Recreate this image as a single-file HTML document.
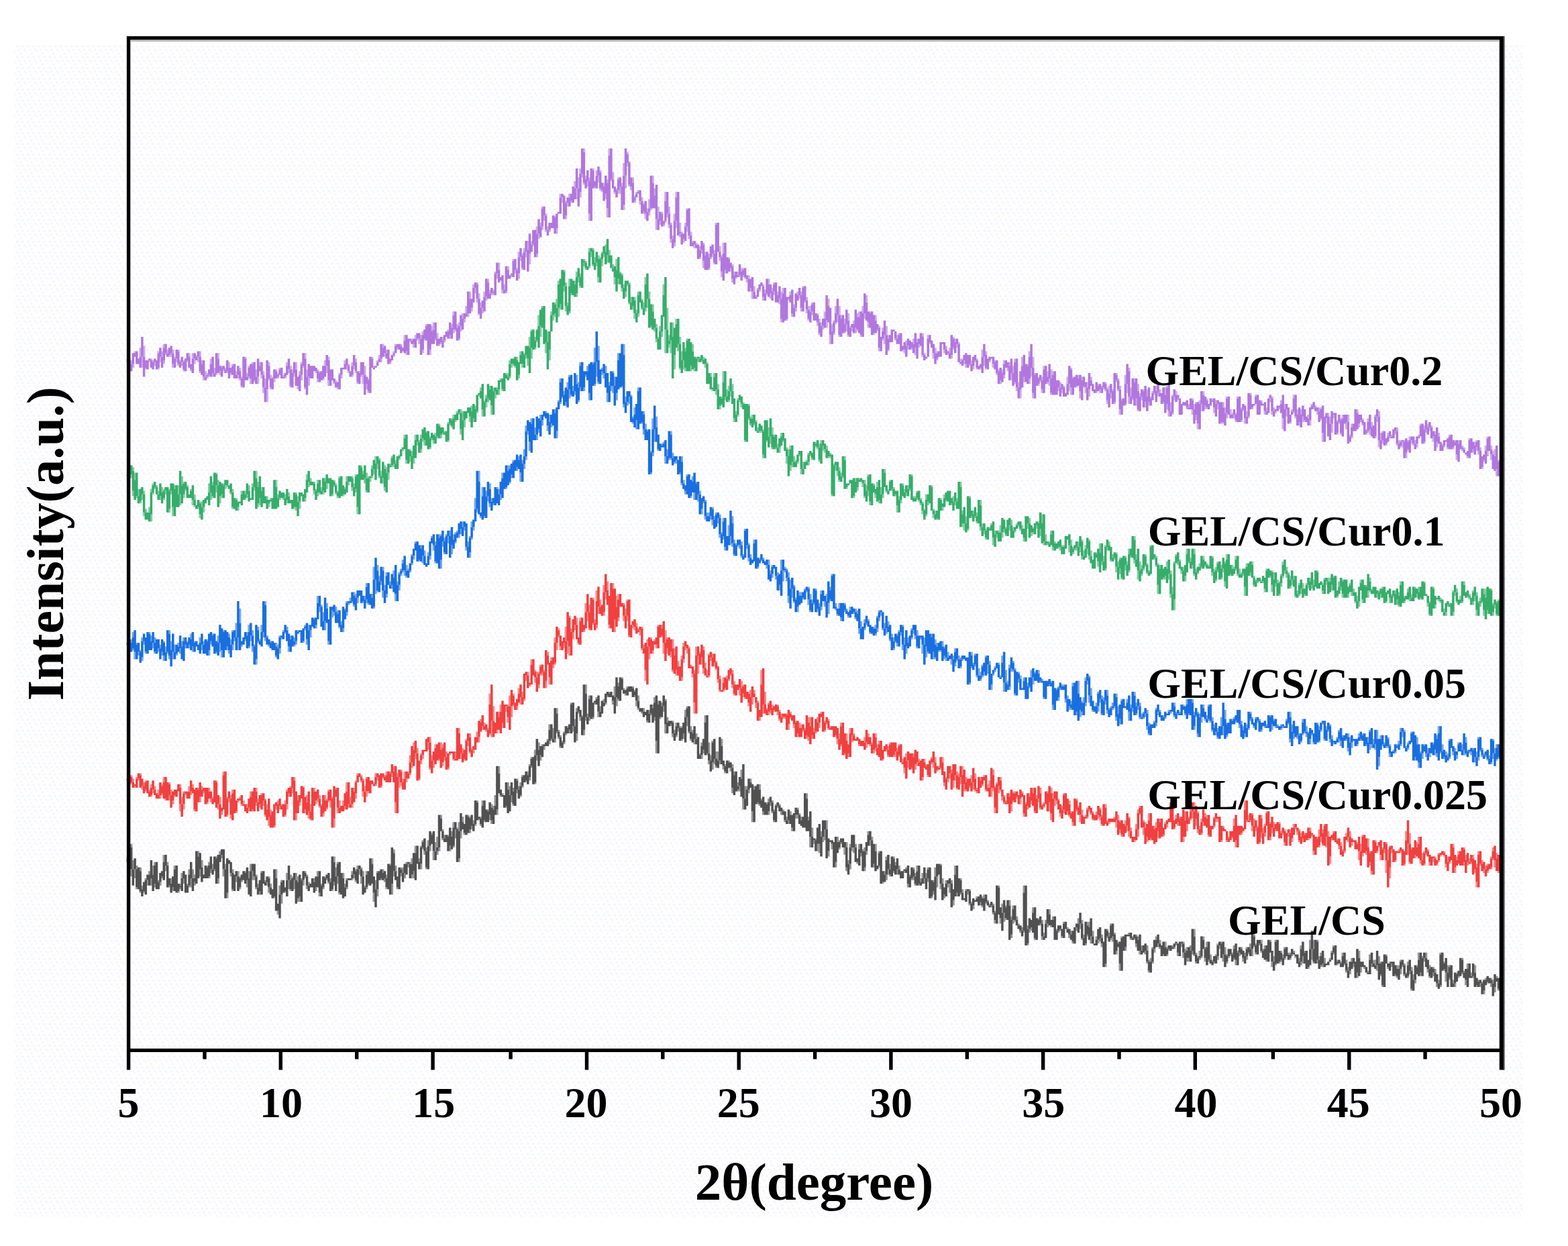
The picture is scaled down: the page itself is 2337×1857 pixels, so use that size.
<!DOCTYPE html>
<html lang="en">
<head>
<meta charset="utf-8">
<title>XRD patterns of GEL/CS films</title>
<style>
html,body{margin:0;padding:0;background:#ffffff;}
body{width:2337px;height:1857px;overflow:hidden;}
svg{display:block;}
text{font-family:"Liberation Serif","Times New Roman",serif;font-weight:bold;fill:#000;}
.tick{font-size:64px;text-anchor:middle;}
.lab{font-size:64px;}
.title{font-size:79px;text-anchor:middle;}
.ytitle{font-size:78px;text-anchor:middle;}
.c{fill:none;stroke-width:3.5;stroke-linecap:butt;}
.l{opacity:0.6;}
</style>
</head>
<body>
<svg width="2337" height="1857" viewBox="0 0 2337 1857">
<rect x="0" y="0" width="2337" height="1857" fill="#ffffff"/>
<defs><pattern id="dither" x="21.6" y="67.5" width="16.194" height="16.194" patternUnits="userSpaceOnUse"><rect width="16.194" height="16.194" fill="#fefefe"/><rect x="2.7" y="0" width="2.7" height="2.7" fill="#f2f2ff"/><rect x="10.8" y="0" width="2.7" height="2.7" fill="#f2f2ff"/><rect x="8.1" y="0" width="2.7" height="2.7" fill="#f8fff5"/><rect x="5.4" y="5.4" width="2.7" height="2.7" fill="#f2f2ff"/><rect x="13.5" y="5.4" width="2.7" height="2.7" fill="#f2f2ff"/><rect x="0" y="8.1" width="2.7" height="2.7" fill="#fff5f5"/><rect x="8.1" y="10.8" width="2.7" height="2.7" fill="#f2f2ff"/><rect x="2.7" y="13.5" width="2.7" height="2.7" fill="#f8fff5"/></pattern></defs>
<rect x="21.6" y="67.5" width="2248" height="1746" fill="url(#dither)"/>
<g id="curves">
<g stroke="#515151">
<path class="c l" d="M190.3 1276.6V1282.0M193.0 1282.0V1284.7M195.7 1257.7V1263.1M195.7 1295.5V1306.3M198.4 1282.0V1295.5M201.1 1295.5V1309.0M203.8 1290.1V1295.5M203.8 1322.5V1325.2M209.2 1292.8V1298.2M209.2 1327.9V1330.6M211.9 1319.8V1325.2M214.6 1327.9V1330.6M217.3 1309.0V1311.7M220.0 1311.7V1319.8M222.7 1298.2V1303.6M225.4 1309.0V1319.8M228.1 1290.1V1303.6M230.8 1284.7V1290.1M230.8 1317.1V1322.5M236.2 1311.7V1314.4M238.9 1314.4V1319.8M241.6 1306.3V1309.0M244.3 1273.9V1284.7M247.0 1290.1V1298.2M249.7 1284.7V1290.1M252.4 1319.8V1322.5M255.1 1309.0V1317.1M257.8 1322.5V1327.9M260.5 1290.1V1295.5M265.9 1327.9V1330.6M268.6 1317.1V1319.8M268.6 1322.5V1325.2M271.2 1300.9V1309.0M273.9 1309.0V1317.1M279.3 1317.1V1319.8M282.0 1295.5V1303.6M282.0 1319.8V1322.5M284.7 1309.0V1322.5M287.4 1295.5V1309.0M290.1 1303.6V1309.0M290.1 1314.4V1319.8M295.5 1268.5V1276.6M298.2 1295.5V1306.3M300.9 1282.0V1292.8M309.0 1290.1V1292.8M311.7 1284.7V1290.1M311.7 1306.3V1309.0M314.4 1295.5V1300.9M317.1 1287.4V1295.5M319.8 1295.5V1298.2M322.5 1276.6V1279.3M325.2 1309.0V1317.1M327.9 1268.5V1273.9M330.6 1273.9V1279.3M333.3 1295.5V1306.3M336.0 1287.4V1295.5M338.7 1330.6V1338.7M344.1 1300.9V1306.3M346.8 1295.5V1300.9M346.8 1325.2V1327.9M352.2 1306.3V1314.4M354.9 1298.2V1306.3M357.6 1306.3V1309.0M357.6 1322.5V1325.2M360.3 1311.7V1314.4M365.7 1298.2V1300.9M368.4 1311.7V1322.5M371.1 1298.2V1309.0M373.8 1287.4V1298.2M376.5 1298.2V1311.7M379.2 1306.3V1311.7M381.9 1303.6V1306.3M381.9 1322.5V1325.2M384.6 1317.1V1322.5M387.3 1327.9V1333.3M390.0 1298.2V1300.9M395.4 1311.7V1314.4M398.1 1314.4V1319.8M400.8 1306.3V1309.0M400.8 1322.5V1330.6M403.5 1317.1V1322.5M408.9 1336.0V1338.7M411.6 1295.5V1309.0M414.3 1357.6V1363.0M417.0 1319.8V1333.3M419.7 1311.7V1314.4M419.7 1333.3V1346.8M425.1 1327.9V1330.6M427.8 1300.9V1311.7M430.5 1311.7V1325.2M433.2 1303.6V1311.7M433.2 1325.2V1327.9M435.9 1306.3V1309.0M438.6 1311.7V1325.2M441.3 1300.9V1311.7M444.0 1306.3V1314.4M444.0 1338.7V1344.1M446.7 1336.0V1344.1M449.4 1309.0V1311.7M452.1 1311.7V1319.8M454.8 1298.2V1300.9M454.8 1306.3V1309.0M457.5 1303.6V1306.3M457.5 1319.8V1325.2M460.2 1314.4V1319.8M468.3 1309.0V1314.4M471.0 1322.5V1327.9M473.7 1298.2V1306.3M476.4 1330.6V1336.0M479.1 1317.1V1319.8M481.8 1322.5V1325.2M484.5 1306.3V1309.0M487.2 1309.0V1311.7M489.9 1314.4V1317.1M492.6 1309.0V1314.4M495.3 1325.2V1327.9M498.0 1276.6V1284.7M498.0 1314.4V1319.8M500.7 1292.8V1306.3M503.4 1284.7V1287.4M503.4 1306.3V1317.1M506.1 1330.6V1333.3M511.5 1300.9V1309.0M514.2 1317.1V1322.5M516.9 1309.0V1311.7M516.9 1322.5V1325.2M525.0 1298.2V1303.6M525.0 1309.0V1311.7M527.7 1303.6V1309.0M530.4 1295.5V1298.2M530.4 1311.7V1314.4M533.1 1290.1V1295.5M535.8 1295.5V1303.6M538.5 1292.8V1295.5M538.5 1306.3V1317.1M541.1 1298.2V1306.3M543.8 1319.8V1322.5M546.5 1298.2V1303.6M546.5 1322.5V1325.2M549.2 1317.1V1319.8M554.6 1279.3V1287.4M557.3 1330.6V1344.1M560.0 1311.7V1325.2M562.7 1298.2V1300.9M562.7 1325.2V1336.0M568.1 1309.0V1311.7M570.8 1295.5V1300.9M573.5 1309.0V1314.4M576.2 1303.6V1309.0M576.2 1322.5V1325.2M581.6 1287.4V1290.1M584.3 1317.1V1333.3M587.0 1265.8V1271.2M587.0 1298.2V1306.3M589.7 1290.1V1298.2M592.4 1322.5V1325.2M597.8 1292.8V1295.5M597.8 1300.9V1306.3M600.5 1292.8V1300.9M603.2 1300.9V1309.0M605.9 1284.7V1287.4M608.6 1287.4V1292.8M611.3 1284.7V1287.4M614.0 1279.3V1287.4M614.0 1303.6V1309.0M616.7 1298.2V1309.0M619.4 1260.4V1271.2M624.8 1279.3V1284.7M627.5 1260.4V1263.1M627.5 1287.4V1295.5M630.2 1252.3V1255.0M630.2 1263.1V1265.8M632.9 1268.5V1273.9M635.6 1263.1V1268.5M635.6 1292.8V1295.5M638.3 1252.3V1260.4M641.0 1260.4V1268.5M643.7 1241.5V1244.2M646.4 1268.5V1282.0M649.1 1255.0V1268.5M651.8 1246.9V1263.1M651.8 1268.5V1273.9M654.5 1263.1V1268.5M657.2 1214.5V1219.9M659.9 1236.1V1238.8M659.9 1249.6V1252.3M662.6 1244.2V1249.6M668.0 1244.2V1246.9M670.7 1260.4V1268.5M673.4 1238.8V1246.9M676.1 1225.3V1233.4M676.1 1260.4V1263.1M678.8 1236.1V1249.6M681.5 1233.4V1236.1M684.2 1225.3V1238.8M684.2 1279.3V1284.7M686.9 1238.8V1249.6M689.6 1217.2V1225.3M692.3 1241.5V1244.2M697.7 1214.5V1217.2M700.4 1217.2V1219.9M700.4 1236.1V1241.5M703.1 1230.7V1236.1M705.8 1222.6V1228.0M708.5 1228.0V1230.7M711.2 1193.0V1195.7M713.9 1219.9V1222.6M716.6 1217.2V1219.9M716.6 1228.0V1230.7M719.3 1193.0V1201.1M722.0 1222.6V1225.3M727.4 1206.5V1209.2M730.1 1214.5V1222.6M732.8 1198.4V1203.8M732.8 1222.6V1228.0M735.5 1201.1V1206.5M738.2 1184.9V1201.1M740.9 1206.5V1214.5M743.6 1141.7V1152.5M746.3 1184.9V1187.6M749.0 1182.2V1184.9M754.4 1201.1V1203.8M757.1 1166.0V1176.8M759.8 1171.4V1184.9M762.5 1184.9V1195.7M765.2 1174.1V1179.5M765.2 1198.4V1201.1M770.6 1160.6V1163.3M770.6 1176.8V1182.2M773.3 1171.4V1176.8M776.0 1166.0V1171.4M776.0 1184.9V1187.6M778.7 1155.2V1157.9M778.7 1171.4V1174.1M784.1 1163.3V1166.0M786.8 1149.8V1155.2M789.5 1139.0V1141.7M789.5 1157.9V1163.3M792.2 1128.2V1130.9M792.2 1141.7V1144.4M797.6 1117.4V1125.5M797.6 1166.0V1168.7M800.3 1125.5V1133.6M803.0 1106.6V1117.4M805.7 1125.5V1133.6M808.4 1109.3V1112.0M811.0 1112.0V1117.4M816.4 1101.2V1103.9M819.1 1079.6V1087.7M819.1 1103.9V1109.3M821.8 1101.2V1103.9M824.5 1085.0V1101.2M827.2 1101.2V1106.6M829.9 1055.3V1063.4M829.9 1090.4V1093.1M832.6 1087.7V1090.4M832.6 1098.5V1101.2M835.3 1095.8V1098.5M835.3 1112.0V1114.7M838.0 1103.9V1106.6M840.7 1090.4V1093.1M840.7 1106.6V1109.3M843.4 1093.1V1095.8M846.1 1082.3V1085.0M848.8 1087.7V1093.1M851.5 1047.2V1049.9M854.2 1082.3V1090.4M856.9 1071.5V1082.3M859.6 1055.3V1060.7M859.6 1093.1V1103.9M862.3 1060.7V1063.4M865.0 1068.8V1074.2M867.7 1066.1V1068.8M870.4 1087.7V1095.8M873.1 1020.2V1033.7M873.1 1068.8V1074.2M875.8 1063.4V1068.8M878.5 1036.4V1041.8M878.5 1068.8V1074.2M883.9 1068.8V1071.5M886.6 1047.2V1049.9M889.3 1039.1V1041.8M892.0 1060.7V1068.8M894.7 1052.6V1060.7M900.1 1041.8V1047.2M902.8 1047.2V1049.9M905.5 1036.4V1039.1M908.2 1031.0V1033.7M913.6 1044.5V1049.9M916.3 1022.9V1039.1M919.0 1039.1V1052.6M921.7 1017.5V1022.9M921.7 1041.8V1044.5M927.1 1009.4V1012.1M929.8 1025.6V1028.3M932.5 1033.7V1036.4M935.2 1022.9V1025.6M943.3 1022.9V1025.6M946.0 1028.3V1031.0M946.0 1036.4V1039.1M948.7 1044.5V1052.6M951.4 1036.4V1044.5M951.4 1055.3V1058.0M956.8 1060.7V1063.4M959.5 1055.3V1060.7M964.9 1074.2V1076.9M967.6 1058.0V1063.4M970.3 1063.4V1066.1M973.0 1049.9V1055.3M975.7 1039.1V1047.2M975.7 1068.8V1074.2M978.4 1103.9V1122.8M981.1 1044.5V1049.9M983.8 1068.8V1071.5M986.5 1047.2V1052.6M989.2 1052.6V1060.7M991.9 1041.8V1044.5M991.9 1079.6V1093.1M994.6 1068.8V1076.9M1000.0 1079.6V1082.3M1002.7 1074.2V1076.9M1002.7 1093.1V1098.5M1005.4 1087.7V1093.1M1008.1 1076.9V1082.3M1008.1 1095.8V1098.5M1010.8 1085.0V1090.4M1013.5 1082.3V1085.0M1016.2 1082.3V1085.0M1016.2 1101.2V1103.9M1018.9 1093.1V1101.2M1021.6 1058.0V1068.8M1024.3 1052.6V1055.3M1024.3 1068.8V1082.3M1027.0 1090.4V1093.1M1029.7 1082.3V1090.4M1029.7 1101.2V1103.9M1032.4 1087.7V1093.1M1035.1 1101.2V1109.3M1037.8 1093.1V1101.2M1043.2 1122.8V1125.5M1045.9 1106.6V1112.0M1045.9 1125.5V1130.9M1048.6 1117.4V1122.8M1051.3 1066.1V1076.9M1054.0 1122.8V1125.5M1056.7 1106.6V1122.8M1056.7 1133.6V1139.0M1059.4 1125.5V1133.6M1062.1 1103.9V1106.6M1062.1 1136.3V1147.1M1064.8 1130.9V1139.0M1067.5 1120.1V1130.9M1067.5 1141.7V1144.4M1070.2 1120.1V1133.6M1072.9 1133.6V1139.0M1075.6 1101.2V1112.0M1078.3 1141.7V1147.1M1080.9 1139.0V1141.7M1080.9 1149.8V1152.5M1086.3 1133.6V1136.3M1089.0 1144.4V1149.8M1091.7 1139.0V1144.4M1091.7 1174.1V1182.2M1094.4 1149.8V1155.2M1099.8 1166.0V1171.4M1099.8 1176.8V1179.5M1102.5 1171.4V1179.5M1105.2 1147.1V1160.6M1107.9 1190.3V1206.5M1110.6 1171.4V1190.3M1113.3 1171.4V1176.8M1116.0 1176.8V1182.2M1118.7 1160.6V1166.0M1121.4 1209.2V1225.3M1124.1 1171.4V1176.8M1129.5 1195.7V1198.4M1132.2 1168.7V1176.8M1132.2 1198.4V1201.1M1134.9 1190.3V1193.0M1137.6 1209.2V1214.5M1143.0 1195.7V1198.4M1145.7 1190.3V1195.7M1145.7 1209.2V1214.5M1148.4 1195.7V1201.1M1151.1 1193.0V1195.7M1151.1 1209.2V1211.9M1153.8 1206.5V1209.2M1153.8 1222.6V1225.3M1156.5 1198.4V1201.1M1159.2 1201.1V1203.8M1161.9 1198.4V1201.1M1164.6 1209.2V1214.5M1167.3 1206.5V1209.2M1170.0 1222.6V1225.3M1172.7 1217.2V1222.6M1175.4 1222.6V1228.0M1178.1 1209.2V1214.5M1180.8 1233.4V1238.8M1186.2 1214.5V1219.9M1188.9 1203.8V1206.5M1188.9 1214.5V1219.9M1191.6 1211.9V1214.5M1194.3 1217.2V1222.6M1202.4 1182.2V1190.3M1205.1 1217.2V1222.6M1207.8 1246.9V1263.1M1210.5 1233.4V1246.9M1213.2 1252.3V1257.7M1215.9 1249.6V1252.3M1218.6 1257.7V1268.5M1221.3 1257.7V1271.2M1224.0 1238.8V1246.9M1226.7 1246.9V1255.0M1229.4 1236.1V1252.3M1232.1 1222.6V1236.1M1234.8 1268.5V1276.6M1240.2 1257.7V1265.8M1245.6 1284.7V1292.8M1248.3 1246.9V1255.0M1251.0 1252.3V1255.0M1251.0 1263.1V1265.8M1253.7 1255.0V1257.7M1259.1 1263.1V1273.9M1261.8 1255.0V1263.1M1261.8 1292.8V1298.2M1264.5 1282.0V1287.4M1267.2 1257.7V1263.1M1267.2 1287.4V1295.5M1269.9 1263.1V1268.5M1272.6 1263.1V1271.2M1275.3 1257.7V1263.1M1278.0 1284.7V1287.4M1280.7 1257.7V1265.8M1283.4 1271.2V1276.6M1286.1 1265.8V1268.5M1288.8 1263.1V1268.5M1288.8 1292.8V1298.2M1291.5 1268.5V1273.9M1294.2 1238.8V1244.2M1296.9 1252.3V1260.4M1299.6 1246.9V1252.3M1302.3 1287.4V1292.8M1305.0 1257.7V1268.5M1310.4 1268.5V1271.2M1310.4 1290.1V1292.8M1315.8 1314.4V1317.1M1318.5 1298.2V1303.6M1321.2 1276.6V1282.0M1321.2 1303.6V1311.7M1323.9 1295.5V1303.6M1326.6 1287.4V1295.5M1326.6 1303.6V1306.3M1332.0 1276.6V1279.3M1332.0 1298.2V1300.9M1334.7 1284.7V1290.1M1337.4 1295.5V1303.6M1340.1 1290.1V1295.5M1348.2 1298.2V1300.9M1350.8 1292.8V1295.5M1353.5 1317.1V1322.5M1356.2 1303.6V1306.3M1358.9 1309.0V1311.7M1361.6 1292.8V1295.5M1361.6 1306.3V1311.7M1364.3 1300.9V1306.3M1364.3 1317.1V1319.8M1367.0 1290.1V1298.2M1369.7 1317.1V1319.8M1372.4 1309.0V1314.4M1375.1 1300.9V1309.0M1377.8 1309.0V1317.1M1380.5 1300.9V1309.0M1383.2 1292.8V1295.5M1383.2 1309.0V1314.4M1388.6 1336.0V1338.7M1391.3 1311.7V1314.4M1391.3 1327.9V1333.3M1394.0 1292.8V1306.3M1396.7 1306.3V1322.5M1402.1 1287.4V1290.1M1402.1 1317.1V1325.2M1404.8 1309.0V1317.1M1407.5 1333.3V1338.7M1410.2 1311.7V1317.1M1412.9 1317.1V1322.5M1415.6 1317.1V1330.6M1418.3 1311.7V1317.1M1421.0 1341.4V1349.5M1423.7 1290.1V1303.6M1426.4 1330.6V1336.0M1431.8 1309.0V1311.7M1431.8 1330.6V1333.3M1434.5 1325.2V1330.6M1439.9 1325.2V1327.9M1442.6 1327.9V1333.3M1445.3 1325.2V1327.9M1445.3 1346.8V1349.5M1448.0 1344.1V1346.8M1450.7 1349.5V1354.9M1456.1 1336.0V1338.7M1461.5 1344.1V1349.5M1464.2 1336.0V1338.7M1464.2 1349.5V1352.2M1466.9 1333.3V1338.7M1469.6 1344.1V1346.8M1472.3 1341.4V1344.1M1475.0 1346.8V1349.5M1477.7 1349.5V1352.2M1480.4 1346.8V1349.5M1480.4 1360.3V1363.0M1483.1 1357.6V1360.3M1483.1 1371.1V1376.5M1488.5 1319.8V1322.5M1491.2 1368.4V1376.5M1493.9 1346.8V1360.3M1496.6 1360.3V1373.8M1499.3 1349.5V1352.2M1499.3 1368.4V1371.1M1504.7 1341.4V1349.5M1507.4 1365.7V1371.1M1507.4 1392.7V1398.1M1510.1 1349.5V1354.9M1510.1 1371.1V1376.5M1512.8 1371.1V1373.8M1515.5 1365.7V1371.1M1518.2 1376.5V1379.2M1520.9 1387.3V1390.0M1523.6 1381.9V1387.3M1526.3 1319.8V1330.6M1526.3 1387.3V1390.0M1531.7 1379.2V1384.6M1531.7 1406.2V1408.9M1534.4 1384.6V1390.0M1537.1 1381.9V1387.3M1539.8 1352.2V1360.3M1542.5 1398.1V1400.8M1547.9 1368.4V1371.1M1550.6 1376.5V1379.2M1553.3 1371.1V1376.5M1553.3 1395.4V1400.8M1556.0 1390.0V1395.4M1558.7 1371.1V1376.5M1561.4 1376.5V1381.9M1564.1 1354.9V1363.0M1566.8 1379.2V1381.9M1569.5 1365.7V1371.1M1574.9 1384.6V1387.3M1577.6 1387.3V1390.0M1580.3 1384.6V1387.3M1583.0 1395.4V1398.1M1585.7 1373.8V1376.5M1591.1 1381.9V1384.6M1593.8 1392.7V1398.1M1596.5 1387.3V1392.7M1599.2 1403.5V1406.2M1604.6 1381.9V1387.3M1607.3 1368.4V1376.5M1610.0 1376.5V1384.6M1612.7 1371.1V1376.5M1612.7 1398.1V1400.8M1615.4 1392.7V1398.1M1618.1 1406.2V1408.9M1620.7 1373.8V1379.2M1620.7 1392.7V1395.4M1623.4 1373.8V1381.9M1626.1 1395.4V1406.2M1628.8 1387.3V1395.4M1634.2 1395.4V1400.8M1636.9 1400.8V1406.2M1639.6 1398.1V1403.5M1642.3 1392.7V1398.1M1642.3 1406.2V1411.6M1647.7 1435.9V1441.3M1650.4 1384.6V1387.3M1650.4 1395.4V1398.1M1653.1 1390.0V1395.4M1655.8 1376.5V1379.2M1655.8 1398.1V1400.8M1658.5 1395.4V1403.5M1661.2 1390.0V1392.7M1663.9 1417.0V1422.4M1666.6 1403.5V1406.2M1669.3 1435.9V1446.7M1672.0 1395.4V1398.1M1677.4 1411.6V1417.0M1682.8 1390.0V1392.7M1685.5 1398.1V1400.8M1688.2 1395.4V1398.1M1690.9 1398.1V1400.8M1693.6 1392.7V1395.4M1693.6 1406.2V1411.6M1696.3 1395.4V1400.8M1699.0 1417.0V1422.4M1701.7 1408.9V1417.0M1707.1 1417.0V1422.4M1709.8 1408.9V1417.0M1709.8 1433.2V1435.9M1712.5 1430.5V1433.2M1712.5 1446.7V1449.4M1715.2 1427.8V1433.2M1717.9 1411.6V1414.3M1717.9 1433.2V1435.9M1720.6 1414.3V1419.7M1723.3 1395.4V1400.8M1726.0 1406.2V1411.6M1728.7 1400.8V1406.2M1728.7 1411.6V1414.3M1734.1 1422.4V1425.1M1736.8 1403.5V1411.6M1739.5 1411.6V1414.3M1739.5 1422.4V1425.1M1742.2 1414.3V1417.0M1747.6 1408.9V1411.6M1750.3 1411.6V1414.3M1753.0 1406.2V1408.9M1755.7 1419.7V1425.1M1761.1 1406.2V1411.6M1763.8 1403.5V1406.2M1763.8 1419.7V1427.8M1766.5 1414.3V1419.7M1769.2 1411.6V1417.0M1769.2 1427.8V1433.2M1771.9 1427.8V1433.2M1774.6 1408.9V1417.0M1777.3 1417.0V1422.4M1780.0 1384.6V1395.4M1780.0 1422.4V1425.1M1782.7 1419.7V1422.4M1782.7 1433.2V1435.9M1785.4 1425.1V1427.8M1788.1 1417.0V1425.1M1788.1 1427.8V1430.5M1790.8 1425.1V1427.8M1793.5 1395.4V1400.8M1796.2 1411.6V1414.3M1796.2 1427.8V1433.2M1798.9 1403.5V1411.6M1801.6 1430.5V1433.2M1804.3 1422.4V1430.5M1807.0 1430.5V1433.2M1809.7 1433.2V1435.9M1812.4 1422.4V1425.1M1815.1 1406.2V1408.9M1815.1 1425.1V1430.5M1817.8 1408.9V1414.3M1820.5 1403.5V1406.2M1823.2 1422.4V1433.2M1825.9 1411.6V1422.4M1828.6 1422.4V1425.1M1828.6 1433.2V1435.9M1831.3 1425.1V1427.8M1834.0 1422.4V1425.1M1836.7 1419.7V1422.4M1839.4 1408.9V1414.3M1839.4 1427.8V1430.5M1842.1 1430.5V1438.6M1844.8 1417.0V1419.7M1847.5 1419.7V1425.1M1850.2 1411.6V1414.3M1852.9 1427.8V1433.2M1855.6 1419.7V1425.1M1858.3 1411.6V1414.3M1858.3 1425.1V1430.5M1861.0 1419.7V1422.4M1863.7 1406.2V1414.3M1866.4 1414.3V1425.1M1869.1 1392.7V1395.4M1869.1 1408.9V1411.6M1871.8 1406.2V1408.9M1871.8 1419.7V1422.4M1877.2 1406.2V1408.9M1879.9 1400.8V1406.2M1879.9 1417.0V1419.7M1882.6 1414.3V1417.0M1885.3 1408.9V1414.3M1888.0 1430.5V1433.2M1893.3 1400.8V1403.5M1896.0 1433.2V1441.3M1898.7 1425.1V1433.2M1901.4 1400.8V1403.5M1901.4 1435.9V1438.6M1906.8 1433.2V1435.9M1909.5 1417.0V1419.7M1909.5 1430.5V1433.2M1912.2 1422.4V1427.8M1914.9 1411.6V1414.3M1914.9 1427.8V1430.5M1920.3 1419.7V1422.4M1923.0 1419.7V1422.4M1923.0 1427.8V1430.5M1925.7 1422.4V1425.1M1928.4 1417.0V1419.7M1931.1 1425.1V1427.8M1936.5 1427.8V1433.2M1939.2 1408.9V1414.3M1939.2 1433.2V1438.6M1941.9 1425.1V1435.9M1944.6 1417.0V1419.7M1950.0 1441.3V1444.0M1952.7 1400.8V1414.3M1955.4 1414.3V1430.5M1958.1 1400.8V1414.3M1958.1 1433.2V1435.9M1963.5 1400.8V1403.5M1963.5 1430.5V1435.9M1966.2 1425.1V1430.5M1968.9 1419.7V1425.1M1968.9 1438.6V1441.3M1971.6 1435.9V1441.3M1974.3 1427.8V1435.9M1982.4 1427.8V1430.5M1985.1 1417.0V1419.7M1987.8 1408.9V1411.6M1987.8 1419.7V1422.4M1993.2 1430.5V1433.2M1993.2 1435.9V1438.6M1998.6 1433.2V1435.9M2001.3 1419.7V1425.1M2004.0 1435.9V1438.6M2006.7 1430.5V1435.9M2006.7 1446.7V1449.4M2009.4 1441.3V1446.7M2012.1 1446.7V1452.1M2014.8 1427.8V1433.2M2017.5 1435.9V1441.3M2022.9 1449.4V1457.5M2025.6 1417.0V1427.8M2028.3 1441.3V1449.4M2033.7 1441.3V1444.0M2039.1 1446.7V1449.4M2041.8 1422.4V1430.5M2044.5 1435.9V1441.3M2047.2 1430.5V1435.9M2049.9 1430.5V1438.6M2052.6 1438.6V1446.7M2055.3 1425.1V1435.9M2058.0 1433.2V1435.9M2058.0 1452.1V1454.8M2060.7 1468.3V1471.0M2066.1 1422.4V1425.1M2068.8 1441.3V1444.0M2071.5 1433.2V1435.9M2074.2 1435.9V1441.3M2079.6 1452.1V1454.8M2082.3 1438.6V1444.0M2082.3 1454.8V1457.5M2085.0 1438.6V1444.0M2087.7 1430.5V1433.2M2087.7 1444.0V1452.1M2090.4 1438.6V1441.3M2093.1 1435.9V1438.6M2093.1 1452.1V1454.8M2095.8 1449.4V1452.1M2098.5 1433.2V1438.6M2098.5 1454.8V1457.5M2101.2 1446.7V1452.1M2103.9 1441.3V1446.7M2103.9 1473.7V1476.4M2106.6 1452.1V1460.2M2109.3 1460.2V1465.6M2112.0 1438.6V1441.3M2114.7 1419.7V1430.5M2117.4 1449.4V1454.8M2120.1 1425.1V1427.8M2122.8 1427.8V1433.2M2125.5 1419.7V1427.8M2128.2 1444.0V1449.4M2130.9 1438.6V1444.0M2130.9 1454.8V1457.5M2136.3 1441.3V1444.0M2136.3 1449.4V1454.8M2139.0 1444.0V1449.4M2141.7 1465.6V1471.0M2144.4 1460.2V1465.6M2147.1 1419.7V1422.4M2147.1 1468.3V1471.0M2152.5 1433.2V1435.9M2152.5 1444.0V1446.7M2155.2 1449.4V1462.9M2157.9 1438.6V1449.4M2160.5 1438.6V1441.3M2160.5 1457.5V1460.2M2165.9 1460.2V1465.6M2168.6 1465.6V1471.0M2171.3 1449.4V1452.1M2174.0 1454.8V1457.5M2179.4 1427.8V1430.5M2179.4 1449.4V1452.1M2182.1 1446.7V1449.4M2184.8 1460.2V1468.3M2187.5 1435.9V1444.0M2192.9 1449.4V1454.8M2195.6 1454.8V1457.5M2198.3 1438.6V1449.4M2201.0 1468.3V1471.0M2203.7 1460.2V1462.9M2206.4 1465.6V1471.0M2209.1 1462.9V1465.6M2211.8 1476.4V1481.8M2214.5 1457.5V1460.2M2217.2 1462.9V1465.6M2222.6 1457.5V1460.2M2222.6 1465.6V1471.0M2225.3 1460.2V1465.6M2228.0 1471.0V1479.1M2230.7 1454.8V1457.5M2233.4 1473.7V1476.4M2238.8 1462.9V1465.6"/>
<path class="c" d="M190.3 1282.0V1284.7M193.0 1257.7V1282.0M195.7 1263.1V1295.5M198.4 1295.5V1319.8M201.1 1279.3V1295.5M203.8 1295.5V1322.5M206.5 1292.8V1325.2M209.2 1298.2V1327.9M211.9 1325.2V1336.0M214.6 1314.4V1327.9M217.3 1311.7V1333.3M220.0 1303.6V1311.7M222.7 1303.6V1319.8M225.4 1282.0V1309.0M228.1 1303.6V1327.9M230.8 1290.1V1317.1M233.5 1284.7V1325.2M236.2 1314.4V1325.2M238.9 1300.9V1314.4M241.6 1298.2V1306.3M244.3 1284.7V1311.7M247.0 1273.9V1290.1M249.7 1290.1V1322.5M252.4 1309.0V1319.8M255.1 1317.1V1330.6M257.8 1306.3V1322.5M260.5 1295.5V1327.9M263.2 1290.1V1330.6M265.9 1317.1V1327.9M268.6 1319.8V1322.5M271.2 1309.0V1327.9M273.9 1298.2V1309.0M276.6 1303.6V1330.6M279.3 1319.8V1330.6M282.0 1303.6V1319.8M284.7 1284.7V1309.0M287.4 1309.0V1327.9M290.1 1309.0V1314.4M292.8 1268.5V1317.1M295.5 1276.6V1309.0M298.2 1271.2V1295.5M300.9 1292.8V1314.4M303.6 1303.6V1309.0M306.3 1290.1V1309.0M309.0 1292.8V1309.0M311.7 1290.1V1306.3M314.4 1276.6V1295.5M317.1 1295.5V1303.6M319.8 1276.6V1295.5M322.5 1279.3V1317.1M325.2 1273.9V1309.0M327.9 1273.9V1284.7M330.6 1265.8V1273.9M333.3 1265.8V1295.5M336.0 1295.5V1338.7M338.7 1279.3V1330.6M341.4 1282.0V1287.4M344.1 1284.7V1300.9M346.8 1300.9V1325.2M349.5 1303.6V1327.9M352.2 1298.2V1306.3M354.9 1306.3V1327.9M357.6 1309.0V1322.5M360.3 1303.6V1311.7M363.0 1298.2V1311.7M365.7 1300.9V1317.1M368.4 1292.8V1311.7M371.1 1309.0V1333.3M373.8 1298.2V1336.0M376.5 1287.4V1298.2M379.2 1287.4V1306.3M381.9 1306.3V1322.5M384.6 1322.5V1333.3M387.3 1311.7V1327.9M390.0 1300.9V1333.3M392.7 1298.2V1317.1M395.4 1314.4V1319.8M398.1 1306.3V1314.4M400.8 1309.0V1322.5M403.5 1322.5V1333.3M406.2 1325.2V1338.7M408.9 1295.5V1336.0M411.6 1309.0V1357.6M414.3 1346.8V1357.6M417.0 1333.3V1368.4M419.7 1314.4V1333.3M422.4 1311.7V1330.6M425.1 1322.5V1327.9M427.8 1311.7V1336.0M430.5 1290.1V1311.7M433.2 1311.7V1325.2M435.9 1309.0V1327.9M438.6 1300.9V1311.7M441.3 1311.7V1346.8M444.0 1314.4V1338.7M446.7 1303.6V1336.0M449.4 1311.7V1344.1M452.1 1298.2V1311.7M454.8 1300.9V1306.3M457.5 1306.3V1319.8M460.2 1319.8V1327.9M462.9 1317.1V1322.5M465.6 1309.0V1322.5M468.3 1314.4V1330.6M471.0 1306.3V1322.5M473.7 1306.3V1322.5M476.4 1298.2V1330.6M479.1 1319.8V1336.0M481.8 1306.3V1322.5M484.5 1309.0V1317.1M487.2 1303.6V1309.0M489.9 1300.9V1314.4M492.6 1314.4V1327.9M495.3 1276.6V1325.2M498.0 1284.7V1314.4M500.7 1306.3V1327.9M503.4 1287.4V1306.3M506.1 1284.7V1330.6M508.8 1300.9V1333.3M511.5 1309.0V1338.7M514.2 1322.5V1336.0M516.9 1311.7V1322.5M519.6 1309.0V1311.7M522.3 1309.0V1311.7M525.0 1303.6V1309.0M527.7 1292.8V1303.6M530.4 1298.2V1311.7M533.1 1295.5V1317.1M535.8 1290.1V1295.5M538.5 1295.5V1306.3M541.1 1306.3V1333.3M543.8 1322.5V1330.6M546.5 1303.6V1322.5M549.2 1298.2V1317.1M551.9 1279.3V1319.8M554.6 1287.4V1317.1M557.3 1306.3V1330.6M560.0 1325.2V1352.2M562.7 1300.9V1325.2M565.4 1298.2V1311.7M568.1 1295.5V1309.0M570.8 1300.9V1311.7M573.5 1298.2V1309.0M576.2 1309.0V1322.5M578.9 1287.4V1325.2M581.6 1290.1V1333.3M584.3 1263.1V1317.1M587.0 1271.2V1298.2M589.7 1298.2V1311.7M592.4 1306.3V1322.5M595.1 1292.8V1325.2M597.8 1295.5V1300.9M600.5 1300.9V1314.4M603.2 1287.4V1300.9M605.9 1287.4V1303.6M608.6 1284.7V1287.4M611.3 1287.4V1309.0M614.0 1287.4V1303.6M616.7 1271.2V1298.2M619.4 1271.2V1311.7M622.1 1260.4V1287.4M624.8 1284.7V1295.5M627.5 1263.1V1287.4M630.2 1255.0V1263.1M632.9 1249.6V1268.5M635.6 1268.5V1292.8M638.3 1260.4V1295.5M641.0 1238.8V1260.4M643.7 1244.2V1257.7M646.4 1238.8V1268.5M649.1 1268.5V1282.0M651.8 1263.1V1268.5M654.5 1214.5V1263.1M657.2 1219.9V1238.8M659.9 1238.8V1249.6M662.6 1249.6V1255.0M665.3 1244.2V1255.0M668.0 1246.9V1268.5M670.7 1233.4V1260.4M673.4 1246.9V1265.8M676.1 1233.4V1260.4M678.8 1225.3V1236.1M681.5 1236.1V1284.7M684.2 1238.8V1279.3M686.9 1211.9V1238.8M689.6 1225.3V1236.1M692.3 1228.0V1241.5M695.0 1214.5V1244.2M697.7 1217.2V1241.5M700.4 1219.9V1236.1M703.1 1214.5V1230.7M705.8 1228.0V1238.8M708.5 1193.0V1228.0M711.2 1195.7V1222.6M713.9 1217.2V1219.9M716.6 1219.9V1228.0M719.3 1201.1V1233.4M722.0 1193.0V1222.6M724.7 1206.5V1225.3M727.4 1209.2V1225.3M730.1 1195.7V1214.5M732.8 1203.8V1222.6M735.5 1206.5V1228.0M738.2 1201.1V1214.5M740.9 1141.7V1206.5M743.6 1152.5V1182.2M746.3 1176.8V1184.9M749.0 1184.9V1187.6M751.7 1184.9V1203.8M754.4 1166.0V1201.1M757.1 1176.8V1211.9M759.8 1184.9V1209.2M762.5 1166.0V1184.9M765.2 1179.5V1198.4M767.9 1160.6V1201.1M770.6 1163.3V1176.8M773.3 1176.8V1190.3M776.0 1171.4V1184.9M778.7 1157.9V1171.4M781.4 1155.2V1166.0M784.1 1149.8V1163.3M786.8 1155.2V1168.7M789.5 1141.7V1157.9M792.2 1130.9V1141.7M794.9 1128.2V1168.7M797.6 1125.5V1166.0M800.3 1101.2V1125.5M803.0 1117.4V1141.7M805.7 1112.0V1125.5M808.4 1112.0V1128.2M811.0 1109.3V1112.0M813.7 1106.6V1112.0M816.4 1103.9V1112.0M819.1 1087.7V1103.9M821.8 1079.6V1101.2M824.5 1101.2V1106.6M827.2 1055.3V1101.2M829.9 1063.4V1090.4M832.6 1090.4V1098.5M835.3 1098.5V1112.0M838.0 1106.6V1114.7M840.7 1093.1V1106.6M843.4 1082.3V1093.1M846.1 1085.0V1093.1M848.8 1079.6V1087.7M851.5 1049.9V1093.1M854.2 1047.2V1082.3M856.9 1082.3V1106.6M859.6 1060.7V1093.1M862.3 1052.6V1060.7M865.0 1058.0V1068.8M867.7 1068.8V1095.8M870.4 1020.2V1087.7M873.1 1033.7V1068.8M875.8 1068.8V1079.6M878.5 1041.8V1068.8M881.2 1036.4V1071.5M883.9 1047.2V1068.8M886.6 1044.5V1047.2M889.3 1041.8V1049.9M892.0 1036.4V1060.7M894.7 1060.7V1068.8M897.4 1044.5V1063.4M900.1 1047.2V1052.6M902.8 1033.7V1047.2M905.5 1031.0V1036.4M908.2 1033.7V1039.1M910.9 1031.0V1039.1M913.6 1036.4V1044.5M916.3 1039.1V1063.4M919.0 1009.4V1039.1M921.7 1022.9V1041.8M924.4 1009.4V1044.5M927.1 1012.1V1028.3M929.8 1028.3V1033.7M932.5 1028.3V1033.7M935.2 1025.6V1036.4M937.9 1022.9V1031.0M940.6 1022.9V1031.0M943.3 1025.6V1039.1M946.0 1031.0V1036.4M948.7 1025.6V1044.5M951.4 1044.5V1055.3M954.1 1055.3V1060.7M956.8 1055.3V1060.7M959.5 1060.7V1068.8M962.2 1060.7V1066.1M964.9 1058.0V1074.2M967.6 1063.4V1076.9M970.3 1049.9V1063.4M973.0 1055.3V1076.9M975.7 1047.2V1068.8M978.4 1036.4V1103.9M981.1 1049.9V1122.8M983.8 1044.5V1068.8M986.5 1052.6V1068.8M989.2 1036.4V1052.6M991.9 1044.5V1079.6M994.6 1076.9V1093.1M997.3 1074.2V1082.3M1000.0 1074.2V1079.6M1002.7 1076.9V1093.1M1005.4 1093.1V1103.9M1008.1 1082.3V1095.8M1010.8 1076.9V1085.0M1013.5 1085.0V1103.9M1016.2 1085.0V1101.2M1018.9 1076.9V1093.1M1021.6 1068.8V1106.6M1024.3 1055.3V1068.8M1027.0 1052.6V1090.4M1029.7 1090.4V1101.2M1032.4 1093.1V1106.6M1035.1 1082.3V1101.2M1037.8 1101.2V1109.3M1040.5 1098.5V1130.9M1043.2 1125.5V1130.9M1045.9 1112.0V1125.5M1048.6 1101.2V1117.4M1051.3 1076.9V1125.5M1054.0 1066.1V1122.8M1056.7 1122.8V1133.6M1059.4 1133.6V1149.8M1062.1 1106.6V1136.3M1064.8 1101.2V1130.9M1067.5 1130.9V1141.7M1070.2 1133.6V1144.4M1072.9 1098.5V1133.6M1075.6 1112.0V1139.0M1078.3 1133.6V1141.7M1080.9 1141.7V1149.8M1083.6 1133.6V1152.5M1086.3 1136.3V1144.4M1089.0 1136.3V1144.4M1091.7 1144.4V1174.1M1094.4 1155.2V1184.9M1097.1 1149.8V1179.5M1099.8 1171.4V1176.8M1102.5 1157.9V1171.4M1105.2 1160.6V1187.6M1107.9 1139.0V1190.3M1110.6 1190.3V1206.5M1113.3 1176.8V1201.1M1116.0 1160.6V1176.8M1118.7 1166.0V1174.1M1121.4 1168.7V1209.2M1124.1 1176.8V1225.3M1126.8 1171.4V1198.4M1129.5 1168.7V1195.7M1132.2 1176.8V1198.4M1134.9 1193.0V1203.8M1137.6 1187.6V1209.2M1140.3 1195.7V1214.5M1143.0 1198.4V1214.5M1145.7 1195.7V1209.2M1148.4 1187.6V1195.7M1151.1 1195.7V1209.2M1153.8 1209.2V1222.6M1156.5 1201.1V1225.3M1159.2 1195.7V1201.1M1161.9 1201.1V1209.2M1164.6 1203.8V1209.2M1167.3 1209.2V1214.5M1170.0 1209.2V1222.6M1172.7 1222.6V1228.0M1175.4 1206.5V1222.6M1178.1 1214.5V1228.0M1180.8 1214.5V1233.4M1183.5 1211.9V1238.8M1186.2 1203.8V1214.5M1188.9 1206.5V1214.5M1191.6 1214.5V1228.0M1194.3 1222.6V1230.7M1197.0 1217.2V1233.4M1199.7 1182.2V1233.4M1202.4 1190.3V1238.8M1205.1 1222.6V1238.8M1207.8 1209.2V1246.9M1210.5 1246.9V1263.1M1213.2 1249.6V1252.3M1215.9 1252.3V1268.5M1218.6 1233.4V1257.7M1221.3 1228.0V1257.7M1224.0 1246.9V1276.6M1226.7 1222.6V1246.9M1229.4 1222.6V1236.1M1232.1 1236.1V1279.3M1234.8 1249.6V1268.5M1237.5 1252.3V1255.0M1240.2 1252.3V1257.7M1242.9 1255.0V1292.8M1245.6 1246.9V1284.7M1248.3 1255.0V1271.2M1251.0 1255.0V1263.1M1253.7 1249.6V1255.0M1256.4 1249.6V1263.1M1259.1 1255.0V1263.1M1261.8 1263.1V1292.8M1264.5 1287.4V1303.6M1267.2 1263.1V1287.4M1269.9 1244.2V1263.1M1272.6 1244.2V1263.1M1275.3 1263.1V1284.7M1278.0 1279.3V1284.7M1280.7 1265.8V1290.1M1283.4 1257.7V1271.2M1286.1 1268.5V1298.2M1288.8 1268.5V1292.8M1291.5 1255.0V1268.5M1294.2 1244.2V1260.4M1296.9 1238.8V1252.3M1299.6 1252.3V1292.8M1302.3 1257.7V1287.4M1305.0 1268.5V1298.2M1307.7 1290.1V1295.5M1310.4 1271.2V1290.1M1313.1 1268.5V1317.1M1315.8 1298.2V1314.4M1318.5 1303.6V1314.4M1321.2 1282.0V1303.6M1323.9 1273.9V1295.5M1326.6 1295.5V1303.6M1329.3 1276.6V1306.3M1332.0 1279.3V1298.2M1334.7 1290.1V1303.6M1337.4 1279.3V1295.5M1340.1 1295.5V1303.6M1342.8 1298.2V1309.0M1345.5 1298.2V1309.0M1348.2 1295.5V1298.2M1350.8 1295.5V1300.9M1353.5 1290.1V1317.1M1356.2 1306.3V1322.5M1358.9 1292.8V1309.0M1361.6 1295.5V1306.3M1364.3 1306.3V1317.1M1367.0 1298.2V1319.8M1369.7 1290.1V1317.1M1372.4 1314.4V1319.8M1375.1 1309.0V1317.1M1377.8 1292.8V1309.0M1380.5 1309.0V1325.2M1383.2 1295.5V1309.0M1385.9 1292.8V1338.7M1388.6 1311.7V1336.0M1391.3 1314.4V1327.9M1394.0 1306.3V1341.4M1396.7 1287.4V1306.3M1399.4 1287.4V1303.6M1402.1 1290.1V1317.1M1404.8 1317.1V1341.4M1407.5 1322.5V1333.3M1410.2 1317.1V1336.0M1412.9 1311.7V1317.1M1415.6 1309.0V1317.1M1418.3 1317.1V1352.2M1421.0 1325.2V1341.4M1423.7 1303.6V1336.0M1426.4 1290.1V1330.6M1429.1 1309.0V1336.0M1431.8 1311.7V1330.6M1434.5 1330.6V1341.4M1437.2 1338.7V1341.4M1439.9 1327.9V1344.1M1442.6 1325.2V1327.9M1445.3 1327.9V1346.8M1448.0 1346.8V1357.6M1450.7 1338.7V1349.5M1453.4 1341.4V1344.1M1456.1 1338.7V1344.1M1458.8 1336.0V1349.5M1461.5 1333.3V1344.1M1464.2 1338.7V1349.5M1466.9 1338.7V1357.6M1469.6 1333.3V1344.1M1472.3 1344.1V1349.5M1475.0 1349.5V1352.2M1477.7 1344.1V1349.5M1480.4 1349.5V1360.3M1483.1 1360.3V1371.1M1485.8 1319.8V1376.5M1488.5 1322.5V1363.0M1491.2 1352.2V1368.4M1493.9 1360.3V1387.3M1496.6 1341.4V1360.3M1499.3 1352.2V1368.4M1502.0 1341.4V1371.1M1504.7 1349.5V1400.8M1507.4 1371.1V1392.7M1510.1 1354.9V1371.1M1512.8 1349.5V1371.1M1515.5 1371.1V1379.2M1518.2 1379.2V1384.6M1520.9 1379.2V1387.3M1523.6 1387.3V1395.4M1526.3 1330.6V1387.3M1529.0 1319.8V1408.9M1531.7 1384.6V1406.2M1534.4 1368.4V1384.6M1537.1 1371.1V1381.9M1539.8 1360.3V1390.0M1542.5 1352.2V1398.1M1545.2 1368.4V1400.8M1547.9 1371.1V1379.2M1550.6 1365.7V1376.5M1553.3 1376.5V1395.4M1556.0 1395.4V1400.8M1558.7 1376.5V1398.1M1561.4 1354.9V1376.5M1564.1 1363.0V1379.2M1566.8 1371.1V1379.2M1569.5 1371.1V1381.9M1572.2 1365.7V1400.8M1574.9 1387.3V1400.8M1577.6 1379.2V1387.3M1580.3 1379.2V1384.6M1583.0 1384.6V1395.4M1585.7 1376.5V1398.1M1588.4 1373.8V1384.6M1591.1 1384.6V1390.0M1593.8 1384.6V1392.7M1596.5 1392.7V1400.8M1599.2 1387.3V1403.5M1601.9 1381.9V1406.2M1604.6 1376.5V1381.9M1607.3 1376.5V1390.0M1610.0 1360.3V1376.5M1612.7 1376.5V1398.1M1615.4 1398.1V1408.9M1618.1 1373.8V1406.2M1620.7 1379.2V1392.7M1623.4 1381.9V1400.8M1626.1 1368.4V1395.4M1628.8 1395.4V1406.2M1631.5 1406.2V1408.9M1634.2 1400.8V1408.9M1636.9 1384.6V1400.8M1639.6 1381.9V1398.1M1642.3 1398.1V1406.2M1645.0 1403.5V1441.3M1647.7 1384.6V1435.9M1650.4 1387.3V1395.4M1653.1 1395.4V1403.5M1655.8 1379.2V1398.1M1658.5 1376.5V1395.4M1661.2 1392.7V1422.4M1663.9 1400.8V1417.0M1666.6 1406.2V1411.6M1669.3 1403.5V1435.9M1672.0 1398.1V1446.7M1674.7 1395.4V1417.0M1677.4 1392.7V1411.6M1680.1 1392.7V1395.4M1682.8 1392.7V1395.4M1685.5 1390.0V1398.1M1688.2 1398.1V1400.8M1690.9 1392.7V1398.1M1693.6 1395.4V1406.2M1696.3 1400.8V1417.0M1699.0 1392.7V1417.0M1701.7 1417.0V1422.4M1704.4 1408.9V1419.7M1707.1 1406.2V1417.0M1709.8 1417.0V1433.2M1712.5 1433.2V1446.7M1715.2 1433.2V1449.4M1717.9 1414.3V1433.2M1720.6 1400.8V1414.3M1723.3 1400.8V1411.6M1726.0 1392.7V1406.2M1728.7 1406.2V1411.6M1731.4 1408.9V1425.1M1734.1 1403.5V1422.4M1736.8 1411.6V1425.1M1739.5 1414.3V1422.4M1742.2 1408.9V1414.3M1744.9 1408.9V1417.0M1747.6 1411.6V1414.3M1750.3 1406.2V1411.6M1753.0 1403.5V1406.2M1755.7 1406.2V1419.7M1758.4 1403.5V1425.1M1761.1 1403.5V1406.2M1763.8 1406.2V1419.7M1766.5 1419.7V1438.6M1769.2 1417.0V1427.8M1771.9 1411.6V1427.8M1774.6 1417.0V1433.2M1777.3 1384.6V1417.0M1780.0 1395.4V1422.4M1782.7 1422.4V1433.2M1785.4 1427.8V1435.9M1788.1 1425.1V1427.8M1790.8 1395.4V1425.1M1793.5 1400.8V1414.3M1796.2 1414.3V1427.8M1798.9 1411.6V1438.6M1801.6 1403.5V1430.5M1804.3 1430.5V1435.9M1807.0 1433.2V1438.6M1809.7 1425.1V1433.2M1812.4 1425.1V1435.9M1815.1 1408.9V1425.1M1817.8 1403.5V1408.9M1820.5 1406.2V1427.8M1823.2 1403.5V1422.4M1825.9 1422.4V1441.3M1828.6 1425.1V1433.2M1831.3 1414.3V1425.1M1834.0 1414.3V1422.4M1836.7 1422.4V1433.2M1839.4 1414.3V1427.8M1842.1 1406.2V1430.5M1844.8 1419.7V1438.6M1847.5 1411.6V1419.7M1850.2 1414.3V1422.4M1852.9 1417.0V1427.8M1855.6 1425.1V1435.9M1858.3 1414.3V1425.1M1861.0 1411.6V1419.7M1863.7 1414.3V1425.1M1866.4 1390.0V1414.3M1869.1 1395.4V1408.9M1871.8 1408.9V1419.7M1874.5 1400.8V1422.4M1877.2 1400.8V1406.2M1879.9 1406.2V1417.0M1882.6 1417.0V1427.8M1885.3 1414.3V1430.5M1888.0 1408.9V1430.5M1890.6 1400.8V1433.2M1893.3 1403.5V1419.7M1896.0 1417.0V1433.2M1898.7 1433.2V1446.7M1901.4 1403.5V1435.9M1904.1 1400.8V1435.9M1906.8 1417.0V1433.2M1909.5 1419.7V1430.5M1912.2 1427.8V1438.6M1914.9 1414.3V1427.8M1917.6 1411.6V1425.1M1920.3 1422.4V1430.5M1923.0 1422.4V1427.8M1925.7 1414.3V1422.4M1928.4 1419.7V1422.4M1931.1 1422.4V1425.1M1933.8 1422.4V1435.9M1936.5 1433.2V1441.3M1939.2 1414.3V1433.2M1941.9 1403.5V1425.1M1944.6 1419.7V1435.9M1947.3 1417.0V1444.0M1950.0 1430.5V1441.3M1952.7 1414.3V1438.6M1955.4 1387.3V1414.3M1958.1 1414.3V1433.2M1960.8 1400.8V1435.9M1963.5 1403.5V1430.5M1966.2 1430.5V1444.0M1968.9 1425.1V1438.6M1971.6 1417.0V1435.9M1974.3 1435.9V1441.3M1977.0 1435.9V1438.6M1979.7 1433.2V1438.6M1982.4 1430.5V1433.2M1985.1 1419.7V1430.5M1987.8 1411.6V1419.7M1990.5 1408.9V1438.6M1993.2 1433.2V1435.9M1995.9 1430.5V1435.9M1998.6 1435.9V1441.3M2001.3 1425.1V1441.3M2004.0 1419.7V1435.9M2006.7 1435.9V1446.7M2009.4 1446.7V1457.5M2012.1 1433.2V1446.7M2014.8 1433.2V1444.0M2017.5 1427.8V1435.9M2020.2 1433.2V1457.5M2022.9 1414.3V1449.4M2025.6 1427.8V1454.8M2028.3 1433.2V1441.3M2031.0 1433.2V1441.3M2033.7 1438.6V1441.3M2036.4 1441.3V1449.4M2039.1 1449.4V1452.1M2041.8 1430.5V1452.1M2044.5 1419.7V1435.9M2047.2 1435.9V1441.3M2049.9 1438.6V1444.0M2052.6 1417.0V1438.6M2055.3 1435.9V1460.2M2058.0 1435.9V1452.1M2060.7 1433.2V1468.3M2063.4 1422.4V1471.0M2066.1 1425.1V1435.9M2068.8 1435.9V1441.3M2071.5 1435.9V1446.7M2074.2 1433.2V1435.9M2076.9 1433.2V1454.8M2079.6 1438.6V1452.1M2082.3 1444.0V1454.8M2085.0 1444.0V1460.2M2087.7 1433.2V1444.0M2090.4 1430.5V1438.6M2093.1 1438.6V1452.1M2095.8 1452.1V1457.5M2098.5 1438.6V1454.8M2101.2 1430.5V1446.7M2103.9 1446.7V1473.7M2106.6 1460.2V1476.4M2109.3 1438.6V1460.2M2112.0 1441.3V1452.1M2114.7 1430.5V1454.8M2117.4 1419.7V1449.4M2120.1 1427.8V1454.8M2122.8 1419.7V1427.8M2125.5 1427.8V1441.3M2128.2 1430.5V1444.0M2130.9 1444.0V1454.8M2133.6 1441.3V1457.5M2136.3 1444.0V1449.4M2139.0 1449.4V1462.9M2141.7 1452.1V1465.6M2144.4 1465.6V1473.7M2147.1 1422.4V1468.3M2149.8 1419.7V1446.7M2152.5 1435.9V1444.0M2155.2 1427.8V1449.4M2157.9 1449.4V1471.0M2160.5 1441.3V1457.5M2163.2 1438.6V1471.0M2165.9 1465.6V1471.0M2168.6 1449.4V1465.6M2171.3 1452.1V1462.9M2174.0 1446.7V1454.8M2176.7 1427.8V1454.8M2179.4 1430.5V1449.4M2182.1 1449.4V1457.5M2184.8 1444.0V1460.2M2187.5 1444.0V1471.0M2190.2 1435.9V1457.5M2192.9 1454.8V1457.5M2195.6 1435.9V1454.8M2198.3 1449.4V1471.0M2201.0 1457.5V1468.3M2203.7 1462.9V1471.0M2206.4 1460.2V1465.6M2209.1 1465.6V1481.8M2211.8 1460.2V1476.4M2214.5 1460.2V1468.3M2217.2 1454.8V1462.9M2219.9 1457.5V1465.6M2222.6 1460.2V1465.6M2225.3 1465.6V1484.4M2228.0 1452.1V1471.0M2230.7 1457.5V1462.9M2233.4 1457.5V1473.7M2236.1 1462.9V1476.4"/>
</g>
<g stroke="#F14040">
<path class="c l" d="M193.0 1160.6V1163.3M195.7 1155.2V1157.9M195.7 1166.0V1168.7M198.4 1160.6V1166.0M201.1 1171.4V1174.1M203.8 1157.9V1160.6M206.5 1160.6V1163.3M209.2 1152.5V1155.2M211.9 1171.4V1176.8M214.6 1166.0V1171.4M217.3 1163.3V1166.0M217.3 1176.8V1179.5M222.7 1176.8V1179.5M225.4 1168.7V1174.1M225.4 1184.9V1187.6M228.1 1176.8V1182.2M230.8 1171.4V1176.8M236.2 1176.8V1184.9M238.9 1184.9V1190.3M241.6 1168.7V1171.4M241.6 1182.2V1184.9M244.3 1157.9V1166.0M247.0 1190.3V1193.0M252.4 1166.0V1168.7M252.4 1184.9V1193.0M255.1 1176.8V1184.9M257.8 1193.0V1198.4M260.5 1184.9V1187.6M268.6 1168.7V1174.1M268.6 1198.4V1209.2M271.2 1187.6V1198.4M273.9 1179.5V1182.2M273.9 1198.4V1206.5M276.6 1182.2V1184.9M282.0 1171.4V1179.5M284.7 1179.5V1184.9M287.4 1168.7V1174.1M290.1 1206.5V1209.2M295.5 1174.1V1176.8M298.2 1187.6V1195.7M300.9 1171.4V1176.8M303.6 1179.5V1182.2M309.0 1195.7V1198.4M311.7 1174.1V1179.5M314.4 1190.3V1195.7M317.1 1187.6V1190.3M322.5 1163.3V1166.0M325.2 1198.4V1206.5M327.9 1187.6V1198.4M330.6 1209.2V1214.5M333.3 1149.8V1155.2M338.7 1187.6V1190.3M338.7 1214.5V1217.2M341.4 1190.3V1195.7M344.1 1184.9V1190.3M344.1 1214.5V1219.9M346.8 1176.8V1182.2M352.2 1209.2V1211.9M354.9 1193.0V1195.7M357.6 1187.6V1190.3M360.3 1198.4V1201.1M363.0 1193.0V1198.4M368.4 1198.4V1203.8M371.1 1203.8V1209.2M373.8 1179.5V1187.6M376.5 1206.5V1209.2M381.9 1174.1V1179.5M381.9 1195.7V1201.1M384.6 1190.3V1195.7M387.3 1198.4V1203.8M390.0 1182.2V1184.9M392.7 1193.0V1201.1M395.4 1190.3V1193.0M395.4 1214.5V1217.2M398.1 1198.4V1206.5M400.8 1217.2V1230.7M403.5 1206.5V1214.5M408.9 1230.7V1233.4M411.6 1201.1V1206.5M414.3 1193.0V1198.4M417.0 1201.1V1206.5M419.7 1198.4V1201.1M425.1 1193.0V1198.4M425.1 1214.5V1217.2M427.8 1176.8V1179.5M427.8 1198.4V1206.5M430.5 1182.2V1187.6M433.2 1171.4V1174.1M435.9 1174.1V1182.2M438.6 1157.9V1163.3M441.3 1211.9V1222.6M444.0 1184.9V1193.0M446.7 1195.7V1201.1M452.1 1171.4V1174.1M454.8 1206.5V1211.9M457.5 1184.9V1195.7M460.2 1209.2V1219.9M462.9 1198.4V1209.2M462.9 1219.9V1222.6M468.3 1174.1V1179.5M471.0 1193.0V1198.4M473.7 1190.3V1195.7M476.4 1184.9V1190.3M476.4 1201.1V1203.8M479.1 1198.4V1201.1M481.8 1211.9V1217.2M484.5 1184.9V1193.0M487.2 1190.3V1193.0M487.2 1203.8V1206.5M489.9 1176.8V1179.5M489.9 1193.0V1195.7M492.6 1193.0V1203.8M495.3 1187.6V1190.3M498.0 1219.9V1233.4M500.7 1174.1V1176.8M503.4 1203.8V1211.9M506.1 1193.0V1203.8M511.5 1193.0V1201.1M514.2 1201.1V1206.5M516.9 1166.0V1179.5M519.6 1198.4V1203.8M522.3 1187.6V1198.4M525.0 1198.4V1203.8M527.7 1174.1V1179.5M530.4 1163.3V1166.0M530.4 1182.2V1190.3M533.1 1152.5V1155.2M538.5 1155.2V1157.9M538.5 1163.3V1166.0M541.1 1160.6V1163.3M541.1 1179.5V1187.6M543.8 1171.4V1179.5M546.5 1157.9V1160.6M546.5 1179.5V1187.6M549.2 1179.5V1182.2M557.3 1166.0V1168.7M560.0 1152.5V1157.9M560.0 1168.7V1171.4M562.7 1157.9V1163.3M568.1 1171.4V1174.1M570.8 1157.9V1160.6M573.5 1155.2V1157.9M576.2 1149.8V1155.2M581.6 1149.8V1152.5M584.3 1152.5V1157.9M587.0 1141.7V1149.8M589.7 1195.7V1211.9M592.4 1152.5V1157.9M595.1 1157.9V1174.1M597.8 1147.1V1149.8M597.8 1166.0V1171.4M600.5 1160.6V1166.0M603.2 1149.8V1160.6M605.9 1160.6V1166.0M608.6 1149.8V1152.5M611.3 1125.5V1136.3M611.3 1152.5V1155.2M614.0 1136.3V1144.4M616.7 1106.6V1117.4M619.4 1122.8V1130.9M622.1 1114.7V1122.8M624.8 1160.6V1163.3M627.5 1122.8V1125.5M627.5 1133.6V1139.0M630.2 1125.5V1130.9M638.3 1106.6V1117.4M641.0 1098.5V1106.6M641.0 1144.4V1147.1M643.7 1125.5V1133.6M646.4 1133.6V1144.4M649.1 1109.3V1114.7M654.5 1130.9V1133.6M657.2 1106.6V1117.4M659.9 1109.3V1114.7M659.9 1136.3V1141.7M662.6 1128.2V1133.6M665.3 1120.1V1128.2M668.0 1144.4V1147.1M670.7 1122.8V1125.5M676.1 1130.9V1133.6M678.8 1120.1V1130.9M684.2 1085.0V1093.1M686.9 1122.8V1130.9M689.6 1114.7V1122.8M692.3 1130.9V1133.6M695.0 1101.2V1103.9M697.7 1103.9V1112.0M700.4 1093.1V1098.5M700.4 1120.1V1122.8M703.1 1114.7V1117.4M705.8 1117.4V1122.8M711.2 1090.4V1098.5M713.9 1098.5V1106.6M716.6 1071.5V1076.9M719.3 1082.3V1087.7M722.0 1076.9V1082.3M724.7 1087.7V1090.4M727.4 1085.0V1087.7M730.1 1033.7V1049.9M730.1 1093.1V1095.8M732.8 1074.2V1098.5M735.5 1052.6V1074.2M740.9 1087.7V1093.1M743.6 1060.7V1068.8M746.3 1049.9V1060.7M749.0 1076.9V1085.0M754.4 1052.6V1060.7M757.1 1049.9V1052.6M757.1 1068.8V1076.9M759.8 1036.4V1052.6M762.5 1052.6V1068.8M765.2 1033.7V1036.4M765.2 1049.9V1052.6M770.6 1052.6V1058.0M773.3 1025.6V1033.7M776.0 1039.1V1049.9M778.7 1031.0V1039.1M781.4 1041.8V1044.5M784.1 1006.7V1014.8M786.8 1001.3V1006.7M789.5 1020.2V1022.9M792.2 982.4V990.5M797.6 998.6V1001.3M797.6 1009.4V1017.5M800.3 1001.3V1009.4M803.0 1001.3V1004.0M803.0 1020.2V1025.6M805.7 990.5V993.2M805.7 1004.0V1006.7M808.4 1001.3V1006.7M811.0 998.6V1001.3M813.7 1014.8V1025.6M816.4 971.6V977.0M819.1 1009.4V1020.2M821.8 979.7V985.1M824.5 990.5V995.9M827.2 950.0V958.1M827.2 987.8V990.5M829.9 958.1V968.9M832.6 936.6V939.3M832.6 947.3V950.0M835.3 963.5V968.9M840.7 958.1V966.2M843.4 933.9V955.4M846.1 955.4V974.3M848.8 917.7V920.4M848.8 963.5V977.0M851.5 936.6V942.0M854.2 942.0V952.7M856.9 931.2V939.3M859.6 920.4V931.2M862.3 958.1V960.8M865.0 920.4V925.8M870.4 939.3V942.0M873.1 898.8V912.3M875.8 912.3V925.8M878.5 901.5V912.3M878.5 936.6V939.3M883.9 890.7V893.4M883.9 928.5V931.2M886.6 923.1V928.5M889.3 879.9V896.1M889.3 931.2V936.6M892.0 904.2V915.0M894.7 893.4V904.2M900.1 871.8V882.6M900.1 912.3V917.7M902.8 882.6V893.4M905.5 866.4V879.9M908.2 931.2V936.6M913.6 869.1V877.2M916.3 923.1V942.0M919.0 888.0V904.2M921.7 885.3V893.4M921.7 920.4V925.8M929.8 898.8V901.5M929.8 917.7V925.8M932.5 906.9V917.7M935.2 893.4V896.1M935.2 917.7V925.8M937.9 947.3V950.0M943.3 931.2V936.6M946.0 933.9V939.3M948.7 928.5V933.9M951.4 936.6V939.3M954.1 939.3V947.3M956.8 933.9V936.6M956.8 966.2V968.9M959.5 960.8V966.2M962.2 998.6V1014.8M964.9 952.7V963.5M967.6 963.5V982.4M970.3 950.0V952.7M973.0 968.9V974.3M975.7 952.7V955.4M978.4 960.8V966.2M981.1 931.2V933.9M986.5 931.2V936.6M986.5 947.3V950.0M989.2 958.1V974.3M991.9 939.3V958.1M994.6 950.0V952.7M994.6 966.2V974.3M1000.0 971.6V979.7M1002.7 952.7V966.2M1002.7 998.6V1001.3M1005.4 966.2V977.0M1008.1 998.6V1006.7M1010.8 985.1V993.2M1016.2 977.0V982.4M1016.2 1009.4V1014.8M1018.9 958.1V963.5M1018.9 982.4V987.8M1021.6 963.5V968.9M1024.3 966.2V974.3M1027.0 963.5V966.2M1029.7 990.5V993.2M1032.4 1004.0V1009.4M1035.1 998.6V1004.0M1035.1 1047.2V1063.4M1037.8 963.5V977.0M1040.5 977.0V1004.0M1043.2 971.6V974.3M1045.9 979.7V990.5M1048.6 963.5V968.9M1048.6 995.9V1004.0M1051.3 987.8V995.9M1054.0 998.6V1006.7M1056.7 974.3V977.0M1056.7 1006.7V1009.4M1059.4 979.7V985.1M1062.1 974.3V979.7M1064.8 987.8V993.2M1067.5 985.1V987.8M1067.5 995.9V998.6M1070.2 1012.1V1017.5M1072.9 1006.7V1012.1M1072.9 1028.3V1031.0M1078.3 1009.4V1017.5M1078.3 1028.3V1031.0M1080.9 1025.6V1028.3M1083.6 1006.7V1012.1M1086.3 1012.1V1014.8M1089.0 1004.0V1006.7M1091.7 998.6V1004.0M1091.7 1020.2V1025.6M1094.4 1014.8V1020.2M1094.4 1033.7V1036.4M1102.5 1025.6V1036.4M1105.2 1014.8V1025.6M1107.9 1020.2V1022.9M1107.9 1033.7V1039.1M1110.6 1039.1V1041.8M1116.0 1031.0V1033.7M1116.0 1047.2V1052.6M1118.7 1028.3V1039.1M1121.4 1039.1V1049.9M1124.1 1028.3V1033.7M1126.8 1047.2V1055.3M1129.5 1044.5V1047.2M1132.2 1068.8V1074.2M1134.9 998.6V1020.2M1137.6 1049.9V1063.4M1140.3 1031.0V1049.9M1143.0 1055.3V1058.0M1145.7 1047.2V1049.9M1145.7 1060.7V1066.1M1148.4 1058.0V1063.4M1151.1 1049.9V1055.3M1153.8 1058.0V1060.7M1159.2 1049.9V1052.6M1159.2 1060.7V1066.1M1161.9 1058.0V1060.7M1161.9 1071.5V1074.2M1164.6 1063.4V1068.8M1167.3 1068.8V1071.5M1170.0 1068.8V1071.5M1172.7 1063.4V1066.1M1175.4 1079.6V1087.7M1178.1 1060.7V1063.4M1178.1 1068.8V1071.5M1183.5 1079.6V1085.0M1186.2 1074.2V1076.9M1188.9 1093.1V1098.5M1191.6 1076.9V1085.0M1194.3 1079.6V1085.0M1197.0 1087.7V1090.4M1199.7 1085.0V1087.7M1202.4 1095.8V1101.2M1205.1 1068.8V1076.9M1205.1 1098.5V1103.9M1207.8 1068.8V1082.3M1210.5 1095.8V1101.2M1213.2 1085.0V1090.4M1215.9 1090.4V1093.1M1218.6 1068.8V1076.9M1221.3 1076.9V1085.0M1224.0 1060.7V1063.4M1229.4 1074.2V1076.9M1229.4 1087.7V1090.4M1232.1 1076.9V1079.6M1234.8 1071.5V1074.2M1234.8 1085.0V1087.7M1237.5 1082.3V1085.0M1245.6 1095.8V1098.5M1248.3 1101.2V1109.3M1251.0 1093.1V1101.2M1253.7 1076.9V1082.3M1253.7 1109.3V1112.0M1259.1 1122.8V1125.5M1261.8 1093.1V1103.9M1264.5 1122.8V1128.2M1267.2 1085.0V1093.1M1269.9 1095.8V1106.6M1272.6 1093.1V1095.8M1280.7 1109.3V1112.0M1288.8 1098.5V1106.6M1291.5 1106.6V1114.7M1294.2 1093.1V1098.5M1296.9 1109.3V1112.0M1299.6 1106.6V1109.3M1302.3 1117.4V1122.8M1305.0 1093.1V1098.5M1305.0 1114.7V1120.1M1307.7 1109.3V1114.7M1310.4 1103.9V1109.3M1315.8 1130.9V1133.6M1321.2 1117.4V1120.1M1323.9 1112.0V1117.4M1323.9 1125.5V1128.2M1326.6 1106.6V1109.3M1332.0 1125.5V1128.2M1334.7 1120.1V1128.2M1337.4 1114.7V1120.1M1340.1 1109.3V1112.0M1340.1 1125.5V1128.2M1345.5 1130.9V1136.3M1348.2 1144.4V1152.5M1350.8 1122.8V1133.6M1353.5 1133.6V1144.4M1358.9 1144.4V1147.1M1361.6 1122.8V1128.2M1364.3 1139.0V1147.1M1367.0 1136.3V1141.7M1369.7 1130.9V1136.3M1375.1 1157.9V1163.3M1377.8 1130.9V1136.3M1380.5 1139.0V1141.7M1383.2 1155.2V1157.9M1388.6 1128.2V1130.9M1388.6 1136.3V1139.0M1391.3 1136.3V1144.4M1394.0 1128.2V1136.3M1396.7 1147.1V1149.8M1399.4 1141.7V1144.4M1402.1 1144.4V1147.1M1404.8 1128.2V1136.3M1407.5 1166.0V1171.4M1410.2 1157.9V1160.6M1412.9 1160.6V1166.0M1415.6 1152.5V1160.6M1418.3 1147.1V1152.5M1421.0 1163.3V1174.1M1423.7 1155.2V1163.3M1426.4 1149.8V1155.2M1426.4 1174.1V1176.8M1429.1 1152.5V1157.9M1431.8 1157.9V1168.7M1434.5 1141.7V1155.2M1437.2 1168.7V1179.5M1439.9 1157.9V1166.0M1439.9 1176.8V1179.5M1445.3 1171.4V1174.1M1448.0 1155.2V1166.0M1450.7 1166.0V1176.8M1453.4 1152.5V1160.6M1453.4 1176.8V1179.5M1456.1 1174.1V1176.8M1456.1 1179.5V1182.2M1461.5 1157.9V1163.3M1464.2 1168.7V1171.4M1466.9 1155.2V1157.9M1469.6 1176.8V1179.5M1472.3 1168.7V1174.1M1475.0 1163.3V1174.1M1477.7 1174.1V1187.6M1480.4 1147.1V1155.2M1480.4 1174.1V1179.5M1483.1 1171.4V1174.1M1483.1 1203.8V1211.9M1485.8 1166.0V1168.7M1488.5 1171.4V1182.2M1491.2 1157.9V1163.3M1491.2 1176.8V1179.5M1493.9 1187.6V1193.0M1496.6 1184.9V1187.6M1496.6 1195.7V1198.4M1499.3 1193.0V1195.7M1504.7 1182.2V1187.6M1507.4 1198.4V1209.2M1510.1 1179.5V1182.2M1510.1 1193.0V1195.7M1512.8 1179.5V1182.2M1515.5 1187.6V1190.3M1520.9 1190.3V1198.4M1523.6 1179.5V1182.2M1526.3 1211.9V1217.2M1529.0 1195.7V1198.4M1531.7 1201.1V1206.5M1534.4 1182.2V1187.6M1537.1 1193.0V1198.4M1539.8 1174.1V1182.2M1542.5 1209.2V1211.9M1545.2 1184.9V1190.3M1547.9 1190.3V1195.7M1550.6 1174.1V1182.2M1550.6 1203.8V1206.5M1553.3 1198.4V1201.1M1556.0 1195.7V1198.4M1556.0 1201.1V1203.8M1561.4 1179.5V1182.2M1564.1 1195.7V1209.2M1566.8 1174.1V1182.2M1566.8 1211.9V1222.6M1569.5 1182.2V1190.3M1572.2 1190.3V1201.1M1574.9 1193.0V1198.4M1577.6 1190.3V1193.0M1580.3 1211.9V1217.2M1583.0 1201.1V1206.5M1585.7 1182.2V1184.9M1585.7 1206.5V1211.9M1591.1 1209.2V1214.5M1593.8 1193.0V1198.4M1593.8 1214.5V1217.2M1596.5 1209.2V1211.9M1599.2 1225.3V1230.7M1604.6 1190.3V1193.0M1604.6 1206.5V1209.2M1607.3 1201.1V1203.8M1610.0 1214.5V1225.3M1612.7 1206.5V1214.5M1618.1 1214.5V1217.2M1620.7 1203.8V1206.5M1620.7 1217.2V1219.9M1623.4 1206.5V1209.2M1626.1 1211.9V1214.5M1628.8 1209.2V1211.9M1628.8 1219.9V1222.6M1634.2 1209.2V1214.5M1636.9 1214.5V1219.9M1639.6 1203.8V1206.5M1639.6 1217.2V1222.6M1642.3 1214.5V1217.2M1642.3 1228.0V1230.7M1647.7 1198.4V1203.8M1650.4 1222.6V1225.3M1653.1 1225.3V1228.0M1661.2 1217.2V1219.9M1663.9 1222.6V1233.4M1666.6 1214.5V1222.6M1669.3 1222.6V1225.3M1669.3 1236.1V1241.5M1672.0 1244.2V1246.9M1677.4 1222.6V1230.7M1680.1 1230.7V1238.8M1682.8 1217.2V1219.9M1682.8 1238.8V1246.9M1685.5 1233.4V1238.8M1690.9 1252.3V1255.0M1693.6 1228.0V1236.1M1696.3 1206.5V1211.9M1696.3 1236.1V1246.9M1699.0 1201.1V1203.8M1699.0 1211.9V1214.5M1704.4 1222.6V1225.3M1704.4 1233.4V1244.2M1707.1 1225.3V1233.4M1709.8 1246.9V1255.0M1712.5 1211.9V1222.6M1715.2 1249.6V1252.3M1720.6 1230.7V1236.1M1723.3 1225.3V1233.4M1726.0 1238.8V1249.6M1728.7 1219.9V1225.3M1734.1 1244.2V1246.9M1736.8 1225.3V1228.0M1739.5 1228.0V1233.4M1747.6 1195.7V1198.4M1750.3 1233.4V1236.1M1753.0 1214.5V1219.9M1755.7 1225.3V1230.7M1758.4 1217.2V1219.9M1763.8 1246.9V1255.0M1766.5 1209.2V1222.6M1769.2 1228.0V1238.8M1771.9 1217.2V1219.9M1774.6 1203.8V1209.2M1774.6 1219.9V1222.6M1777.3 1209.2V1219.9M1780.0 1195.7V1209.2M1782.7 1219.9V1230.7M1785.4 1209.2V1211.9M1785.4 1236.1V1241.5M1788.1 1230.7V1236.1M1790.8 1219.9V1225.3M1790.8 1241.5V1244.2M1793.5 1225.3V1230.7M1796.2 1211.9V1217.2M1798.9 1214.5V1219.9M1801.6 1244.2V1246.9M1809.7 1217.2V1219.9M1809.7 1230.7V1233.4M1812.4 1219.9V1225.3M1815.1 1219.9V1225.3M1820.5 1252.3V1255.0M1823.2 1230.7V1233.4M1828.6 1252.3V1255.0M1831.3 1246.9V1249.6M1836.7 1246.9V1249.6M1839.4 1219.9V1230.7M1842.1 1252.3V1263.1M1850.2 1241.5V1244.2M1855.6 1193.0V1206.5M1858.3 1222.6V1225.3M1861.0 1214.5V1222.6M1863.7 1222.6V1225.3M1866.4 1211.9V1214.5M1866.4 1230.7V1238.8M1869.1 1219.9V1230.7M1871.8 1233.4V1238.8M1874.5 1230.7V1233.4M1877.2 1255.0V1257.7M1879.9 1214.5V1219.9M1879.9 1241.5V1249.6M1882.6 1233.4V1241.5M1885.3 1228.0V1230.7M1885.3 1241.5V1246.9M1888.0 1209.2V1211.9M1893.3 1225.3V1228.0M1893.3 1246.9V1252.3M1896.0 1233.4V1241.5M1898.7 1225.3V1233.4M1901.4 1236.1V1238.8M1906.8 1225.3V1228.0M1909.5 1238.8V1241.5M1912.2 1241.5V1244.2M1914.9 1236.1V1238.8M1914.9 1255.0V1260.4M1920.3 1241.5V1246.9M1923.0 1236.1V1241.5M1925.7 1249.6V1255.0M1928.4 1228.0V1233.4M1931.1 1233.4V1236.1M1933.8 1238.8V1244.2M1936.5 1236.1V1238.8M1936.5 1252.3V1255.0M1939.2 1241.5V1246.9M1941.9 1249.6V1255.0M1944.6 1241.5V1244.2M1950.0 1249.6V1252.3M1952.7 1233.4V1238.8M1955.4 1244.2V1246.9M1958.1 1268.5V1273.9M1963.5 1246.9V1249.6M1966.2 1236.1V1246.9M1966.2 1260.4V1263.1M1968.9 1246.9V1255.0M1971.6 1236.1V1241.5M1971.6 1257.7V1260.4M1974.3 1228.0V1230.7M1977.0 1246.9V1263.1M1979.7 1238.8V1246.9M1982.4 1276.6V1287.4M1985.1 1249.6V1252.3M1987.8 1238.8V1241.5M1993.2 1249.6V1252.3M1995.9 1260.4V1265.8M1998.6 1255.0V1260.4M2001.3 1265.8V1268.5M2004.0 1268.5V1271.2M2006.7 1241.5V1246.9M2009.4 1246.9V1255.0M2012.1 1238.8V1246.9M2014.8 1255.0V1260.4M2022.9 1255.0V1257.7M2025.6 1268.5V1282.0M2028.3 1257.7V1268.5M2031.0 1244.2V1246.9M2031.0 1271.2V1276.6M2036.4 1268.5V1273.9M2039.1 1249.6V1263.1M2041.8 1268.5V1271.2M2041.8 1284.7V1290.1M2044.5 1298.2V1303.6M2049.9 1252.3V1255.0M2052.6 1268.5V1271.2M2055.3 1260.4V1263.1M2058.0 1273.9V1282.0M2060.7 1263.1V1265.8M2063.4 1265.8V1271.2M2066.1 1255.0V1257.7M2066.1 1282.0V1300.9M2068.8 1265.8V1282.0M2071.5 1260.4V1263.1M2071.5 1292.8V1309.0M2074.2 1265.8V1271.2M2079.6 1282.0V1284.7M2085.0 1265.8V1268.5M2087.7 1268.5V1271.2M2093.1 1287.4V1290.1M2095.8 1238.8V1252.3M2098.5 1257.7V1273.9M2101.2 1241.5V1257.7M2101.2 1284.7V1287.4M2103.9 1263.1V1265.8M2109.3 1273.9V1279.3M2112.0 1255.0V1263.1M2114.7 1246.9V1257.7M2117.4 1282.0V1287.4M2120.1 1271.2V1282.0M2122.8 1268.5V1271.2M2122.8 1287.4V1290.1M2125.5 1271.2V1273.9M2128.2 1265.8V1268.5M2130.9 1284.7V1290.1M2136.3 1279.3V1284.7M2139.0 1276.6V1279.3M2141.7 1287.4V1290.1M2144.4 1271.2V1273.9M2144.4 1282.0V1284.7M2147.1 1273.9V1276.6M2152.5 1268.5V1271.2M2152.5 1273.9V1276.6M2155.2 1287.4V1292.8M2157.9 1276.6V1284.7M2160.5 1284.7V1287.4M2165.9 1257.7V1263.1M2168.6 1292.8V1300.9M2171.3 1276.6V1282.0M2174.0 1268.5V1273.9M2182.1 1263.1V1265.8M2182.1 1284.7V1290.1M2184.8 1273.9V1282.0M2187.5 1284.7V1290.1M2190.2 1279.3V1284.7M2192.9 1284.7V1287.4M2195.6 1273.9V1279.3M2198.3 1295.5V1300.9M2201.0 1287.4V1292.8M2201.0 1314.4V1322.5M2203.7 1268.5V1273.9M2206.4 1287.4V1290.1M2209.1 1282.0V1287.4M2211.8 1295.5V1300.9M2214.5 1290.1V1295.5M2217.2 1287.4V1290.1M2217.2 1298.2V1300.9M2222.6 1276.6V1279.3M2222.6 1292.8V1295.5M2225.3 1263.1V1268.5M2225.3 1279.3V1282.0M2228.0 1282.0V1292.8M2230.7 1271.2V1279.3M2233.4 1298.2V1300.9M2238.8 1284.7V1287.4"/>
<path class="c" d="M190.3 1160.6V1163.3M193.0 1155.2V1160.6M195.7 1157.9V1166.0M198.4 1166.0V1174.1M201.1 1168.7V1171.4M203.8 1160.6V1174.1M206.5 1152.5V1160.6M209.2 1155.2V1174.1M211.9 1160.6V1171.4M214.6 1171.4V1182.2M217.3 1166.0V1176.8M220.0 1163.3V1182.2M222.7 1179.5V1187.6M225.4 1174.1V1184.9M228.1 1163.3V1176.8M230.8 1176.8V1184.9M233.5 1182.2V1190.3M236.2 1184.9V1190.3M238.9 1166.0V1184.9M241.6 1171.4V1182.2M244.3 1166.0V1190.3M247.0 1157.9V1190.3M249.7 1166.0V1193.0M252.4 1168.7V1184.9M255.1 1184.9V1203.8M257.8 1179.5V1193.0M260.5 1176.8V1184.9M263.2 1176.8V1187.6M265.9 1168.7V1179.5M268.6 1174.1V1198.4M271.2 1198.4V1217.2M273.9 1182.2V1198.4M276.6 1179.5V1182.2M279.3 1179.5V1190.3M282.0 1179.5V1190.3M284.7 1163.3V1179.5M287.4 1174.1V1182.2M290.1 1176.8V1206.5M292.8 1174.1V1209.2M295.5 1176.8V1195.7M298.2 1166.0V1187.6M300.9 1176.8V1187.6M303.6 1174.1V1179.5M306.3 1174.1V1198.4M309.0 1174.1V1195.7M311.7 1179.5V1190.3M314.4 1179.5V1190.3M317.1 1190.3V1198.4M319.8 1163.3V1195.7M322.5 1166.0V1203.8M325.2 1184.9V1198.4M327.9 1198.4V1219.9M330.6 1203.8V1209.2M333.3 1155.2V1206.5M336.0 1149.8V1217.2M338.7 1190.3V1214.5M341.4 1179.5V1190.3M344.1 1190.3V1214.5M346.8 1182.2V1222.6M349.5 1176.8V1211.9M352.2 1193.0V1209.2M354.9 1190.3V1193.0M357.6 1190.3V1193.0M360.3 1184.9V1198.4M363.0 1198.4V1201.1M365.7 1198.4V1209.2M368.4 1203.8V1211.9M371.1 1190.3V1203.8M373.8 1187.6V1209.2M376.5 1179.5V1206.5M379.2 1174.1V1209.2M381.9 1179.5V1195.7M384.6 1195.7V1209.2M387.3 1184.9V1198.4M390.0 1184.9V1206.5M392.7 1182.2V1193.0M395.4 1193.0V1214.5M398.1 1206.5V1222.6M400.8 1190.3V1217.2M403.5 1214.5V1233.4M406.2 1209.2V1233.4M408.9 1198.4V1230.7M411.6 1195.7V1201.1M414.3 1198.4V1211.9M417.0 1190.3V1201.1M419.7 1201.1V1206.5M422.4 1198.4V1217.2M425.1 1198.4V1214.5M427.8 1179.5V1198.4M430.5 1174.1V1182.2M433.2 1174.1V1187.6M435.9 1157.9V1174.1M438.6 1163.3V1222.6M441.3 1179.5V1211.9M444.0 1193.0V1211.9M446.7 1184.9V1195.7M449.4 1171.4V1190.3M452.1 1174.1V1211.9M454.8 1187.6V1206.5M457.5 1195.7V1214.5M460.2 1179.5V1209.2M462.9 1209.2V1219.9M465.6 1174.1V1222.6M468.3 1179.5V1201.1M471.0 1179.5V1193.0M473.7 1176.8V1190.3M476.4 1190.3V1201.1M479.1 1201.1V1217.2M481.8 1184.9V1211.9M484.5 1193.0V1209.2M487.2 1193.0V1203.8M489.9 1179.5V1193.0M492.6 1176.8V1193.0M495.3 1190.3V1233.4M498.0 1171.4V1219.9M500.7 1176.8V1187.6M503.4 1174.1V1203.8M506.1 1203.8V1211.9M508.8 1201.1V1209.2M511.5 1201.1V1209.2M514.2 1182.2V1201.1M516.9 1179.5V1206.5M519.6 1166.0V1198.4M522.3 1198.4V1203.8M525.0 1174.1V1198.4M527.7 1179.5V1195.7M530.4 1166.0V1182.2M533.1 1155.2V1166.0M535.8 1152.5V1157.9M538.5 1157.9V1163.3M541.1 1163.3V1179.5M543.8 1179.5V1195.7M546.5 1160.6V1179.5M549.2 1157.9V1179.5M551.9 1163.3V1182.2M554.6 1163.3V1168.7M557.3 1168.7V1171.4M560.0 1157.9V1168.7M562.7 1152.5V1157.9M565.4 1155.2V1174.1M568.1 1152.5V1171.4M570.8 1152.5V1157.9M573.5 1157.9V1163.3M576.2 1155.2V1166.0M578.9 1149.8V1166.0M581.6 1152.5V1166.0M584.3 1139.0V1152.5M587.0 1149.8V1166.0M589.7 1141.7V1195.7M592.4 1157.9V1211.9M595.1 1147.1V1157.9M597.8 1149.8V1166.0M600.5 1166.0V1176.8M603.2 1160.6V1176.8M605.9 1149.8V1160.6M608.6 1152.5V1160.6M611.3 1136.3V1152.5M614.0 1112.0V1136.3M616.7 1117.4V1141.7M619.4 1103.9V1122.8M622.1 1122.8V1163.3M624.8 1133.6V1160.6M627.5 1125.5V1133.6M630.2 1117.4V1125.5M632.9 1117.4V1120.1M635.6 1101.2V1120.1M638.3 1098.5V1106.6M641.0 1106.6V1144.4M643.7 1133.6V1152.5M646.4 1120.1V1133.6M649.1 1114.7V1139.0M651.8 1109.3V1133.6M654.5 1106.6V1130.9M657.2 1117.4V1144.4M659.9 1114.7V1136.3M662.6 1106.6V1128.2M665.3 1128.2V1147.1M668.0 1122.8V1144.4M670.7 1120.1V1122.8M673.4 1120.1V1122.8M676.1 1120.1V1130.9M678.8 1130.9V1133.6M681.5 1085.0V1133.6M684.2 1093.1V1130.9M686.9 1109.3V1122.8M689.6 1122.8V1136.3M692.3 1117.4V1130.9M695.0 1103.9V1133.6M697.7 1093.1V1103.9M700.4 1098.5V1120.1M703.1 1117.4V1128.2M705.8 1112.0V1117.4M708.5 1098.5V1117.4M711.2 1098.5V1106.6M713.9 1074.2V1098.5M716.6 1076.9V1090.4M719.3 1066.1V1082.3M722.0 1082.3V1087.7M724.7 1079.6V1087.7M727.4 1087.7V1098.5M730.1 1049.9V1093.1M732.8 1020.2V1074.2M735.5 1074.2V1098.5M738.2 1076.9V1093.1M740.9 1060.7V1087.7M743.6 1068.8V1087.7M746.3 1060.7V1093.1M749.0 1044.5V1076.9M751.7 1049.9V1085.0M754.4 1049.9V1052.6M757.1 1052.6V1068.8M759.8 1052.6V1087.7M762.5 1028.3V1052.6M765.2 1036.4V1049.9M767.9 1047.2V1058.0M770.6 1041.8V1052.6M773.3 1033.7V1047.2M776.0 1020.2V1039.1M778.7 1039.1V1049.9M781.4 1004.0V1041.8M784.1 1001.3V1006.7M786.8 1006.7V1025.6M789.5 1017.5V1020.2M792.2 990.5V1020.2M794.9 982.4V1006.7M797.6 1001.3V1009.4M800.3 1009.4V1031.0M803.0 1004.0V1020.2M805.7 993.2V1004.0M808.4 990.5V1001.3M811.0 1001.3V1025.6M813.7 968.9V1014.8M816.4 977.0V990.5M819.1 987.8V1009.4M821.8 985.1V1020.2M824.5 979.7V990.5M827.2 958.1V987.8M829.9 933.9V958.1M832.6 939.3V947.3M835.3 947.3V963.5M838.0 955.4V968.9M840.7 950.0V958.1M843.4 955.4V982.4M846.1 912.3V955.4M848.8 920.4V963.5M851.5 942.0V977.0M854.2 923.1V942.0M856.9 917.7V931.2M859.6 931.2V952.7M862.3 950.0V958.1M865.0 925.8V960.8M867.7 920.4V942.0M870.4 931.2V939.3M873.1 912.3V936.6M875.8 885.3V912.3M878.5 912.3V936.6M881.2 890.7V939.3M883.9 893.4V928.5M886.6 928.5V939.3M889.3 896.1V931.2M892.0 874.5V904.2M894.7 904.2V915.0M897.4 901.5V917.7M900.1 882.6V912.3M902.8 855.6V882.6M905.5 879.9V901.5M908.2 888.0V931.2M910.9 869.1V936.6M913.6 877.2V942.0M916.3 877.2V923.1M919.0 904.2V933.9M921.7 893.4V920.4M924.4 885.3V904.2M927.1 898.8V904.2M929.8 901.5V917.7M932.5 917.7V936.6M935.2 896.1V917.7M937.9 893.4V947.3M940.6 931.2V950.0M943.3 925.8V931.2M946.0 923.1V933.9M948.7 933.9V944.6M951.4 939.3V942.0M954.1 933.9V939.3M956.8 936.6V966.2M959.5 966.2V974.3M962.2 958.1V998.6M964.9 963.5V1020.2M967.6 950.0V963.5M970.3 952.7V974.3M973.0 955.4V968.9M975.7 955.4V960.8M978.4 950.0V960.8M981.1 933.9V966.2M983.8 931.2V950.0M986.5 936.6V947.3M989.2 925.8V958.1M991.9 958.1V985.1M994.6 952.7V966.2M997.3 950.0V977.0M1000.0 952.7V971.6M1002.7 966.2V998.6M1005.4 977.0V1004.0M1008.1 963.5V998.6M1010.8 993.2V1006.7M1013.5 993.2V1014.8M1016.2 982.4V1009.4M1018.9 963.5V982.4M1021.6 955.4V963.5M1024.3 960.8V966.2M1027.0 966.2V995.9M1029.7 993.2V995.9M1032.4 993.2V1004.0M1035.1 1004.0V1047.2M1037.8 977.0V1063.4M1040.5 963.5V977.0M1043.2 974.3V990.5M1045.9 960.8V979.7M1048.6 968.9V995.9M1051.3 995.9V1006.7M1054.0 1006.7V1009.4M1056.7 977.0V1006.7M1059.4 971.6V979.7M1062.1 979.7V993.2M1064.8 974.3V987.8M1067.5 987.8V995.9M1070.2 993.2V1012.1M1072.9 1012.1V1028.3M1075.6 1028.3V1031.0M1078.3 1017.5V1028.3M1080.9 1009.4V1025.6M1083.6 1012.1V1028.3M1086.3 998.6V1012.1M1089.0 995.9V1004.0M1091.7 1004.0V1020.2M1094.4 1020.2V1033.7M1097.1 1020.2V1036.4M1099.8 1020.2V1028.3M1102.5 1012.1V1025.6M1105.2 1025.6V1047.2M1107.9 1022.9V1033.7M1110.6 1020.2V1039.1M1113.3 1031.0V1041.8M1116.0 1033.7V1047.2M1118.7 1039.1V1060.7M1121.4 1022.9V1039.1M1124.1 1033.7V1039.1M1126.8 1039.1V1047.2M1129.5 1047.2V1074.2M1132.2 1058.0V1068.8M1134.9 1020.2V1068.8M1137.6 995.9V1049.9M1140.3 1049.9V1063.4M1143.0 1058.0V1066.1M1145.7 1049.9V1060.7M1148.4 1044.5V1058.0M1151.1 1055.3V1066.1M1153.8 1052.6V1058.0M1156.5 1049.9V1060.7M1159.2 1052.6V1060.7M1161.9 1060.7V1071.5M1164.6 1068.8V1076.9M1167.3 1063.4V1068.8M1170.0 1063.4V1068.8M1172.7 1066.1V1087.7M1175.4 1058.0V1079.6M1178.1 1063.4V1068.8M1180.8 1066.1V1074.2M1183.5 1066.1V1079.6M1186.2 1076.9V1098.5M1188.9 1074.2V1093.1M1191.6 1085.0V1098.5M1194.3 1085.0V1098.5M1197.0 1079.6V1087.7M1199.7 1087.7V1101.2M1202.4 1066.1V1095.8M1205.1 1076.9V1098.5M1207.8 1082.3V1109.3M1210.5 1068.8V1095.8M1213.2 1090.4V1101.2M1215.9 1071.5V1090.4M1218.6 1076.9V1090.4M1221.3 1063.4V1076.9M1224.0 1063.4V1068.8M1226.7 1060.7V1090.4M1229.4 1076.9V1087.7M1232.1 1068.8V1076.9M1234.8 1074.2V1085.0M1237.5 1085.0V1087.7M1240.2 1082.3V1087.7M1242.9 1082.3V1098.5M1245.6 1082.3V1095.8M1248.3 1085.0V1101.2M1251.0 1101.2V1117.4M1253.7 1082.3V1109.3M1256.4 1076.9V1125.5M1259.1 1093.1V1122.8M1261.8 1103.9V1130.9M1264.5 1109.3V1122.8M1267.2 1093.1V1128.2M1269.9 1085.0V1095.8M1272.6 1095.8V1103.9M1275.3 1101.2V1103.9M1278.0 1098.5V1103.9M1280.7 1101.2V1109.3M1283.4 1103.9V1112.0M1286.1 1103.9V1112.0M1288.8 1106.6V1117.4M1291.5 1087.7V1106.6M1294.2 1098.5V1109.3M1296.9 1098.5V1109.3M1299.6 1109.3V1122.8M1302.3 1093.1V1117.4M1305.0 1098.5V1114.7M1307.7 1114.7V1125.5M1310.4 1109.3V1128.2M1313.1 1103.9V1133.6M1315.8 1117.4V1130.9M1318.5 1112.0V1120.1M1321.2 1109.3V1117.4M1323.9 1117.4V1125.5M1326.6 1109.3V1128.2M1329.3 1106.6V1128.2M1332.0 1106.6V1125.5M1334.7 1106.6V1120.1M1337.4 1120.1V1133.6M1340.1 1112.0V1125.5M1342.8 1109.3V1136.3M1345.5 1136.3V1139.0M1348.2 1128.2V1144.4M1350.8 1133.6V1160.6M1353.5 1120.1V1133.6M1356.2 1122.8V1147.1M1358.9 1122.8V1144.4M1361.6 1128.2V1152.5M1364.3 1117.4V1139.0M1367.0 1120.1V1136.3M1369.7 1136.3V1141.7M1372.4 1133.6V1163.3M1375.1 1130.9V1157.9M1377.8 1136.3V1144.4M1380.5 1141.7V1147.1M1383.2 1139.0V1155.2M1385.9 1133.6V1157.9M1388.6 1130.9V1136.3M1391.3 1120.1V1136.3M1394.0 1136.3V1152.5M1396.7 1141.7V1147.1M1399.4 1144.4V1147.1M1402.1 1128.2V1144.4M1404.8 1136.3V1155.2M1407.5 1149.8V1166.0M1410.2 1160.6V1176.8M1412.9 1141.7V1160.6M1415.6 1141.7V1152.5M1418.3 1152.5V1176.8M1421.0 1139.0V1163.3M1423.7 1139.0V1155.2M1426.4 1155.2V1174.1M1429.1 1157.9V1176.8M1431.8 1141.7V1157.9M1434.5 1155.2V1187.6M1437.2 1147.1V1168.7M1439.9 1166.0V1176.8M1442.6 1160.6V1179.5M1445.3 1160.6V1171.4M1448.0 1166.0V1179.5M1450.7 1144.4V1166.0M1453.4 1160.6V1176.8M1456.1 1176.8V1179.5M1458.8 1157.9V1182.2M1461.5 1163.3V1174.1M1464.2 1157.9V1168.7M1466.9 1157.9V1163.3M1469.6 1155.2V1176.8M1472.3 1174.1V1179.5M1475.0 1174.1V1187.6M1477.7 1144.4V1174.1M1480.4 1155.2V1174.1M1483.1 1174.1V1203.8M1485.8 1168.7V1211.9M1488.5 1157.9V1171.4M1491.2 1163.3V1176.8M1493.9 1176.8V1187.6M1496.6 1187.6V1195.7M1499.3 1195.7V1198.4M1502.0 1182.2V1198.4M1504.7 1187.6V1211.9M1507.4 1176.8V1198.4M1510.1 1182.2V1193.0M1512.8 1182.2V1195.7M1515.5 1179.5V1187.6M1518.2 1184.9V1198.4M1520.9 1176.8V1190.3M1523.6 1182.2V1187.6M1526.3 1184.9V1211.9M1529.0 1198.4V1217.2M1531.7 1182.2V1201.1M1534.4 1187.6V1203.8M1537.1 1174.1V1193.0M1539.8 1182.2V1201.1M1542.5 1174.1V1209.2M1545.2 1190.3V1211.9M1547.9 1171.4V1190.3M1550.6 1182.2V1203.8M1553.3 1201.1V1206.5M1556.0 1198.4V1201.1M1558.7 1179.5V1198.4M1561.4 1182.2V1209.2M1564.1 1171.4V1195.7M1566.8 1182.2V1211.9M1569.5 1190.3V1225.3M1572.2 1179.5V1190.3M1574.9 1179.5V1193.0M1577.6 1193.0V1206.5M1580.3 1198.4V1211.9M1583.0 1206.5V1219.9M1585.7 1184.9V1206.5M1588.4 1182.2V1214.5M1591.1 1190.3V1209.2M1593.8 1198.4V1214.5M1596.5 1211.9V1219.9M1599.2 1209.2V1225.3M1601.9 1190.3V1230.7M1604.6 1193.0V1206.5M1607.3 1203.8V1214.5M1610.0 1195.7V1214.5M1612.7 1214.5V1228.0M1615.4 1217.2V1228.0M1618.1 1217.2V1219.9M1620.7 1206.5V1217.2M1623.4 1201.1V1206.5M1626.1 1203.8V1211.9M1628.8 1211.9V1219.9M1631.5 1214.5V1222.6M1634.2 1214.5V1222.6M1636.9 1201.1V1214.5M1639.6 1206.5V1217.2M1642.3 1217.2V1228.0M1645.0 1198.4V1230.7M1647.7 1203.8V1228.0M1650.4 1225.3V1230.7M1653.1 1219.9V1225.3M1655.8 1219.9V1225.3M1658.5 1219.9V1225.3M1661.2 1219.9V1225.3M1663.9 1209.2V1222.6M1666.6 1222.6V1244.2M1669.3 1225.3V1236.1M1672.0 1222.6V1244.2M1674.7 1228.0V1246.9M1677.4 1230.7V1241.5M1680.1 1211.9V1230.7M1682.8 1219.9V1238.8M1685.5 1238.8V1249.6M1688.2 1246.9V1255.0M1690.9 1246.9V1252.3M1693.6 1236.1V1252.3M1696.3 1211.9V1236.1M1699.0 1203.8V1211.9M1701.7 1201.1V1233.4M1704.4 1225.3V1233.4M1707.1 1233.4V1257.7M1709.8 1228.0V1246.9M1712.5 1222.6V1252.3M1715.2 1211.9V1249.6M1717.9 1230.7V1252.3M1720.6 1236.1V1257.7M1723.3 1233.4V1255.0M1726.0 1219.9V1238.8M1728.7 1225.3V1249.6M1731.4 1219.9V1246.9M1734.1 1233.4V1244.2M1736.8 1228.0V1236.1M1739.5 1222.6V1228.0M1742.2 1219.9V1225.3M1744.9 1195.7V1225.3M1747.6 1198.4V1236.1M1750.3 1222.6V1233.4M1753.0 1219.9V1228.0M1755.7 1211.9V1225.3M1758.4 1219.9V1230.7M1761.1 1217.2V1255.0M1763.8 1206.5V1246.9M1766.5 1222.6V1246.9M1769.2 1209.2V1228.0M1771.9 1219.9V1228.0M1774.6 1209.2V1219.9M1777.3 1195.7V1209.2M1780.0 1209.2V1236.1M1782.7 1201.1V1219.9M1785.4 1211.9V1236.1M1788.1 1236.1V1244.2M1790.8 1225.3V1241.5M1793.5 1206.5V1225.3M1796.2 1217.2V1230.7M1798.9 1219.9V1233.4M1801.6 1214.5V1244.2M1804.3 1230.7V1246.9M1807.0 1230.7V1236.1M1809.7 1219.9V1230.7M1812.4 1211.9V1219.9M1815.1 1217.2V1219.9M1817.8 1217.2V1255.0M1820.5 1230.7V1252.3M1823.2 1233.4V1238.8M1825.9 1236.1V1238.8M1828.6 1238.8V1252.3M1831.3 1249.6V1255.0M1834.0 1238.8V1252.3M1836.7 1238.8V1246.9M1839.4 1230.7V1255.0M1842.1 1214.5V1252.3M1844.8 1230.7V1263.1M1847.5 1230.7V1244.2M1850.2 1230.7V1241.5M1852.9 1233.4V1238.8M1855.6 1206.5V1236.1M1858.3 1193.0V1222.6M1861.0 1222.6V1225.3M1863.7 1211.9V1222.6M1866.4 1214.5V1230.7M1869.1 1230.7V1246.9M1871.8 1222.6V1233.4M1874.5 1233.4V1257.7M1877.2 1214.5V1255.0M1879.9 1219.9V1241.5M1882.6 1241.5V1257.7M1885.3 1230.7V1241.5M1888.0 1211.9V1230.7M1890.6 1209.2V1252.3M1893.3 1228.0V1246.9M1896.0 1217.2V1233.4M1898.7 1233.4V1246.9M1901.4 1228.0V1236.1M1904.1 1225.3V1238.8M1906.8 1228.0V1249.6M1909.5 1241.5V1249.6M1912.2 1233.4V1241.5M1914.9 1238.8V1255.0M1917.6 1241.5V1260.4M1920.3 1236.1V1241.5M1923.0 1241.5V1260.4M1925.7 1233.4V1249.6M1928.4 1233.4V1244.2M1931.1 1228.0V1233.4M1933.8 1233.4V1238.8M1936.5 1238.8V1252.3M1939.2 1246.9V1257.7M1941.9 1238.8V1249.6M1944.6 1244.2V1255.0M1947.3 1241.5V1252.3M1950.0 1233.4V1249.6M1952.7 1238.8V1249.6M1955.4 1241.5V1244.2M1958.1 1244.2V1268.5M1960.8 1246.9V1273.9M1963.5 1249.6V1263.1M1966.2 1246.9V1260.4M1968.9 1228.0V1246.9M1971.6 1241.5V1257.7M1974.3 1230.7V1260.4M1977.0 1228.0V1246.9M1979.7 1246.9V1290.1M1982.4 1246.9V1276.6M1985.1 1244.2V1249.6M1987.8 1241.5V1252.3M1990.5 1238.8V1255.0M1993.2 1252.3V1257.7M1995.9 1249.6V1260.4M1998.6 1260.4V1273.9M2001.3 1268.5V1276.6M2004.0 1246.9V1268.5M2006.7 1246.9V1252.3M2009.4 1233.4V1246.9M2012.1 1246.9V1263.1M2014.8 1249.6V1255.0M2017.5 1252.3V1255.0M2020.2 1252.3V1265.8M2022.9 1257.7V1265.8M2025.6 1246.9V1268.5M2028.3 1268.5V1290.1M2031.0 1246.9V1271.2M2033.7 1244.2V1271.2M2036.4 1249.6V1268.5M2039.1 1263.1V1292.8M2041.8 1271.2V1284.7M2044.5 1268.5V1298.2M2047.2 1252.3V1303.6M2049.9 1255.0V1271.2M2052.6 1260.4V1268.5M2055.3 1255.0V1260.4M2058.0 1252.3V1273.9M2060.7 1265.8V1282.0M2063.4 1255.0V1265.8M2066.1 1257.7V1282.0M2068.8 1282.0V1322.5M2071.5 1263.1V1292.8M2074.2 1260.4V1265.8M2076.9 1265.8V1284.7M2079.6 1268.5V1282.0M2082.3 1268.5V1271.2M2085.0 1268.5V1271.2M2087.7 1263.1V1268.5M2090.4 1265.8V1290.1M2093.1 1268.5V1287.4M2095.8 1252.3V1273.9M2098.5 1222.6V1257.7M2101.2 1257.7V1284.7M2103.9 1265.8V1287.4M2106.6 1263.1V1279.3M2109.3 1252.3V1273.9M2112.0 1263.1V1276.6M2114.7 1257.7V1279.3M2117.4 1246.9V1282.0M2120.1 1282.0V1290.1M2122.8 1271.2V1287.4M2125.5 1263.1V1271.2M2128.2 1268.5V1276.6M2130.9 1273.9V1284.7M2133.6 1276.6V1290.1M2136.3 1276.6V1279.3M2139.0 1279.3V1290.1M2141.7 1282.0V1287.4M2144.4 1273.9V1282.0M2147.1 1271.2V1273.9M2149.8 1268.5V1273.9M2152.5 1271.2V1273.9M2155.2 1273.9V1287.4M2157.9 1284.7V1298.2M2160.5 1276.6V1284.7M2163.2 1257.7V1282.0M2165.9 1263.1V1300.9M2168.6 1273.9V1292.8M2171.3 1282.0V1290.1M2174.0 1273.9V1287.4M2176.7 1268.5V1290.1M2179.4 1263.1V1290.1M2182.1 1265.8V1284.7M2184.8 1282.0V1300.9M2187.5 1271.2V1284.7M2190.2 1284.7V1287.4M2192.9 1273.9V1284.7M2195.6 1279.3V1303.6M2198.3 1282.0V1295.5M2201.0 1292.8V1314.4M2203.7 1273.9V1322.5M2206.4 1268.5V1287.4M2209.1 1287.4V1298.2M2211.8 1284.7V1295.5M2214.5 1295.5V1306.3M2217.2 1290.1V1298.2M2219.9 1287.4V1295.5M2222.6 1279.3V1292.8M2225.3 1268.5V1279.3M2228.0 1260.4V1282.0M2230.7 1279.3V1298.2M2233.4 1273.9V1298.2M2236.1 1284.7V1300.9"/>
</g>
<g stroke="#1A6FDF">
<path class="c l" d="M193.0 958.1V960.8M195.7 952.7V958.1M198.4 942.0V950.0M198.4 966.2V968.9M201.1 971.6V982.4M203.8 958.1V960.8M206.5 971.6V977.0M209.2 968.9V971.6M211.9 950.0V955.4M211.9 979.7V985.1M214.6 955.4V960.8M217.3 971.6V974.3M222.7 942.0V944.6M225.4 947.3V955.4M228.1 958.1V966.2M230.8 950.0V958.1M230.8 971.6V974.3M236.2 966.2V971.6M238.9 960.8V966.2M241.6 971.6V977.0M244.3 955.4V958.1M244.3 977.0V985.1M247.0 963.5V971.6M249.7 971.6V974.3M252.4 939.3V944.6M252.4 977.0V982.4M255.1 955.4V968.9M257.8 971.6V982.4M260.5 960.8V971.6M263.2 974.3V977.0M265.9 958.1V963.5M268.6 966.2V974.3M271.2 955.4V963.5M273.9 950.0V955.4M276.6 960.8V966.2M279.3 955.4V958.1M282.0 960.8V966.2M284.7 944.6V952.7M287.4 963.5V971.6M290.1 955.4V958.1M298.2 950.0V958.1M300.9 960.8V968.9M303.6 955.4V960.8M309.0 952.7V955.4M311.7 968.9V977.0M314.4 955.4V960.8M317.1 944.6V947.3M322.5 971.6V974.3M325.2 947.3V958.1M327.9 958.1V971.6M330.6 968.9V979.7M333.3 939.3V942.0M338.7 963.5V968.9M341.4 944.6V950.0M341.4 968.9V974.3M344.1 952.7V960.8M346.8 939.3V942.0M346.8 960.8V968.9M349.5 950.0V955.4M352.2 928.5V950.0M354.9 950.0V968.9M357.6 906.9V928.5M360.3 960.8V963.5M365.7 952.7V955.4M368.4 942.0V947.3M371.1 931.2V942.0M371.1 963.5V966.2M373.8 947.3V955.4M376.5 939.3V947.3M376.5 963.5V971.6M379.2 960.8V963.5M381.9 982.4V990.5M384.6 933.9V939.3M384.6 955.4V958.1M387.3 952.7V955.4M390.0 931.2V942.0M392.7 942.0V950.0M395.4 896.1V901.5M395.4 950.0V955.4M398.1 947.3V950.0M400.8 960.8V963.5M403.5 955.4V958.1M411.6 958.1V963.5M411.6 977.0V979.7M414.3 960.8V966.2M417.0 947.3V950.0M417.0 966.2V974.3M419.7 950.0V952.7M422.4 939.3V942.0M425.1 942.0V944.6M427.8 933.9V939.3M430.5 963.5V971.6M433.2 947.3V952.7M438.6 950.0V955.4M438.6 960.8V963.5M441.3 955.4V960.8M444.0 939.3V942.0M452.1 955.4V958.1M454.8 931.2V933.9M454.8 936.6V939.3M457.5 952.7V960.8M460.2 931.2V939.3M462.9 939.3V950.0M468.3 920.4V923.1M471.0 931.2V936.6M473.7 888.0V898.8M476.4 904.2V912.3M479.1 901.5V904.2M481.8 912.3V925.8M484.5 925.8V939.3M487.2 898.8V906.9M489.9 955.4V960.8M495.3 909.6V920.4M498.0 912.3V917.7M500.7 904.2V912.3M503.4 909.6V915.0M506.1 933.9V936.6M508.8 925.8V931.2M511.5 936.6V942.0M514.2 906.9V909.6M516.9 896.1V898.8M516.9 912.3V917.7M519.6 898.8V901.5M522.3 890.7V896.1M525.0 896.1V898.8M527.7 882.6V888.0M527.7 901.5V904.2M530.4 885.3V890.7M533.1 890.7V898.8M541.1 896.1V898.8M543.8 888.0V893.4M546.5 869.1V874.5M546.5 893.4V898.8M549.2 898.8V901.5M554.6 885.3V890.7M557.3 844.8V863.7M557.3 904.2V906.9M560.0 863.7V885.3M562.7 842.1V850.2M562.7 879.9V882.6M565.4 858.3V866.4M568.1 866.4V871.8M570.8 844.8V850.2M570.8 879.9V890.7M573.5 871.8V879.9M576.2 852.9V858.3M576.2 885.3V890.7M581.6 866.4V871.8M584.3 871.8V877.2M587.0 850.2V861.0M589.7 885.3V896.1M592.4 866.4V871.8M595.1 852.9V855.6M595.1 871.8V879.9M597.8 847.5V850.2M597.8 855.6V858.3M600.5 834.0V839.4M600.5 850.2V852.9M603.2 850.2V858.3M605.9 842.1V850.2M605.9 858.3V861.0M608.6 847.5V850.2M611.3 850.2V852.9M614.0 825.9V828.6M614.0 839.4V842.1M616.7 828.6V834.0M619.4 807.0V809.7M624.8 834.0V836.7M627.5 812.4V817.8M630.2 828.6V839.4M632.9 820.5V828.6M638.3 823.2V828.6M641.0 828.6V834.0M643.7 798.9V801.6M646.4 812.4V820.5M649.1 807.0V812.4M649.1 836.7V839.4M654.5 796.2V801.6M657.2 796.2V798.9M657.2 834.0V847.5M659.9 807.0V815.1M662.6 801.6V807.0M662.6 823.2V825.9M665.3 796.2V798.9M668.0 798.9V809.7M670.7 790.8V798.9M673.4 812.4V825.9M676.1 796.2V804.3M678.8 793.5V796.2M678.8 807.0V809.7M681.5 790.8V793.5M684.2 796.2V801.6M686.9 788.1V796.2M689.6 777.3V785.4M692.3 785.4V790.8M695.0 815.1V820.5M697.7 807.0V815.1M700.4 798.9V801.6M700.4 823.2V831.3M703.1 777.3V785.4M703.1 801.6V804.3M705.8 785.4V790.8M708.5 742.2V758.4M711.2 758.4V763.8M713.9 701.7V717.9M716.6 769.2V771.9M719.3 726.0V739.5M722.0 769.2V771.9M724.7 731.4V739.5M727.4 739.5V747.6M730.1 720.6V728.7M730.1 750.3V755.7M732.8 742.2V747.6M735.5 750.3V753.0M740.9 726.0V728.7M743.6 728.7V736.8M746.3 736.8V744.9M749.0 704.4V712.5M754.4 726.0V728.7M757.1 693.6V701.7M759.8 693.6V699.0M759.8 717.9V720.6M762.5 707.1V712.5M765.2 685.5V688.2M770.6 696.3V701.7M773.3 680.1V685.5M776.0 704.4V717.9M778.7 685.5V690.9M781.4 669.4V680.1M781.4 690.9V699.0M784.1 634.3V642.4M784.1 680.1V685.5M786.8 642.4V647.8M789.5 658.6V672.1M792.2 623.5V631.6M797.6 637.0V647.8M800.3 647.8V655.9M803.0 639.7V645.1M805.7 618.1V626.2M808.4 626.2V634.3M813.7 612.7V615.4M816.4 634.3V642.4M819.1 618.1V628.9M821.8 631.6V637.0M827.2 610.0V615.4M829.9 642.4V653.2M832.6 596.5V599.2M835.3 564.1V569.5M835.3 599.2V601.9M838.0 591.1V593.8M840.7 583.0V588.4M843.4 599.2V604.6M846.1 569.5V580.3M848.8 558.7V561.4M848.8 580.3V593.8M851.5 588.4V591.1M854.2 574.9V583.0M856.9 583.0V588.4M859.6 558.7V572.2M862.3 569.5V577.6M862.3 596.5V599.2M865.0 539.8V545.2M865.0 577.6V583.0M870.4 577.6V583.0M873.1 558.7V561.4M875.8 545.2V553.3M878.5 585.7V596.5M883.9 539.8V542.5M886.6 518.2V539.8M886.6 572.2V574.9M889.3 539.8V561.4M892.0 515.5V537.1M892.0 569.5V572.2M897.4 547.9V550.6M897.4 553.3V558.7M900.1 556.0V564.1M902.8 545.2V556.0M905.5 585.7V599.2M908.2 569.5V574.9M910.9 574.9V583.0M913.6 553.3V556.0M913.6 574.9V585.7M916.3 561.4V574.9M919.0 585.7V596.5M921.7 526.3V537.1M927.1 574.9V577.6M929.8 512.8V529.0M929.8 601.9V607.3M932.5 591.1V599.2M935.2 599.2V604.6M937.9 591.1V601.9M940.6 588.4V591.1M943.3 620.8V623.5M943.3 628.9V631.6M946.0 607.3V618.1M948.7 626.2V639.7M951.4 577.6V583.0M956.8 628.9V631.6M959.5 612.7V618.1M959.5 639.7V647.8M962.2 631.6V639.7M964.9 639.7V642.4M970.3 672.1V674.8M970.3 704.4V707.1M973.0 623.5V639.7M973.0 674.8V680.1M975.7 639.7V658.6M978.4 620.8V637.0M981.1 669.4V672.1M986.5 661.3V664.0M989.2 658.6V661.3M991.9 680.1V690.9M994.6 669.4V680.1M997.3 682.8V685.5M1000.0 642.4V647.8M1000.0 682.8V685.5M1002.7 674.8V682.8M1005.4 688.2V690.9M1008.1 685.5V690.9M1013.5 704.4V707.1M1016.2 680.1V688.2M1016.2 720.6V723.3M1018.9 715.2V720.6M1021.6 731.4V736.8M1024.3 707.1V709.8M1029.7 739.5V742.2M1032.4 709.8V717.9M1035.1 734.1V744.9M1037.8 717.9V720.6M1040.5 736.8V747.6M1043.2 731.4V736.8M1045.9 758.4V766.5M1048.6 747.6V750.3M1051.3 744.9V747.6M1051.3 769.2V774.6M1054.0 763.8V769.2M1056.7 763.8V769.2M1059.4 769.2V774.6M1062.1 755.7V758.4M1062.1 774.6V782.7M1064.8 769.2V774.6M1067.5 763.8V766.5M1070.2 771.9V780.0M1072.9 766.5V771.9M1072.9 796.2V801.6M1075.6 793.5V796.2M1078.3 771.9V777.3M1078.3 798.9V804.3M1080.9 815.1V820.5M1086.3 782.7V798.9M1089.0 798.9V812.4M1091.7 769.2V780.0M1091.7 809.7V815.1M1094.4 804.3V809.7M1094.4 825.9V828.6M1097.1 809.7V812.4M1099.8 812.4V815.1M1102.5 812.4V817.8M1105.2 807.0V812.4M1105.2 828.6V831.3M1107.9 825.9V828.6M1110.6 788.1V790.8M1113.3 812.4V817.8M1116.0 809.7V812.4M1116.0 831.3V836.7M1118.7 825.9V831.3M1124.1 804.3V809.7M1129.5 844.8V847.5M1132.2 831.3V834.0M1134.9 834.0V836.7M1137.6 831.3V834.0M1143.0 842.1V847.5M1145.7 834.0V842.1M1148.4 850.2V855.6M1151.1 842.1V844.8M1151.1 855.6V861.0M1156.5 858.3V863.7M1159.2 852.9V858.3M1161.9 871.8V879.9M1164.6 834.0V850.2M1167.3 850.2V866.4M1170.0 844.8V847.5M1170.0 850.2V852.9M1172.7 847.5V850.2M1172.7 861.0V866.4M1175.4 852.9V861.0M1175.4 888.0V898.8M1178.1 863.7V877.2M1180.8 877.2V890.7M1183.5 871.8V874.5M1183.5 896.1V898.8M1186.2 890.7V893.4M1188.9 904.2V912.3M1191.6 882.6V888.0M1194.3 882.6V888.0M1197.0 890.7V893.4M1199.7 877.2V879.9M1202.4 879.9V882.6M1205.1 874.5V877.2M1205.1 893.4V901.5M1207.8 885.3V893.4M1207.8 909.6V912.3M1210.5 893.4V898.8M1213.2 898.8V901.5M1215.9 877.2V879.9M1218.6 906.9V912.3M1221.3 898.8V904.2M1224.0 879.9V885.3M1224.0 904.2V909.6M1229.4 896.1V904.2M1232.1 885.3V896.1M1234.8 898.8V915.0M1237.5 874.5V879.9M1237.5 893.4V896.1M1240.2 855.6V858.3M1245.6 898.8V904.2M1245.6 906.9V909.6M1248.3 915.0V917.7M1251.0 898.8V906.9M1253.7 920.4V925.8M1259.1 898.8V901.5M1259.1 909.6V912.3M1261.8 906.9V909.6M1264.5 917.7V920.4M1267.2 904.2V909.6M1272.6 912.3V915.0M1275.3 906.9V912.3M1275.3 920.4V923.1M1278.0 909.6V915.0M1280.7 936.6V944.6M1283.4 925.8V936.6M1288.8 923.1V928.5M1288.8 936.6V939.3M1291.5 928.5V931.2M1294.2 923.1V925.8M1296.9 942.0V944.6M1302.3 933.9V936.6M1305.0 931.2V936.6M1305.0 944.6V947.3M1307.7 917.7V920.4M1307.7 936.6V942.0M1310.4 909.6V912.3M1310.4 920.4V925.8M1313.1 912.3V917.7M1315.8 936.6V939.3M1318.5 928.5V936.6M1321.2 936.6V944.6M1323.9 925.8V933.9M1326.6 952.7V955.4M1329.3 944.6V950.0M1332.0 950.0V955.4M1332.0 966.2V968.9M1334.7 955.4V958.1M1337.4 944.6V947.3M1337.4 958.1V963.5M1340.1 939.3V942.0M1342.8 942.0V947.3M1345.5 931.2V933.9M1345.5 960.8V968.9M1348.2 950.0V960.8M1350.8 963.5V974.3M1353.5 950.0V958.1M1358.9 936.6V939.3M1358.9 950.0V952.7M1361.6 939.3V944.6M1364.3 947.3V952.7M1367.0 939.3V947.3M1367.0 963.5V966.2M1372.4 950.0V952.7M1375.1 960.8V974.3M1377.8 950.0V960.8M1380.5 963.5V979.7M1383.2 971.6V974.3M1388.6 944.6V950.0M1391.3 971.6V982.4M1394.0 952.7V960.8M1394.0 979.7V982.4M1396.7 958.1V963.5M1399.4 968.9V971.6M1402.1 968.9V971.6M1404.8 955.4V963.5M1407.5 963.5V966.2M1407.5 977.0V982.4M1410.2 979.7V985.1M1412.9 971.6V979.7M1418.3 982.4V990.5M1421.0 977.0V982.4M1423.7 966.2V971.6M1423.7 987.8V993.2M1426.4 982.4V985.1M1429.1 977.0V982.4M1431.8 979.7V982.4M1431.8 993.2V995.9M1434.5 982.4V985.1M1445.3 1017.5V1020.2M1448.0 971.6V977.0M1448.0 993.2V995.9M1450.7 987.8V990.5M1453.4 974.3V977.0M1453.4 990.5V993.2M1456.1 1006.7V1009.4M1458.8 995.9V1006.7M1461.5 1001.3V1006.7M1461.5 1012.1V1014.8M1464.2 990.5V993.2M1464.2 1006.7V1009.4M1466.9 1001.3V1006.7M1469.6 977.0V979.7M1472.3 990.5V1004.0M1475.0 985.1V990.5M1477.7 1020.2V1028.3M1480.4 1004.0V1006.7M1483.1 993.2V995.9M1483.1 998.6V1001.3M1488.5 987.8V990.5M1491.2 1006.7V1009.4M1493.9 977.0V987.8M1496.6 1017.5V1031.0M1499.3 998.6V1017.5M1502.0 1014.8V1020.2M1504.7 990.5V995.9M1504.7 1022.9V1028.3M1507.4 995.9V1001.3M1510.1 985.1V987.8M1510.1 998.6V1001.3M1512.8 995.9V998.6M1512.8 1033.7V1036.4M1518.2 1001.3V1004.0M1518.2 1012.1V1017.5M1520.9 1006.7V1012.1M1526.3 1009.4V1014.8M1531.7 1017.5V1022.9M1534.4 1022.9V1025.6M1537.1 998.6V1009.4M1539.8 1009.4V1020.2M1542.5 1001.3V1004.0M1547.9 998.6V1004.0M1550.6 1014.8V1017.5M1553.3 1012.1V1014.8M1556.0 1039.1V1041.8M1564.1 1020.2V1022.9M1566.8 1014.8V1017.5M1569.5 1049.9V1058.0M1574.9 1025.6V1028.3M1577.6 1022.9V1025.6M1577.6 1039.1V1044.5M1580.3 1025.6V1028.3M1583.0 1020.2V1022.9M1585.7 1020.2V1022.9M1588.4 1041.8V1047.2M1591.1 1036.4V1041.8M1593.8 1052.6V1058.0M1596.5 1044.5V1049.9M1596.5 1055.3V1058.0M1599.2 1017.5V1022.9M1604.6 1060.7V1066.1M1607.3 1014.8V1033.7M1610.0 1058.0V1068.8M1612.7 1044.5V1047.2M1612.7 1060.7V1066.1M1615.4 1039.1V1047.2M1618.1 1009.4V1014.8M1618.1 1047.2V1052.6M1620.7 1014.8V1020.2M1623.4 1006.7V1009.4M1623.4 1036.4V1047.2M1626.1 1025.6V1036.4M1628.8 1058.0V1060.7M1634.2 1047.2V1052.6M1636.9 1031.0V1033.7M1636.9 1052.6V1060.7M1639.6 1041.8V1047.2M1642.3 1036.4V1041.8M1642.3 1063.4V1066.1M1645.0 1039.1V1044.5M1647.7 1044.5V1049.9M1650.4 1028.3V1036.4M1650.4 1058.0V1063.4M1653.1 1055.3V1058.0M1655.8 1052.6V1055.3M1658.5 1047.2V1052.6M1658.5 1055.3V1058.0M1661.2 1052.6V1055.3M1663.9 1033.7V1039.1M1663.9 1068.8V1074.2M1666.6 1052.6V1063.4M1669.3 1071.5V1079.6M1672.0 1041.8V1044.5M1680.1 1041.8V1047.2M1682.8 1060.7V1074.2M1685.5 1049.9V1055.3M1688.2 1055.3V1060.7M1690.9 1031.0V1036.4M1693.6 1047.2V1052.6M1693.6 1063.4V1066.1M1696.3 1052.6V1058.0M1699.0 1047.2V1052.6M1699.0 1068.8V1071.5M1701.7 1063.4V1068.8M1704.4 1060.7V1063.4M1704.4 1068.8V1071.5M1707.1 1063.4V1068.8M1709.8 1058.0V1063.4M1709.8 1082.3V1087.7M1712.5 1076.9V1082.3M1712.5 1093.1V1095.8M1720.6 1074.2V1076.9M1723.3 1055.3V1058.0M1723.3 1076.9V1082.3M1726.0 1060.7V1066.1M1728.7 1058.0V1060.7M1734.1 1066.1V1068.8M1736.8 1068.8V1071.5M1742.2 1058.0V1060.7M1744.9 1060.7V1063.4M1750.3 1047.2V1052.6M1750.3 1066.1V1068.8M1753.0 1060.7V1063.4M1755.7 1063.4V1066.1M1758.4 1060.7V1063.4M1763.8 1049.9V1052.6M1766.5 1063.4V1066.1M1769.2 1041.8V1049.9M1771.9 1063.4V1066.1M1777.3 1041.8V1047.2M1780.0 1060.7V1066.1M1780.0 1082.3V1087.7M1782.7 1066.1V1068.8M1785.4 1060.7V1063.4M1785.4 1093.1V1098.5M1788.1 1063.4V1068.8M1790.8 1068.8V1076.9M1793.5 1049.9V1055.3M1796.2 1071.5V1074.2M1798.9 1066.1V1071.5M1801.6 1049.9V1052.6M1801.6 1071.5V1074.2M1804.3 1074.2V1076.9M1807.0 1068.8V1074.2M1807.0 1087.7V1090.4M1809.7 1079.6V1085.0M1812.4 1090.4V1095.8M1815.1 1085.0V1090.4M1815.1 1098.5V1101.2M1820.5 1068.8V1082.3M1823.2 1082.3V1095.8M1825.9 1058.0V1071.5M1828.6 1076.9V1079.6M1828.6 1095.8V1098.5M1836.7 1071.5V1074.2M1839.4 1068.8V1071.5M1842.1 1074.2V1076.9M1847.5 1079.6V1085.0M1850.2 1074.2V1079.6M1852.9 1082.3V1087.7M1855.6 1093.1V1098.5M1858.3 1079.6V1085.0M1861.0 1085.0V1087.7M1863.7 1060.7V1063.4M1863.7 1071.5V1074.2M1866.4 1068.8V1071.5M1869.1 1082.3V1085.0M1871.8 1068.8V1071.5M1874.5 1074.2V1076.9M1877.2 1071.5V1074.2M1879.9 1087.7V1090.4M1885.3 1082.3V1085.0M1888.0 1079.6V1082.3M1893.3 1066.1V1068.8M1896.0 1079.6V1087.7M1898.7 1071.5V1074.2M1901.4 1082.3V1085.0M1904.1 1079.6V1082.3M1909.5 1079.6V1082.3M1909.5 1085.0V1087.7M1912.2 1082.3V1085.0M1917.6 1071.5V1074.2M1920.3 1076.9V1079.6M1923.0 1060.7V1068.8M1923.0 1101.2V1106.6M1925.7 1079.6V1090.4M1928.4 1093.1V1101.2M1933.8 1095.8V1101.2M1936.5 1093.1V1095.8M1939.2 1103.9V1106.6M1941.9 1071.5V1076.9M1941.9 1093.1V1095.8M1944.6 1090.4V1093.1M1947.3 1082.3V1090.4M1947.3 1093.1V1098.5M1950.0 1090.4V1093.1M1952.7 1101.2V1109.3M1955.4 1093.1V1095.8M1958.1 1106.6V1109.3M1963.5 1076.9V1079.6M1966.2 1082.3V1087.7M1966.2 1103.9V1106.6M1968.9 1087.7V1090.4M1971.6 1076.9V1079.6M1974.3 1101.2V1103.9M1977.0 1082.3V1087.7M1979.7 1087.7V1090.4M1982.4 1079.6V1082.3M1982.4 1101.2V1106.6M1985.1 1095.8V1101.2M1987.8 1106.6V1109.3M1993.2 1098.5V1101.2M1995.9 1087.7V1090.4M1995.9 1101.2V1106.6M1998.6 1103.9V1112.0M2001.3 1095.8V1098.5M2006.7 1101.2V1103.9M2009.4 1093.1V1098.5M2009.4 1114.7V1120.1M2012.1 1098.5V1106.6M2014.8 1106.6V1114.7M2022.9 1109.3V1112.0M2025.6 1093.1V1098.5M2028.3 1101.2V1103.9M2031.0 1093.1V1095.8M2036.4 1109.3V1112.0M2039.1 1098.5V1106.6M2041.8 1087.7V1090.4M2041.8 1109.3V1117.4M2044.5 1109.3V1114.7M2047.2 1101.2V1109.3M2049.9 1109.3V1117.4M2052.6 1087.7V1101.2M2055.3 1128.2V1141.7M2058.0 1095.8V1101.2M2060.7 1109.3V1112.0M2063.4 1106.6V1109.3M2066.1 1112.0V1114.7M2068.8 1098.5V1101.2M2068.8 1112.0V1114.7M2071.5 1109.3V1112.0M2071.5 1122.8V1128.2M2076.9 1117.4V1120.1M2079.6 1120.1V1122.8M2082.3 1109.3V1112.0M2085.0 1103.9V1109.3M2087.7 1085.0V1090.4M2087.7 1109.3V1112.0M2090.4 1090.4V1098.5M2093.1 1087.7V1090.4M2095.8 1112.0V1114.7M2098.5 1106.6V1109.3M2098.5 1114.7V1117.4M2103.9 1090.4V1093.1M2109.3 1128.2V1133.6M2112.0 1098.5V1109.3M2114.7 1136.3V1144.4M2117.4 1120.1V1122.8M2120.1 1122.8V1130.9M2122.8 1109.3V1112.0M2125.5 1122.8V1128.2M2128.2 1114.7V1122.8M2130.9 1122.8V1128.2M2136.3 1106.6V1109.3M2139.0 1117.4V1125.5M2141.7 1095.8V1101.2M2141.7 1122.8V1128.2M2144.4 1082.3V1093.1M2147.1 1120.1V1122.8M2149.8 1109.3V1120.1M2152.5 1128.2V1130.9M2155.2 1120.1V1125.5M2157.9 1122.8V1128.2M2160.5 1101.2V1103.9M2160.5 1128.2V1130.9M2165.9 1120.1V1125.5M2168.6 1114.7V1120.1M2171.3 1125.5V1130.9M2174.0 1106.6V1109.3M2179.4 1109.3V1117.4M2182.1 1117.4V1125.5M2184.8 1098.5V1106.6M2184.8 1122.8V1125.5M2187.5 1117.4V1120.1M2190.2 1120.1V1122.8M2192.9 1120.1V1125.5M2195.6 1114.7V1117.4M2198.3 1128.2V1136.3M2201.0 1120.1V1128.2M2203.7 1098.5V1101.2M2203.7 1128.2V1133.6M2206.4 1117.4V1120.1M2209.1 1114.7V1117.4M2209.1 1125.5V1128.2M2211.8 1122.8V1125.5M2214.5 1125.5V1128.2M2217.2 1130.9V1133.6M2219.9 1125.5V1130.9M2222.6 1136.3V1139.0M2225.3 1101.2V1103.9M2225.3 1122.8V1130.9M2228.0 1114.7V1122.8M2230.7 1109.3V1114.7M2230.7 1130.9V1133.6M2233.4 1128.2V1130.9M2236.1 1122.8V1128.2"/>
<path class="c" d="M190.3 958.1V960.8M193.0 952.7V958.1M195.7 958.1V971.6M198.4 950.0V966.2M201.1 939.3V971.6M203.8 960.8V982.4M206.5 958.1V971.6M209.2 971.6V987.8M211.9 955.4V979.7M214.6 944.6V955.4M217.3 950.0V971.6M220.0 942.0V974.3M222.7 944.6V968.9M225.4 955.4V968.9M228.1 942.0V958.1M230.8 958.1V971.6M233.5 952.7V974.3M236.2 952.7V966.2M238.9 966.2V982.4M241.6 952.7V971.6M244.3 958.1V977.0M247.0 971.6V985.1M249.7 939.3V971.6M252.4 944.6V977.0M255.1 968.9V993.2M257.8 944.6V971.6M260.5 971.6V982.4M263.2 960.8V974.3M265.9 963.5V971.6M268.6 947.3V966.2M271.2 963.5V982.4M273.9 955.4V985.1M276.6 950.0V960.8M279.3 958.1V966.2M282.0 950.0V960.8M284.7 952.7V968.9M287.4 942.0V963.5M290.1 958.1V971.6M292.8 955.4V963.5M295.5 960.8V968.9M298.2 958.1V974.3M300.9 944.6V960.8M303.6 960.8V974.3M306.3 952.7V974.3M309.0 955.4V977.0M311.7 944.6V968.9M314.4 942.0V955.4M317.1 947.3V963.5M319.8 944.6V974.3M322.5 955.4V971.6M325.2 958.1V977.0M327.9 931.2V958.1M330.6 936.6V968.9M333.3 942.0V979.7M336.0 939.3V968.9M338.7 942.0V963.5M341.4 950.0V968.9M344.1 960.8V979.7M346.8 942.0V960.8M349.5 939.3V950.0M352.2 950.0V968.9M354.9 896.1V950.0M357.6 928.5V968.9M360.3 955.4V960.8M363.0 950.0V960.8M365.7 942.0V952.7M368.4 947.3V966.2M371.1 942.0V963.5M373.8 928.5V947.3M376.5 947.3V963.5M379.2 963.5V990.5M381.9 931.2V982.4M384.6 939.3V955.4M387.3 955.4V960.8M390.0 942.0V963.5M392.7 896.1V942.0M395.4 901.5V950.0M398.1 950.0V960.8M400.8 952.7V960.8M403.5 958.1V966.2M406.2 955.4V968.9M408.9 958.1V968.9M411.6 963.5V977.0M414.3 966.2V982.4M417.0 950.0V966.2M419.7 947.3V950.0M422.4 942.0V952.7M425.1 931.2V942.0M427.8 939.3V955.4M430.5 944.6V963.5M433.2 952.7V971.6M435.9 947.3V963.5M438.6 955.4V960.8M441.3 939.3V955.4M444.0 942.0V944.6M446.7 939.3V942.0M449.4 939.3V958.1M452.1 936.6V955.4M454.8 933.9V936.6M457.5 928.5V952.7M460.2 939.3V968.9M462.9 931.2V939.3M465.6 920.4V933.9M468.3 923.1V936.6M471.0 920.4V931.2M473.7 898.8V923.1M476.4 888.0V904.2M479.1 904.2V933.9M481.8 925.8V939.3M484.5 890.7V925.8M487.2 906.9V928.5M489.9 923.1V955.4M492.6 904.2V960.8M495.3 904.2V909.6M498.0 901.5V912.3M500.7 912.3V928.5M503.4 915.0V928.5M506.1 909.6V933.9M508.8 931.2V942.0M511.5 904.2V936.6M514.2 909.6V923.1M516.9 898.8V912.3M519.6 896.1V898.8M522.3 896.1V898.8M525.0 882.6V896.1M527.7 888.0V901.5M530.4 890.7V909.6M533.1 879.9V890.7M535.8 879.9V888.0M538.5 879.9V898.8M541.1 888.0V896.1M543.8 893.4V906.9M546.5 874.5V893.4M549.2 869.1V898.8M551.9 885.3V901.5M554.6 890.7V906.9M557.3 863.7V904.2M560.0 831.3V863.7M562.7 850.2V879.9M565.4 866.4V882.6M568.1 844.8V866.4M570.8 850.2V879.9M573.5 879.9V898.8M576.2 858.3V885.3M578.9 852.9V871.8M581.6 871.8V877.2M584.3 855.6V871.8M587.0 861.0V882.6M589.7 842.1V885.3M592.4 871.8V896.1M595.1 855.6V871.8M597.8 850.2V855.6M600.5 839.4V850.2M603.2 828.6V850.2M605.9 850.2V858.3M608.6 850.2V861.0M611.3 839.4V850.2M614.0 828.6V839.4M616.7 817.8V828.6M619.4 809.7V820.5M622.1 807.0V836.7M624.8 812.4V834.0M627.5 817.8V836.7M630.2 812.4V828.6M632.9 828.6V842.1M635.6 839.4V844.8M638.3 828.6V842.1M641.0 807.0V828.6M643.7 801.6V809.7M646.4 796.2V812.4M649.1 812.4V836.7M651.8 796.2V839.4M654.5 801.6V847.5M657.2 798.9V834.0M659.9 790.8V807.0M662.6 807.0V823.2M665.3 798.9V825.9M668.0 790.8V798.9M670.7 798.9V831.3M673.4 785.4V812.4M676.1 804.3V817.8M678.8 796.2V807.0M681.5 793.5V801.6M684.2 780.0V796.2M686.9 777.3V788.1M689.6 785.4V798.9M692.3 777.3V785.4M695.0 780.0V815.1M697.7 815.1V831.3M700.4 801.6V823.2M703.1 785.4V801.6M705.8 774.6V785.4M708.5 758.4V777.3M711.2 701.7V758.4M713.9 717.9V766.5M716.6 763.8V769.2M719.3 739.5V774.6M722.0 726.0V769.2M724.7 739.5V771.9M727.4 717.9V739.5M730.1 728.7V750.3M732.8 747.6V761.1M735.5 742.2V750.3M738.2 726.0V753.0M740.9 728.7V750.3M743.6 736.8V753.0M746.3 717.9V736.8M749.0 712.5V742.2M751.7 704.4V728.7M754.4 693.6V726.0M757.1 701.7V723.3M759.8 699.0V717.9M762.5 690.9V707.1M765.2 688.2V712.5M767.9 685.5V701.7M770.6 677.4V696.3M773.3 685.5V699.0M776.0 677.4V704.4M778.7 690.9V717.9M781.4 680.1V690.9M784.1 642.4V680.1M786.8 626.2V642.4M789.5 628.9V658.6M792.2 631.6V674.8M794.9 623.5V655.9M797.6 647.8V655.9M800.3 620.8V647.8M803.0 623.5V639.7M805.7 626.2V650.5M808.4 618.1V626.2M811.0 612.7V620.8M813.7 615.4V623.5M816.4 615.4V634.3M819.1 628.9V647.8M821.8 618.1V631.6M824.5 610.0V634.3M827.2 615.4V653.2M829.9 607.3V642.4M832.6 599.2V610.0M835.3 569.5V599.2M838.0 564.1V591.1M840.7 588.4V604.6M843.4 577.6V599.2M846.1 580.3V607.3M848.8 561.4V580.3M851.5 558.7V588.4M854.2 583.0V591.1M856.9 556.0V583.0M859.6 572.2V601.9M862.3 577.6V596.5M865.0 545.2V577.6M867.7 539.8V583.0M870.4 553.3V577.6M873.1 553.3V558.7M875.8 553.3V566.8M878.5 542.5V585.7M881.2 539.8V596.5M883.9 542.5V574.9M886.6 539.8V572.2M889.3 493.9V539.8M892.0 537.1V569.5M894.7 550.6V572.2M897.4 550.6V553.3M900.1 542.5V556.0M902.8 556.0V577.6M905.5 556.0V585.7M908.2 574.9V599.2M910.9 553.3V574.9M913.6 556.0V574.9M916.3 574.9V604.6M919.0 561.4V585.7M921.7 537.1V580.3M924.4 526.3V577.6M927.1 512.8V574.9M929.8 529.0V601.9M932.5 599.2V615.4M935.2 583.0V599.2M937.9 583.0V591.1M940.6 591.1V628.9M943.3 623.5V628.9M946.0 618.1V637.0M948.7 601.9V626.2M951.4 583.0V639.7M954.1 577.6V631.6M956.8 612.7V628.9M959.5 618.1V639.7M962.2 639.7V655.9M964.9 642.4V655.9M967.6 639.7V707.1M970.3 674.8V704.4M973.0 639.7V674.8M975.7 604.6V639.7M978.4 637.0V658.6M981.1 647.8V669.4M983.8 661.3V672.1M986.5 664.0V666.7M989.2 661.3V666.7M991.9 655.9V680.1M994.6 680.1V690.9M997.3 642.4V682.8M1000.0 647.8V682.8M1002.7 682.8V693.6M1005.4 680.1V688.2M1008.1 680.1V685.5M1010.8 685.5V707.1M1013.5 680.1V704.4M1016.2 688.2V720.6M1018.9 720.6V728.7M1021.6 723.3V731.4M1024.3 709.8V736.8M1027.0 707.1V742.2M1029.7 715.2V739.5M1032.4 717.9V734.1M1035.1 704.4V734.1M1037.8 720.6V744.9M1040.5 717.9V736.8M1043.2 736.8V766.5M1045.9 742.2V758.4M1048.6 739.5V747.6M1051.3 747.6V769.2M1054.0 769.2V777.3M1056.7 769.2V777.3M1059.4 755.7V769.2M1062.1 758.4V774.6M1064.8 774.6V788.1M1067.5 766.5V785.4M1070.2 763.8V771.9M1072.9 771.9V796.2M1075.6 796.2V809.7M1078.3 777.3V798.9M1080.9 771.9V815.1M1083.6 798.9V820.5M1086.3 798.9V812.4M1089.0 761.1V798.9M1091.7 780.0V809.7M1094.4 809.7V825.9M1097.1 812.4V828.6M1099.8 804.3V812.4M1102.5 804.3V812.4M1105.2 812.4V828.6M1107.9 828.6V834.0M1110.6 790.8V831.3M1113.3 788.1V812.4M1116.0 812.4V831.3M1118.7 831.3V842.1M1121.4 834.0V839.4M1124.1 809.7V836.7M1126.8 804.3V847.5M1129.5 831.3V844.8M1132.2 834.0V839.4M1134.9 825.9V834.0M1137.6 834.0V839.4M1140.3 836.7V842.1M1143.0 834.0V842.1M1145.7 842.1V863.7M1148.4 855.6V866.4M1151.1 844.8V855.6M1153.8 842.1V847.5M1156.5 844.8V858.3M1159.2 858.3V879.9M1161.9 855.6V871.8M1164.6 850.2V888.0M1167.3 834.0V850.2M1170.0 847.5V850.2M1172.7 850.2V861.0M1175.4 861.0V888.0M1178.1 877.2V906.9M1180.8 861.0V877.2M1183.5 874.5V896.1M1186.2 893.4V912.3M1188.9 879.9V904.2M1191.6 888.0V901.5M1194.3 888.0V898.8M1197.0 882.6V890.7M1199.7 879.9V893.4M1202.4 874.5V879.9M1205.1 877.2V893.4M1207.8 893.4V909.6M1210.5 898.8V912.3M1213.2 877.2V898.8M1215.9 879.9V912.3M1218.6 893.4V906.9M1221.3 904.2V917.7M1224.0 885.3V904.2M1226.7 879.9V896.1M1229.4 888.0V896.1M1232.1 896.1V920.4M1234.8 866.4V898.8M1237.5 879.9V893.4M1240.2 858.3V896.1M1242.9 855.6V906.9M1245.6 904.2V906.9M1248.3 906.9V915.0M1251.0 906.9V917.7M1253.7 898.8V920.4M1256.4 898.8V925.8M1259.1 901.5V909.6M1261.8 909.6V915.0M1264.5 912.3V917.7M1267.2 909.6V920.4M1269.9 904.2V915.0M1272.6 906.9V912.3M1275.3 912.3V920.4M1278.0 915.0V925.8M1280.7 906.9V936.6M1283.4 936.6V952.7M1286.1 933.9V952.7M1288.8 928.5V936.6M1291.5 917.7V928.5M1294.2 925.8V933.9M1296.9 931.2V942.0M1299.6 933.9V944.6M1302.3 936.6V947.3M1305.0 936.6V944.6M1307.7 920.4V936.6M1310.4 912.3V920.4M1313.1 909.6V912.3M1315.8 912.3V936.6M1318.5 936.6V947.3M1321.2 917.7V936.6M1323.9 933.9V942.0M1326.6 931.2V952.7M1329.3 950.0V968.9M1332.0 955.4V966.2M1334.7 944.6V955.4M1337.4 947.3V958.1M1340.1 942.0V963.5M1342.8 931.2V942.0M1345.5 933.9V960.8M1348.2 960.8V982.4M1350.8 939.3V963.5M1353.5 958.1V966.2M1356.2 947.3V963.5M1358.9 939.3V950.0M1361.6 931.2V939.3M1364.3 931.2V947.3M1367.0 947.3V963.5M1369.7 947.3V966.2M1372.4 947.3V950.0M1375.1 947.3V960.8M1377.8 960.8V990.5M1380.5 939.3V963.5M1383.2 939.3V971.6M1385.9 944.6V974.3M1388.6 950.0V982.4M1391.3 944.6V971.6M1394.0 960.8V979.7M1396.7 963.5V985.1M1399.4 958.1V968.9M1402.1 955.4V968.9M1404.8 963.5V985.1M1407.5 966.2V977.0M1410.2 960.8V979.7M1412.9 979.7V985.1M1415.6 977.0V982.4M1418.3 974.3V982.4M1421.0 982.4V1001.3M1423.7 971.6V987.8M1426.4 966.2V982.4M1429.1 982.4V995.9M1431.8 982.4V993.2M1434.5 977.0V982.4M1437.2 977.0V982.4M1439.9 979.7V985.1M1442.6 979.7V1020.2M1445.3 971.6V1017.5M1448.0 977.0V993.2M1450.7 990.5V998.6M1453.4 977.0V990.5M1456.1 974.3V1006.7M1458.8 1006.7V1014.8M1461.5 1006.7V1012.1M1464.2 993.2V1006.7M1466.9 987.8V1001.3M1469.6 979.7V1006.7M1472.3 977.0V990.5M1475.0 990.5V1028.3M1477.7 1004.0V1020.2M1480.4 998.6V1004.0M1483.1 995.9V998.6M1485.8 987.8V995.9M1488.5 990.5V1009.4M1491.2 1009.4V1012.1M1493.9 987.8V1009.4M1496.6 971.6V1017.5M1499.3 1017.5V1031.0M1502.0 1020.2V1028.3M1504.7 995.9V1022.9M1507.4 979.7V995.9M1510.1 987.8V998.6M1512.8 998.6V1033.7M1515.5 1001.3V1036.4M1518.2 1004.0V1012.1M1520.9 1012.1V1028.3M1523.6 1025.6V1028.3M1526.3 1014.8V1028.3M1529.0 1009.4V1041.8M1531.7 1022.9V1041.8M1534.4 1009.4V1022.9M1537.1 1009.4V1031.0M1539.8 995.9V1009.4M1542.5 1004.0V1014.8M1545.2 998.6V1014.8M1547.9 1004.0V1017.5M1550.6 1009.4V1014.8M1553.3 1014.8V1017.5M1556.0 1014.8V1039.1M1558.7 1014.8V1041.8M1561.4 1014.8V1022.9M1564.1 1012.1V1020.2M1566.8 1017.5V1022.9M1569.5 1014.8V1049.9M1572.2 1025.6V1058.0M1574.9 1028.3V1044.5M1577.6 1025.6V1039.1M1580.3 1017.5V1025.6M1583.0 1022.9V1028.3M1585.7 1022.9V1028.3M1588.4 1020.2V1041.8M1591.1 1041.8V1060.7M1593.8 1041.8V1052.6M1596.5 1049.9V1055.3M1599.2 1022.9V1058.0M1601.9 1017.5V1066.1M1604.6 1014.8V1060.7M1607.3 1033.7V1074.2M1610.0 1039.1V1058.0M1612.7 1047.2V1060.7M1615.4 1047.2V1066.1M1618.1 1014.8V1047.2M1620.7 1004.0V1014.8M1623.4 1009.4V1036.4M1626.1 1036.4V1052.6M1628.8 1044.5V1058.0M1631.5 1052.6V1060.7M1634.2 1052.6V1063.4M1636.9 1033.7V1052.6M1639.6 1028.3V1041.8M1642.3 1041.8V1063.4M1645.0 1044.5V1066.1M1647.7 1028.3V1044.5M1650.4 1036.4V1058.0M1653.1 1058.0V1068.8M1655.8 1055.3V1066.1M1658.5 1052.6V1055.3M1661.2 1033.7V1052.6M1663.9 1039.1V1068.8M1666.6 1063.4V1082.3M1669.3 1049.9V1071.5M1672.0 1044.5V1079.6M1674.7 1041.8V1055.3M1677.4 1052.6V1055.3M1680.1 1047.2V1058.0M1682.8 1036.4V1060.7M1685.5 1055.3V1074.2M1688.2 1031.0V1055.3M1690.9 1036.4V1066.1M1693.6 1052.6V1063.4M1696.3 1041.8V1052.6M1699.0 1052.6V1068.8M1701.7 1068.8V1071.5M1704.4 1063.4V1068.8M1707.1 1055.3V1063.4M1709.8 1063.4V1082.3M1712.5 1082.3V1093.1M1715.2 1079.6V1095.8M1717.9 1079.6V1085.0M1720.6 1076.9V1085.0M1723.3 1058.0V1076.9M1726.0 1049.9V1060.7M1728.7 1060.7V1068.8M1731.4 1066.1V1074.2M1734.1 1068.8V1074.2M1736.8 1060.7V1068.8M1739.5 1063.4V1066.1M1742.2 1060.7V1066.1M1744.9 1058.0V1060.7M1747.6 1047.2V1060.7M1750.3 1052.6V1066.1M1753.0 1063.4V1071.5M1755.7 1058.0V1063.4M1758.4 1063.4V1066.1M1761.1 1049.9V1066.1M1763.8 1052.6V1058.0M1766.5 1052.6V1063.4M1769.2 1049.9V1071.5M1771.9 1041.8V1063.4M1774.6 1041.8V1066.1M1777.3 1047.2V1087.7M1780.0 1066.1V1082.3M1782.7 1055.3V1066.1M1785.4 1063.4V1093.1M1788.1 1068.8V1098.5M1790.8 1049.9V1068.8M1793.5 1055.3V1068.8M1796.2 1060.7V1071.5M1798.9 1071.5V1076.9M1801.6 1052.6V1071.5M1804.3 1049.9V1074.2M1807.0 1074.2V1087.7M1809.7 1085.0V1095.8M1812.4 1076.9V1090.4M1815.1 1090.4V1098.5M1817.8 1082.3V1101.2M1820.5 1082.3V1095.8M1823.2 1047.2V1082.3M1825.9 1071.5V1101.2M1828.6 1079.6V1095.8M1831.3 1076.9V1093.1M1834.0 1071.5V1093.1M1836.7 1074.2V1079.6M1839.4 1071.5V1079.6M1842.1 1066.1V1074.2M1844.8 1058.0V1076.9M1847.5 1058.0V1079.6M1850.2 1079.6V1098.5M1852.9 1087.7V1101.2M1855.6 1076.9V1093.1M1858.3 1085.0V1098.5M1861.0 1060.7V1085.0M1863.7 1063.4V1071.5M1866.4 1071.5V1079.6M1869.1 1076.9V1082.3M1871.8 1071.5V1087.7M1874.5 1068.8V1074.2M1877.2 1074.2V1090.4M1879.9 1076.9V1087.7M1882.6 1076.9V1082.3M1885.3 1074.2V1082.3M1888.0 1082.3V1085.0M1890.6 1066.1V1085.0M1893.3 1068.8V1090.4M1896.0 1066.1V1079.6M1898.7 1074.2V1082.3M1901.4 1071.5V1082.3M1904.1 1082.3V1085.0M1906.8 1082.3V1087.7M1909.5 1082.3V1085.0M1912.2 1079.6V1082.3M1914.9 1082.3V1085.0M1917.6 1074.2V1085.0M1920.3 1060.7V1076.9M1923.0 1068.8V1101.2M1925.7 1090.4V1112.0M1928.4 1074.2V1093.1M1931.1 1082.3V1098.5M1933.8 1082.3V1095.8M1936.5 1095.8V1109.3M1939.2 1093.1V1103.9M1941.9 1076.9V1093.1M1944.6 1071.5V1090.4M1947.3 1090.4V1093.1M1950.0 1093.1V1109.3M1952.7 1085.0V1101.2M1955.4 1087.7V1093.1M1958.1 1093.1V1106.6M1960.8 1076.9V1109.3M1963.5 1079.6V1106.6M1966.2 1087.7V1103.9M1968.9 1076.9V1087.7M1971.6 1074.2V1076.9M1974.3 1074.2V1101.2M1977.0 1087.7V1103.9M1979.7 1076.9V1087.7M1982.4 1082.3V1101.2M1985.1 1101.2V1112.0M1987.8 1103.9V1106.6M1990.5 1103.9V1109.3M1993.2 1101.2V1106.6M1995.9 1090.4V1101.2M1998.6 1085.0V1103.9M2001.3 1098.5V1114.7M2004.0 1095.8V1103.9M2006.7 1093.1V1101.2M2009.4 1098.5V1114.7M2012.1 1106.6V1125.5M2014.8 1095.8V1106.6M2017.5 1101.2V1103.9M2020.2 1101.2V1112.0M2022.9 1101.2V1109.3M2025.6 1098.5V1103.9M2028.3 1090.4V1101.2M2031.0 1095.8V1103.9M2033.7 1093.1V1112.0M2036.4 1098.5V1109.3M2039.1 1106.6V1122.8M2041.8 1090.4V1109.3M2044.5 1085.0V1109.3M2047.2 1109.3V1114.7M2049.9 1087.7V1109.3M2052.6 1101.2V1147.1M2055.3 1101.2V1128.2M2058.0 1101.2V1117.4M2060.7 1095.8V1109.3M2063.4 1109.3V1114.7M2066.1 1095.8V1112.0M2068.8 1101.2V1112.0M2071.5 1112.0V1122.8M2074.2 1120.1V1128.2M2076.9 1120.1V1122.8M2079.6 1109.3V1120.1M2082.3 1112.0V1114.7M2085.0 1109.3V1117.4M2087.7 1090.4V1109.3M2090.4 1085.0V1090.4M2093.1 1090.4V1114.7M2095.8 1114.7V1120.1M2098.5 1109.3V1114.7M2101.2 1103.9V1109.3M2103.9 1093.1V1106.6M2106.6 1090.4V1133.6M2109.3 1095.8V1128.2M2112.0 1109.3V1133.6M2114.7 1109.3V1136.3M2117.4 1122.8V1144.4M2120.1 1109.3V1122.8M2122.8 1112.0V1120.1M2125.5 1109.3V1122.8M2128.2 1122.8V1133.6M2130.9 1114.7V1122.8M2133.6 1106.6V1122.8M2136.3 1109.3V1125.5M2139.0 1093.1V1117.4M2141.7 1101.2V1122.8M2144.4 1093.1V1133.6M2147.1 1082.3V1120.1M2149.8 1120.1V1130.9M2152.5 1117.4V1128.2M2155.2 1125.5V1136.3M2157.9 1128.2V1133.6M2160.5 1103.9V1128.2M2163.2 1101.2V1114.7M2165.9 1112.0V1120.1M2168.6 1120.1V1133.6M2171.3 1120.1V1125.5M2174.0 1109.3V1120.1M2176.7 1106.6V1120.1M2179.4 1117.4V1125.5M2182.1 1093.1V1117.4M2184.8 1106.6V1122.8M2187.5 1120.1V1128.2M2190.2 1117.4V1120.1M2192.9 1114.7V1120.1M2195.6 1117.4V1136.3M2198.3 1114.7V1128.2M2201.0 1128.2V1141.7M2203.7 1101.2V1128.2M2206.4 1098.5V1117.4M2209.1 1117.4V1125.5M2211.8 1125.5V1130.9M2214.5 1120.1V1125.5M2217.2 1117.4V1130.9M2219.9 1130.9V1139.0M2222.6 1101.2V1136.3M2225.3 1103.9V1122.8M2228.0 1122.8V1141.7M2230.7 1114.7V1130.9M2233.4 1109.3V1128.2M2236.1 1128.2V1130.9"/>
</g>
<g stroke="#37AD6B">
<path class="c l" d="M193.0 701.7V707.1M195.7 707.1V712.5M198.4 696.3V701.7M198.4 731.4V739.5M201.1 704.4V715.2M203.8 739.5V742.2M206.5 728.7V739.5M209.2 747.6V750.3M211.9 736.8V744.9M214.6 731.4V736.8M214.6 763.8V769.2M217.3 758.4V763.8M222.7 755.7V763.8M225.4 728.7V734.1M225.4 766.5V777.3M228.1 720.6V723.3M228.1 734.1V736.8M230.8 726.0V728.7M233.5 723.3V726.0M236.2 731.4V736.8M238.9 739.5V744.9M241.6 726.0V734.1M244.3 728.7V731.4M244.3 742.2V744.9M247.0 731.4V736.8M252.4 728.7V731.4M252.4 758.4V763.8M255.1 731.4V736.8M257.8 755.7V769.2M260.5 723.3V728.7M265.9 723.3V736.8M268.6 736.8V753.0M271.2 709.8V723.3M273.9 717.9V720.6M273.9 736.8V742.2M276.6 728.7V731.4M279.3 723.3V726.0M284.7 728.7V731.4M287.4 744.9V753.0M290.1 736.8V744.9M290.1 753.0V755.7M295.5 755.7V758.4M298.2 747.6V750.3M298.2 766.5V771.9M300.9 747.6V755.7M303.6 755.7V763.8M311.7 720.6V734.1M314.4 734.1V744.9M317.1 717.9V723.3M317.1 739.5V742.2M322.5 704.4V707.1M322.5 723.3V734.1M325.2 715.2V723.3M327.9 739.5V750.3M330.6 736.8V742.2M333.3 720.6V723.3M336.0 723.3V728.7M338.7 723.3V726.0M344.1 734.1V736.8M346.8 728.7V734.1M346.8 755.7V758.4M352.2 742.2V744.9M354.9 755.7V761.1M360.3 731.4V736.8M365.7 731.4V736.8M365.7 742.2V744.9M368.4 736.8V742.2M371.1 723.3V731.4M376.5 720.6V726.0M379.2 726.0V731.4M381.9 701.7V712.5M384.6 717.9V726.0M384.6 750.3V755.7M387.3 742.2V753.0M390.0 726.0V731.4M398.1 739.5V744.9M400.8 750.3V755.7M403.5 742.2V744.9M411.6 715.2V726.0M414.3 736.8V742.2M417.0 742.2V744.9M422.4 742.2V744.9M425.1 736.8V742.2M427.8 744.9V750.3M430.5 734.1V739.5M438.6 755.7V758.4M441.3 734.1V736.8M441.3 755.7V761.1M444.0 739.5V747.6M446.7 747.6V758.4M454.8 742.2V747.6M457.5 707.1V715.2M460.2 717.9V726.0M462.9 712.5V717.9M468.3 717.9V720.6M468.3 731.4V736.8M471.0 728.7V731.4M473.7 715.2V720.6M473.7 734.1V739.5M476.4 734.1V736.8M479.1 726.0V731.4M481.8 731.4V736.8M484.5 712.5V717.9M487.2 720.6V728.7M495.3 736.8V739.5M498.0 715.2V717.9M498.0 723.3V726.0M500.7 720.6V723.3M500.7 734.1V736.8M503.4 731.4V734.1M503.4 739.5V742.2M506.1 709.8V712.5M511.5 736.8V739.5M514.2 726.0V728.7M516.9 709.8V717.9M519.6 717.9V723.3M525.0 709.8V712.5M525.0 726.0V731.4M527.7 720.6V726.0M530.4 707.1V709.8M530.4 728.7V734.1M533.1 755.7V766.5M538.5 693.6V696.3M541.1 701.7V707.1M543.8 712.5V720.6M546.5 704.4V712.5M546.5 731.4V734.1M549.2 709.8V712.5M551.9 712.5V717.9M554.6 693.6V699.0M554.6 709.8V712.5M557.3 699.0V707.1M560.0 680.1V690.9M562.7 690.9V699.0M565.4 682.8V685.5M565.4 709.8V712.5M568.1 701.7V709.8M570.8 712.5V720.6M573.5 693.6V699.0M573.5 726.0V731.4M576.2 696.3V704.4M578.9 704.4V715.2M581.6 690.9V693.6M584.3 680.1V682.8M584.3 693.6V696.3M587.0 690.9V696.3M589.7 685.5V690.9M595.1 677.4V680.1M595.1 682.8V685.5M600.5 669.4V672.1M603.2 647.8V653.2M605.9 685.5V690.9M611.3 669.4V672.1M611.3 680.1V688.2M614.0 672.1V680.1M616.7 682.8V690.9M619.4 647.8V655.9M622.1 658.6V664.0M624.8 655.9V658.6M627.5 647.8V653.2M627.5 669.4V674.8M630.2 653.2V658.6M632.9 655.9V664.0M635.6 642.4V645.1M641.0 650.5V653.2M641.0 666.7V669.4M643.7 653.2V655.9M646.4 655.9V661.3M649.1 645.1V650.5M651.8 650.5V653.2M654.5 631.6V634.3M657.2 647.8V653.2M659.9 645.1V647.8M662.6 642.4V645.1M668.0 628.9V631.6M668.0 655.9V658.6M670.7 631.6V634.3M673.4 623.5V626.2M673.4 634.3V637.0M676.1 618.1V623.5M678.8 626.2V628.9M681.5 612.7V615.4M684.2 615.4V618.1M686.9 610.0V615.4M686.9 639.7V647.8M689.6 612.7V626.2M692.3 626.2V637.0M700.4 620.8V628.9M703.1 604.6V612.7M705.8 623.5V628.9M708.5 604.6V610.0M711.2 612.7V615.4M713.9 588.4V591.1M716.6 577.6V583.0M719.3 610.0V620.8M722.0 596.5V599.2M724.7 588.4V593.8M724.7 599.2V607.3M727.4 593.8V599.2M730.1 574.9V580.3M732.8 604.6V618.1M735.5 577.6V583.0M738.2 583.0V593.8M740.9 577.6V580.3M743.6 580.3V588.4M746.3 564.1V566.8M749.0 580.3V583.0M754.4 556.0V558.7M757.1 556.0V561.4M759.8 537.1V542.5M759.8 561.4V564.1M762.5 542.5V547.9M765.2 542.5V545.2M767.9 545.2V547.9M770.6 531.7V537.1M773.3 558.7V564.1M776.0 523.6V529.0M778.7 542.5V547.9M781.4 526.3V529.0M784.1 529.0V534.4M786.8 534.4V545.2M789.5 502.0V518.2M792.2 491.2V493.9M792.2 518.2V534.4M797.6 502.0V507.4M797.6 518.2V520.9M800.3 507.4V510.1M803.0 469.6V485.8M805.7 485.8V502.0M808.4 456.1V458.8M813.7 510.1V526.3M816.4 493.9V510.1M819.1 520.9V537.1M821.8 464.2V469.6M824.5 469.6V477.7M827.2 450.7V453.4M827.2 466.9V472.3M829.9 445.3V458.8M832.6 418.3V423.7M832.6 458.8V472.3M835.3 453.4V461.5M840.7 402.2V404.8M840.7 426.4V434.5M843.4 421.0V426.4M843.4 456.1V464.2M846.1 450.7V456.1M848.8 415.6V426.4M848.8 464.2V466.9M851.5 437.2V439.9M856.9 418.3V423.7M859.6 404.8V412.9M859.6 437.2V442.6M862.3 412.9V421.0M865.0 407.5V412.9M865.0 426.4V429.1M870.4 386.0V388.7M870.4 391.4V396.8M873.1 388.7V391.4M873.1 399.5V402.2M878.5 369.8V375.2M878.5 396.8V399.5M881.2 375.2V383.3M883.9 369.8V372.5M883.9 394.1V396.8M886.6 383.3V391.4M889.3 391.4V396.8M892.0 380.6V386.0M892.0 412.9V421.0M894.7 383.3V386.0M897.4 375.2V377.9M897.4 386.0V396.8M900.1 377.9V383.3M902.8 364.4V375.2M905.5 380.6V391.4M908.2 372.5V380.6M913.6 394.1V399.5M916.3 412.9V423.7M919.0 386.0V402.2M921.7 415.6V423.7M924.4 404.8V407.5M927.1 407.5V410.2M927.1 429.1V434.5M929.8 423.7V429.1M932.5 434.5V442.6M935.2 423.7V426.4M937.9 421.0V423.7M937.9 450.7V453.4M940.6 442.6V450.7M943.3 456.1V461.5M946.0 442.6V448.0M946.0 466.9V475.0M948.7 461.5V466.9M951.4 434.5V439.9M951.4 466.9V472.3M956.8 445.3V448.0M956.8 458.8V461.5M959.5 450.7V458.8M962.2 412.9V423.7M962.2 458.8V464.2M964.9 445.3V458.8M967.6 434.5V445.3M970.3 485.8V488.5M973.0 453.4V464.2M975.7 488.5V493.9M978.4 483.1V488.5M978.4 504.7V510.1M981.1 502.0V504.7M983.8 485.8V493.9M986.5 493.9V502.0M989.2 423.7V439.9M991.9 491.2V526.3M994.6 458.8V491.2M997.3 499.3V507.4M997.3 512.8V518.2M1000.0 507.4V526.3M1002.7 480.4V502.0M1005.4 529.0V550.6M1008.1 475.0V483.1M1010.8 512.8V523.6M1013.5 502.0V512.8M1013.5 547.9V550.6M1016.2 523.6V537.1M1018.9 537.1V550.6M1021.6 518.2V523.6M1021.6 547.9V553.3M1024.3 504.7V507.4M1029.7 545.2V553.3M1032.4 512.8V523.6M1035.1 547.9V553.3M1037.8 531.7V534.4M1040.5 534.4V539.8M1043.2 531.7V534.4M1045.9 537.1V539.8M1048.6 531.7V537.1M1051.3 542.5V547.9M1054.0 539.8V542.5M1059.4 556.0V561.4M1062.1 580.3V583.0M1064.8 556.0V561.4M1067.5 580.3V588.4M1070.2 572.2V580.3M1072.9 604.6V610.0M1075.6 591.1V593.8M1075.6 601.9V604.6M1078.3 553.3V569.5M1080.9 591.1V596.5M1083.6 580.3V591.1M1086.3 574.9V583.0M1086.3 596.5V599.2M1089.0 583.0V591.1M1091.7 572.2V583.0M1094.4 623.5V628.9M1097.1 612.7V618.1M1099.8 593.8V596.5M1099.8 618.1V620.8M1102.5 596.5V599.2M1105.2 601.9V607.3M1107.9 599.2V601.9M1110.6 655.9V658.6M1116.0 601.9V604.6M1116.0 623.5V626.2M1118.7 620.8V623.5M1118.7 631.6V634.3M1121.4 618.1V623.5M1124.1 631.6V634.3M1126.8 626.2V628.9M1129.5 637.0V642.4M1132.2 642.4V645.1M1134.9 642.4V645.1M1137.6 639.7V642.4M1137.6 677.4V682.8M1143.0 655.9V658.6M1145.7 637.0V650.5M1148.4 650.5V661.3M1151.1 637.0V647.8M1151.1 666.7V669.4M1153.8 647.8V650.5M1156.5 666.7V669.4M1159.2 661.3V666.7M1161.9 666.7V674.8M1164.6 645.1V650.5M1167.3 655.9V658.6M1172.7 666.7V669.4M1172.7 680.1V690.9M1175.4 669.4V680.1M1178.1 664.0V669.4M1178.1 693.6V701.7M1180.8 688.2V696.3M1183.5 680.1V688.2M1186.2 685.5V688.2M1188.9 688.2V690.9M1191.6 677.4V680.1M1194.3 699.0V707.1M1197.0 688.2V699.0M1202.4 685.5V688.2M1205.1 674.8V677.4M1205.1 688.2V693.6M1207.8 677.4V680.1M1210.5 682.8V685.5M1215.9 658.6V661.3M1215.9 664.0V666.7M1218.6 666.7V669.4M1221.3 661.3V666.7M1221.3 685.5V688.2M1224.0 655.9V661.3M1226.7 664.0V672.1M1229.4 669.4V674.8M1232.1 664.0V669.4M1234.8 680.1V682.8M1237.5 674.8V677.4M1237.5 680.1V682.8M1240.2 736.8V739.5M1242.9 690.9V693.6M1245.6 693.6V701.7M1248.3 701.7V709.8M1251.0 696.3V701.7M1251.0 715.2V717.9M1253.7 704.4V709.8M1256.4 709.8V712.5M1259.1 680.1V685.5M1261.8 726.0V728.7M1272.6 739.5V742.2M1275.3 712.5V717.9M1278.0 726.0V731.4M1280.7 712.5V715.2M1286.1 720.6V726.0M1288.8 715.2V720.6M1288.8 739.5V742.2M1291.5 723.3V731.4M1294.2 707.1V709.8M1294.2 731.4V739.5M1296.9 747.6V753.0M1302.3 720.6V723.3M1305.0 736.8V742.2M1307.7 717.9V726.0M1310.4 744.9V750.3M1313.1 726.0V736.8M1315.8 736.8V742.2M1318.5 699.0V704.4M1321.2 731.4V734.1M1323.9 728.7V731.4M1326.6 715.2V717.9M1329.3 728.7V731.4M1332.0 726.0V728.7M1334.7 736.8V739.5M1337.4 753.0V763.8M1340.1 739.5V744.9M1342.8 744.9V750.3M1345.5 720.6V723.3M1348.2 728.7V734.1M1350.8 734.1V739.5M1353.5 723.3V728.7M1356.2 728.7V731.4M1358.9 707.1V709.8M1361.6 739.5V742.2M1364.3 739.5V742.2M1367.0 731.4V734.1M1367.0 742.2V744.9M1369.7 744.9V747.6M1372.4 742.2V744.9M1372.4 750.3V753.0M1375.1 747.6V750.3M1375.1 761.1V766.5M1377.8 758.4V761.1M1380.5 736.8V744.9M1380.5 766.5V769.2M1383.2 747.6V753.0M1388.6 723.3V726.0M1391.3 758.4V761.1M1391.3 766.5V771.9M1394.0 761.1V766.5M1396.7 771.9V774.6M1402.1 742.2V744.9M1404.8 755.7V761.1M1407.5 736.8V742.2M1410.2 744.9V747.6M1418.3 750.3V753.0M1421.0 739.5V747.6M1423.7 747.6V753.0M1426.4 742.2V747.6M1431.8 717.9V726.0M1434.5 761.1V766.5M1434.5 780.0V785.4M1437.2 780.0V790.8M1439.9 769.2V780.0M1442.6 788.1V790.8M1445.3 739.5V742.2M1448.0 769.2V771.9M1450.7 761.1V766.5M1453.4 769.2V771.9M1456.1 763.8V769.2M1456.1 777.3V780.0M1461.5 744.9V753.0M1461.5 785.4V790.8M1464.2 780.0V785.4M1466.9 790.8V796.2M1469.6 788.1V790.8M1469.6 801.6V804.3M1475.0 785.4V788.1M1477.7 780.0V782.7M1480.4 801.6V812.4M1483.1 790.8V796.2M1485.8 796.2V801.6M1488.5 790.8V793.5M1491.2 782.7V793.5M1493.9 793.5V801.6M1496.6 788.1V793.5M1499.3 785.4V788.1M1499.3 796.2V798.9M1504.7 782.7V790.8M1507.4 774.6V782.7M1510.1 785.4V790.8M1512.8 790.8V793.5M1515.5 780.0V782.7M1518.2 782.7V785.4M1520.9 788.1V790.8M1523.6 782.7V788.1M1526.3 801.6V807.0M1531.7 780.0V788.1M1534.4 771.9V780.0M1537.1 793.5V798.9M1539.8 785.4V788.1M1539.8 793.5V796.2M1545.2 782.7V788.1M1547.9 777.3V780.0M1550.6 788.1V798.9M1553.3 766.5V780.0M1556.0 807.0V812.4M1558.7 796.2V807.0M1561.4 809.7V812.4M1564.1 807.0V809.7M1566.8 790.8V796.2M1569.5 815.1V820.5M1572.2 807.0V809.7M1577.6 815.1V817.8M1580.3 815.1V820.5M1583.0 812.4V815.1M1585.7 812.4V815.1M1593.8 812.4V823.2M1596.5 804.3V812.4M1599.2 815.1V817.8M1599.2 823.2V825.9M1601.9 817.8V820.5M1604.6 815.1V820.5M1607.3 807.0V815.1M1610.0 815.1V823.2M1612.7 804.3V807.0M1612.7 828.6V834.0M1615.4 820.5V828.6M1618.1 812.4V817.8M1620.7 817.8V825.9M1623.4 804.3V807.0M1623.4 828.6V834.0M1626.1 820.5V828.6M1634.2 823.2V825.9M1636.9 836.7V844.8M1639.6 809.7V823.2M1642.3 836.7V842.1M1645.0 828.6V836.7M1647.7 812.4V815.1M1647.7 847.5V850.2M1650.4 815.1V820.5M1653.1 807.0V812.4M1655.8 834.0V836.7M1658.5 825.9V831.3M1661.2 831.3V834.0M1663.9 823.2V825.9M1663.9 844.8V852.9M1666.6 836.7V844.8M1669.3 831.3V834.0M1669.3 847.5V855.6M1672.0 861.0V863.7M1677.4 828.6V831.3M1677.4 842.1V850.2M1680.1 836.7V842.1M1682.8 817.8V825.9M1682.8 850.2V852.9M1685.5 828.6V831.3M1690.9 798.9V804.3M1690.9 834.0V839.4M1693.6 825.9V834.0M1696.3 850.2V863.7M1699.0 836.7V850.2M1701.7 842.1V847.5M1701.7 855.6V858.3M1704.4 847.5V850.2M1707.1 825.9V828.6M1707.1 842.1V844.8M1709.8 839.4V842.1M1709.8 852.9V855.6M1712.5 850.2V852.9M1715.2 812.4V815.1M1720.6 831.3V834.0M1723.3 828.6V831.3M1723.3 842.1V844.8M1726.0 839.4V842.1M1726.0 871.8V885.3M1728.7 842.1V847.5M1734.1 861.0V863.7M1736.8 858.3V863.7M1739.5 836.7V847.5M1742.2 855.6V863.7M1744.9 850.2V855.6M1744.9 885.3V890.7M1747.6 874.5V885.3M1750.3 836.7V839.4M1750.3 893.4V909.6M1753.0 825.9V828.6M1755.7 836.7V842.1M1758.4 834.0V836.7M1761.1 850.2V855.6M1763.8 844.8V850.2M1766.5 858.3V866.4M1769.2 817.8V825.9M1771.9 836.7V839.4M1774.6 831.3V836.7M1777.3 842.1V847.5M1780.0 817.8V825.9M1780.0 855.6V858.3M1782.7 847.5V852.9M1785.4 852.9V855.6M1788.1 839.4V844.8M1790.8 844.8V847.5M1793.5 828.6V834.0M1796.2 842.1V844.8M1798.9 839.4V842.1M1801.6 842.1V844.8M1807.0 828.6V831.3M1807.0 852.9V858.3M1809.7 847.5V852.9M1812.4 844.8V850.2M1812.4 863.7V866.4M1815.1 836.7V839.4M1815.1 850.2V852.9M1820.5 842.1V847.5M1820.5 861.0V863.7M1823.2 847.5V852.9M1825.9 836.7V839.4M1825.9 866.4V874.5M1828.6 825.9V834.0M1834.0 855.6V858.3M1836.7 842.1V847.5M1839.4 844.8V847.5M1842.1 828.6V834.0M1842.1 847.5V850.2M1844.8 855.6V858.3M1847.5 847.5V855.6M1850.2 852.9V855.6M1852.9 855.6V858.3M1855.6 874.5V888.0M1858.3 839.4V844.8M1863.7 852.9V858.3M1866.4 836.7V842.1M1869.1 858.3V861.0M1869.1 871.8V874.5M1871.8 863.7V866.4M1874.5 866.4V869.1M1879.9 863.7V866.4M1882.6 866.4V869.1M1885.3 877.2V882.6M1888.0 847.5V850.2M1893.3 858.3V861.0M1896.0 850.2V852.9M1896.0 871.8V882.6M1898.7 852.9V863.7M1901.4 869.1V874.5M1904.1 863.7V869.1M1906.8 866.4V869.1M1906.8 885.3V888.0M1909.5 855.6V858.3M1909.5 869.1V874.5M1912.2 836.7V842.1M1912.2 858.3V861.0M1914.9 850.2V855.6M1917.6 844.8V850.2M1917.6 855.6V861.0M1920.3 852.9V855.6M1923.0 858.3V863.7M1923.0 874.5V877.2M1925.7 863.7V871.8M1928.4 858.3V863.7M1931.1 888.0V890.7M1933.8 879.9V885.3M1936.5 869.1V871.8M1936.5 885.3V888.0M1939.2 877.2V885.3M1941.9 869.1V877.2M1944.6 885.3V888.0M1947.3 869.1V871.8M1950.0 871.8V877.2M1952.7 861.0V866.4M1955.4 871.8V877.2M1958.1 863.7V871.8M1963.5 850.2V852.9M1971.6 869.1V871.8M1971.6 879.9V885.3M1974.3 861.0V863.7M1977.0 866.4V871.8M1979.7 861.0V866.4M1982.4 861.0V866.4M1985.1 871.8V879.9M1987.8 858.3V861.0M1993.2 888.0V890.7M1995.9 866.4V874.5M1998.6 874.5V879.9M2001.3 863.7V866.4M2001.3 885.3V890.7M2009.4 885.3V890.7M2012.1 869.1V871.8M2014.8 882.6V888.0M2017.5 877.2V882.6M2020.2 896.1V898.8M2022.9 888.0V896.1M2025.6 896.1V904.2M2028.3 863.7V869.1M2031.0 893.4V898.8M2036.4 871.8V874.5M2039.1 879.9V890.7M2041.8 861.0V866.4M2041.8 879.9V882.6M2044.5 877.2V879.9M2052.6 885.3V890.7M2055.3 879.9V882.6M2058.0 885.3V890.7M2060.7 874.5V877.2M2066.1 896.1V898.8M2071.5 890.7V898.8M2074.2 885.3V888.0M2076.9 888.0V890.7M2079.6 879.9V885.3M2082.3 893.4V901.5M2085.0 882.6V888.0M2085.0 901.5V904.2M2087.7 866.4V871.8M2093.1 888.0V890.7M2093.1 896.1V898.8M2098.5 877.2V882.6M2101.2 890.7V896.1M2103.9 885.3V890.7M2109.3 874.5V877.2M2112.0 885.3V890.7M2114.7 874.5V882.6M2117.4 890.7V893.4M2122.8 866.4V869.1M2128.2 898.8V904.2M2130.9 896.1V898.8M2130.9 915.0V917.7M2136.3 874.5V877.2M2139.0 901.5V906.9M2144.4 893.4V896.1M2147.1 890.7V893.4M2147.1 896.1V898.8M2152.5 906.9V912.3M2155.2 912.3V917.7M2157.9 901.5V904.2M2160.5 898.8V901.5M2165.9 879.9V882.6M2165.9 912.3V917.7M2168.6 882.6V888.0M2171.3 877.2V882.6M2171.3 896.1V898.8M2176.7 888.0V893.4M2179.4 896.1V898.8M2182.1 866.4V871.8M2187.5 888.0V890.7M2190.2 885.3V888.0M2190.2 890.7V893.4M2195.6 879.9V882.6M2195.6 896.1V901.5M2198.3 888.0V896.1M2201.0 882.6V888.0M2201.0 909.6V917.7M2203.7 896.1V898.8M2206.4 890.7V896.1M2206.4 898.8V904.2M2209.1 896.1V898.8M2211.8 877.2V885.3M2211.8 909.6V917.7M2214.5 877.2V890.7M2217.2 909.6V915.0M2222.6 877.2V879.9M2225.3 898.8V901.5M2225.3 912.3V917.7M2228.0 901.5V906.9M2230.7 896.1V898.8M2230.7 915.0V917.7M2233.4 893.4V896.1M2238.8 904.2V906.9"/>
<path class="c" d="M190.3 707.1V709.8M193.0 707.1V712.5M195.7 693.6V707.1M198.4 701.7V731.4M201.1 715.2V744.9M203.8 704.4V739.5M206.5 739.5V750.3M209.2 728.7V747.6M211.9 726.0V736.8M214.6 736.8V763.8M217.3 763.8V774.6M220.0 763.8V774.6M222.7 763.8V777.3M225.4 734.1V766.5M228.1 723.3V734.1M230.8 717.9V726.0M233.5 726.0V736.8M236.2 736.8V744.9M238.9 720.6V739.5M241.6 734.1V750.3M244.3 731.4V742.2M247.0 726.0V731.4M249.7 726.0V763.8M252.4 731.4V758.4M255.1 720.6V731.4M257.8 720.6V755.7M260.5 728.7V769.2M263.2 723.3V755.7M265.9 736.8V755.7M268.6 701.7V736.8M271.2 723.3V750.3M273.9 720.6V736.8M276.6 717.9V728.7M279.3 726.0V742.2M282.0 736.8V742.2M284.7 731.4V742.2M287.4 723.3V744.9M290.1 744.9V753.0M292.8 753.0V758.4M295.5 744.9V755.7M298.2 750.3V766.5M300.9 755.7V774.6M303.6 744.9V755.7M306.3 742.2V750.3M309.0 739.5V744.9M311.7 734.1V753.0M314.4 709.8V734.1M317.1 723.3V739.5M319.8 704.4V742.2M322.5 707.1V723.3M325.2 723.3V755.7M327.9 717.9V739.5M330.6 720.6V736.8M333.3 723.3V742.2M336.0 715.2V723.3M338.7 715.2V723.3M341.4 723.3V728.7M344.1 720.6V734.1M346.8 734.1V755.7M349.5 742.2V758.4M352.2 744.9V761.1M354.9 747.6V755.7M357.6 747.6V750.3M360.3 736.8V753.0M363.0 731.4V744.9M365.7 736.8V742.2M368.4 720.6V736.8M371.1 731.4V747.6M373.8 742.2V744.9M376.5 726.0V744.9M379.2 701.7V726.0M381.9 712.5V758.4M384.6 726.0V750.3M387.3 709.8V742.2M390.0 731.4V755.7M392.7 726.0V750.3M395.4 739.5V750.3M398.1 744.9V758.4M400.8 744.9V750.3M403.5 744.9V747.6M406.2 742.2V758.4M408.9 715.2V758.4M411.6 726.0V758.4M414.3 742.2V755.7M417.0 731.4V742.2M419.7 734.1V742.2M422.4 734.1V742.2M425.1 742.2V753.0M427.8 728.7V744.9M430.5 739.5V750.3M433.2 744.9V750.3M435.9 744.9V758.4M438.6 734.1V755.7M441.3 736.8V755.7M444.0 747.6V769.2M446.7 734.1V747.6M449.4 734.1V739.5M452.1 736.8V747.6M454.8 728.7V742.2M457.5 715.2V734.1M460.2 701.7V717.9M462.9 717.9V723.3M465.6 717.9V723.3M468.3 720.6V731.4M471.0 731.4V744.9M473.7 720.6V734.1M476.4 715.2V734.1M479.1 731.4V736.8M481.8 712.5V731.4M484.5 717.9V734.1M487.2 707.1V720.6M489.9 712.5V720.6M492.6 712.5V739.5M495.3 715.2V736.8M498.0 717.9V723.3M500.7 723.3V734.1M503.4 734.1V739.5M506.1 712.5V742.2M508.8 709.8V739.5M511.5 723.3V736.8M514.2 728.7V736.8M516.9 717.9V734.1M519.6 709.8V717.9M522.3 709.8V717.9M525.0 712.5V726.0M527.7 726.0V739.5M530.4 709.8V728.7M533.1 707.1V755.7M535.8 693.6V766.5M538.5 696.3V715.2M541.1 707.1V715.2M543.8 693.6V712.5M546.5 712.5V731.4M549.2 712.5V734.1M551.9 709.8V712.5M554.6 699.0V709.8M557.3 685.5V699.0M560.0 690.9V715.2M562.7 680.1V690.9M565.4 685.5V709.8M568.1 709.8V720.6M570.8 688.2V712.5M573.5 699.0V726.0M576.2 704.4V734.1M578.9 690.9V704.4M581.6 693.6V696.3M584.3 682.8V693.6M587.0 677.4V690.9M589.7 690.9V699.0M592.4 680.1V699.0M595.1 680.1V682.8M597.8 669.4V680.1M600.5 666.7V669.4M603.2 653.2V669.4M605.9 647.8V685.5M608.6 669.4V690.9M611.3 672.1V680.1M614.0 680.1V699.0M616.7 664.0V682.8M619.4 655.9V682.8M622.1 647.8V658.6M624.8 658.6V674.8M627.5 653.2V669.4M630.2 639.7V653.2M632.9 637.0V655.9M635.6 645.1V664.0M638.3 642.4V669.4M641.0 653.2V666.7M643.7 645.1V653.2M646.4 647.8V655.9M649.1 650.5V661.3M651.8 631.6V650.5M654.5 634.3V653.2M657.2 637.0V647.8M659.9 637.0V645.1M662.6 645.1V647.8M665.3 642.4V658.6M668.0 631.6V655.9M670.7 623.5V631.6M673.4 626.2V634.3M676.1 623.5V639.7M678.8 618.1V626.2M681.5 615.4V626.2M684.2 610.0V615.4M686.9 615.4V639.7M689.6 626.2V655.9M692.3 612.7V626.2M695.0 612.7V623.5M697.7 607.3V615.4M700.4 607.3V620.8M703.1 612.7V637.0M705.8 601.9V623.5M708.5 610.0V628.9M711.2 588.4V612.7M713.9 585.7V588.4M716.6 583.0V593.8M719.3 572.2V610.0M722.0 599.2V620.8M724.7 593.8V599.2M727.4 572.2V593.8M730.1 580.3V596.5M732.8 574.9V604.6M735.5 583.0V618.1M738.2 577.6V583.0M740.9 580.3V588.4M743.6 566.8V580.3M746.3 566.8V569.5M749.0 564.1V580.3M751.7 556.0V583.0M754.4 558.7V564.1M757.1 561.4V566.8M759.8 542.5V561.4M762.5 534.4V542.5M765.2 534.4V542.5M767.9 531.7V545.2M770.6 537.1V566.8M773.3 539.8V558.7M776.0 529.0V542.5M778.7 523.6V542.5M781.4 529.0V547.9M784.1 515.5V529.0M786.8 515.5V534.4M789.5 518.2V556.0M792.2 493.9V518.2M794.9 491.2V520.9M797.6 507.4V518.2M800.3 491.2V507.4M803.0 485.8V518.2M805.7 461.5V485.8M808.4 458.8V488.5M811.0 456.1V512.8M813.7 491.2V510.1M816.4 510.1V550.6M819.1 493.9V520.9M821.8 469.6V493.9M824.5 450.7V469.6M827.2 453.4V466.9M829.9 458.8V480.4M832.6 423.7V458.8M835.3 415.6V453.4M838.0 402.2V461.5M840.7 404.8V426.4M843.4 426.4V456.1M846.1 456.1V469.6M848.8 426.4V464.2M851.5 415.6V437.2M854.2 418.3V439.9M856.9 423.7V442.6M859.6 412.9V437.2M862.3 399.5V412.9M865.0 412.9V426.4M867.7 386.0V429.1M870.4 388.7V391.4M873.1 391.4V399.5M875.8 396.8V402.2M878.5 375.2V396.8M881.2 369.8V375.2M883.9 372.5V394.1M886.6 391.4V402.2M889.3 375.2V391.4M892.0 386.0V412.9M894.7 386.0V421.0M897.4 377.9V386.0M900.1 367.1V377.9M902.8 375.2V394.1M905.5 356.3V380.6M908.2 380.6V391.4M910.9 380.6V399.5M913.6 399.5V404.8M916.3 396.8V412.9M919.0 402.2V434.5M921.7 383.3V415.6M924.4 407.5V423.7M927.1 410.2V429.1M929.8 429.1V445.3M932.5 418.3V434.5M935.2 418.3V423.7M937.9 423.7V450.7M940.6 450.7V461.5M943.3 442.6V456.1M946.0 448.0V466.9M948.7 466.9V480.4M951.4 439.9V466.9M954.1 434.5V450.7M956.8 448.0V458.8M959.5 458.8V469.6M962.2 423.7V458.8M964.9 407.5V445.3M967.6 445.3V488.5M970.3 453.4V485.8M973.0 464.2V491.2M975.7 475.0V488.5M978.4 488.5V504.7M981.1 504.7V520.9M983.8 493.9V520.9M986.5 469.6V493.9M989.2 439.9V472.3M991.9 412.9V491.2M994.6 491.2V526.3M997.3 507.4V512.8M1000.0 480.4V507.4M1002.7 502.0V564.1M1005.4 488.5V529.0M1008.1 483.1V518.2M1010.8 475.0V512.8M1013.5 512.8V547.9M1016.2 537.1V556.0M1018.9 510.1V537.1M1021.6 523.6V547.9M1024.3 507.4V553.3M1027.0 504.7V553.3M1029.7 510.1V545.2M1032.4 523.6V550.6M1035.1 531.7V547.9M1037.8 534.4V553.3M1040.5 531.7V534.4M1043.2 534.4V539.8M1045.9 529.0V537.1M1048.6 537.1V542.5M1051.3 534.4V542.5M1054.0 542.5V572.2M1056.7 556.0V572.2M1059.4 561.4V580.3M1062.1 577.6V580.3M1064.8 561.4V583.0M1067.5 556.0V580.3M1070.2 580.3V610.0M1072.9 591.1V604.6M1075.6 593.8V601.9M1078.3 569.5V607.3M1080.9 553.3V591.1M1083.6 591.1V599.2M1086.3 583.0V596.5M1089.0 564.1V583.0M1091.7 583.0V601.9M1094.4 593.8V623.5M1097.1 618.1V628.9M1099.8 596.5V618.1M1102.5 588.4V596.5M1105.2 591.1V601.9M1107.9 601.9V610.0M1110.6 601.9V655.9M1113.3 601.9V658.6M1116.0 604.6V623.5M1118.7 623.5V631.6M1121.4 623.5V637.0M1124.1 618.1V631.6M1126.8 628.9V642.4M1129.5 642.4V645.1M1132.2 631.6V642.4M1134.9 634.3V642.4M1137.6 642.4V677.4M1140.3 626.2V682.8M1143.0 626.2V655.9M1145.7 650.5V666.7M1148.4 623.5V650.5M1151.1 647.8V666.7M1153.8 650.5V669.4M1156.5 647.8V666.7M1159.2 666.7V674.8M1161.9 653.2V666.7M1164.6 650.5V664.0M1167.3 645.1V655.9M1170.0 653.2V672.1M1172.7 669.4V680.1M1175.4 680.1V709.8M1178.1 669.4V693.6M1180.8 664.0V688.2M1183.5 688.2V696.3M1186.2 688.2V696.3M1188.9 677.4V688.2M1191.6 672.1V677.4M1194.3 672.1V699.0M1197.0 699.0V707.1M1199.7 688.2V699.0M1202.4 688.2V693.6M1205.1 677.4V688.2M1207.8 672.1V677.4M1210.5 674.8V682.8M1213.2 658.6V685.5M1215.9 661.3V664.0M1218.6 655.9V666.7M1221.3 666.7V685.5M1224.0 661.3V690.9M1226.7 655.9V664.0M1229.4 661.3V669.4M1232.1 669.4V682.8M1234.8 672.1V680.1M1237.5 677.4V680.1M1240.2 677.4V736.8M1242.9 693.6V739.5M1245.6 688.2V693.6M1248.3 688.2V701.7M1251.0 701.7V715.2M1253.7 709.8V717.9M1256.4 680.1V709.8M1259.1 685.5V728.7M1261.8 720.6V726.0M1264.5 720.6V723.3M1267.2 715.2V720.6M1269.9 715.2V742.2M1272.6 712.5V739.5M1275.3 717.9V734.1M1278.0 712.5V726.0M1280.7 715.2V717.9M1283.4 712.5V717.9M1286.1 715.2V720.6M1288.8 720.6V739.5M1291.5 731.4V747.6M1294.2 709.8V731.4M1296.9 707.1V747.6M1299.6 720.6V753.0M1302.3 723.3V734.1M1305.0 728.7V736.8M1307.7 726.0V747.6M1310.4 715.2V744.9M1313.1 736.8V750.3M1315.8 699.0V736.8M1318.5 704.4V726.0M1321.2 723.3V731.4M1323.9 731.4V736.8M1326.6 717.9V731.4M1329.3 715.2V728.7M1332.0 728.7V739.5M1334.7 731.4V736.8M1337.4 731.4V753.0M1340.1 744.9V763.8M1342.8 720.6V744.9M1345.5 723.3V739.5M1348.2 734.1V742.2M1350.8 723.3V734.1M1353.5 728.7V739.5M1356.2 707.1V728.7M1358.9 709.8V744.9M1361.6 742.2V747.6M1364.3 742.2V747.6M1367.0 734.1V742.2M1369.7 731.4V744.9M1372.4 744.9V750.3M1375.1 750.3V761.1M1377.8 761.1V774.6M1380.5 744.9V766.5M1383.2 736.8V747.6M1385.9 723.3V750.3M1388.6 726.0V761.1M1391.3 761.1V766.5M1394.0 766.5V774.6M1396.7 761.1V771.9M1399.4 742.2V774.6M1402.1 744.9V761.1M1404.8 750.3V755.7M1407.5 742.2V755.7M1410.2 734.1V744.9M1412.9 731.4V747.6M1415.6 731.4V753.0M1418.3 742.2V750.3M1421.0 747.6V761.1M1423.7 734.1V747.6M1426.4 747.6V758.4M1429.1 717.9V758.4M1431.8 726.0V785.4M1434.5 766.5V780.0M1437.2 755.7V780.0M1439.9 780.0V793.5M1442.6 739.5V788.1M1445.3 742.2V771.9M1448.0 761.1V769.2M1450.7 766.5V777.3M1453.4 755.7V769.2M1456.1 769.2V777.3M1458.8 744.9V780.0M1461.5 753.0V785.4M1464.2 785.4V798.9M1466.9 780.0V790.8M1469.6 790.8V801.6M1472.3 785.4V804.3M1475.0 788.1V790.8M1477.7 782.7V790.8M1480.4 777.3V801.6M1483.1 796.2V815.1M1485.8 790.8V796.2M1488.5 793.5V807.0M1491.2 793.5V807.0M1493.9 771.9V793.5M1496.6 774.6V788.1M1499.3 788.1V796.2M1502.0 774.6V798.9M1504.7 771.9V782.7M1507.4 782.7V801.6M1510.1 790.8V801.6M1512.8 785.4V790.8M1515.5 782.7V788.1M1518.2 777.3V782.7M1520.9 777.3V788.1M1523.6 788.1V796.2M1526.3 788.1V801.6M1529.0 769.2V807.0M1531.7 769.2V780.0M1534.4 780.0V801.6M1537.1 782.7V793.5M1539.8 788.1V793.5M1542.5 780.0V796.2M1545.2 777.3V782.7M1547.9 780.0V801.6M1550.6 763.8V788.1M1553.3 780.0V809.7M1556.0 766.5V807.0M1558.7 807.0V812.4M1561.4 807.0V809.7M1564.1 809.7V815.1M1566.8 796.2V812.4M1569.5 790.8V815.1M1572.2 809.7V820.5M1574.9 809.7V817.8M1577.6 807.0V815.1M1580.3 804.3V815.1M1583.0 815.1V825.9M1585.7 815.1V825.9M1588.4 798.9V817.8M1591.1 798.9V804.3M1593.8 796.2V812.4M1596.5 812.4V828.6M1599.2 817.8V823.2M1601.9 812.4V817.8M1604.6 807.0V815.1M1607.3 815.1V828.6M1610.0 798.9V815.1M1612.7 807.0V828.6M1615.4 828.6V834.0M1618.1 817.8V831.3M1620.7 801.6V817.8M1623.4 807.0V828.6M1626.1 828.6V839.4M1628.8 834.0V847.5M1631.5 823.2V847.5M1634.2 825.9V831.3M1636.9 817.8V836.7M1639.6 823.2V852.9M1642.3 809.7V836.7M1645.0 836.7V850.2M1647.7 815.1V847.5M1650.4 804.3V815.1M1653.1 812.4V820.5M1655.8 815.1V834.0M1658.5 831.3V836.7M1661.2 823.2V831.3M1663.9 825.9V844.8M1666.6 844.8V863.7M1669.3 834.0V847.5M1672.0 831.3V861.0M1674.7 828.6V863.7M1677.4 831.3V842.1M1680.1 842.1V858.3M1682.8 825.9V850.2M1685.5 817.8V828.6M1688.2 798.9V831.3M1690.9 804.3V834.0M1693.6 834.0V844.8M1696.3 817.8V850.2M1699.0 850.2V866.4M1701.7 847.5V855.6M1704.4 825.9V847.5M1707.1 828.6V842.1M1709.8 842.1V852.9M1712.5 852.9V858.3M1715.2 815.1V855.6M1717.9 812.4V834.0M1720.6 825.9V831.3M1723.3 831.3V842.1M1726.0 842.1V871.8M1728.7 847.5V885.3M1731.4 842.1V863.7M1734.1 847.5V861.0M1736.8 844.8V858.3M1739.5 847.5V869.1M1742.2 834.0V855.6M1744.9 855.6V885.3M1747.6 885.3V909.6M1750.3 839.4V893.4M1753.0 828.6V839.4M1755.7 823.2V836.7M1758.4 836.7V847.5M1761.1 844.8V850.2M1763.8 850.2V866.4M1766.5 842.1V858.3M1769.2 825.9V852.9M1771.9 817.8V836.7M1774.6 836.7V847.5M1777.3 817.8V842.1M1780.0 825.9V855.6M1782.7 852.9V863.7M1785.4 844.8V852.9M1788.1 844.8V850.2M1790.8 828.6V844.8M1793.5 834.0V847.5M1796.2 836.7V842.1M1798.9 842.1V847.5M1801.6 844.8V847.5M1804.3 828.6V847.5M1807.0 831.3V852.9M1809.7 852.9V869.1M1812.4 850.2V863.7M1815.1 839.4V850.2M1817.8 836.7V863.7M1820.5 847.5V861.0M1823.2 831.3V847.5M1825.9 839.4V866.4M1828.6 834.0V877.2M1831.3 825.9V858.3M1834.0 842.1V855.6M1836.7 847.5V858.3M1839.4 847.5V855.6M1842.1 834.0V847.5M1844.8 828.6V855.6M1847.5 855.6V861.0M1850.2 855.6V861.0M1852.9 847.5V855.6M1855.6 847.5V874.5M1858.3 844.8V888.0M1861.0 839.4V858.3M1863.7 836.7V852.9M1866.4 842.1V861.0M1869.1 861.0V871.8M1871.8 866.4V874.5M1874.5 861.0V866.4M1877.2 861.0V866.4M1879.9 866.4V869.1M1882.6 858.3V866.4M1885.3 861.0V877.2M1888.0 850.2V882.6M1890.6 847.5V861.0M1893.3 850.2V858.3M1896.0 852.9V871.8M1898.7 863.7V888.0M1901.4 852.9V869.1M1904.1 869.1V888.0M1906.8 869.1V885.3M1909.5 858.3V869.1M1912.2 842.1V858.3M1914.9 834.0V850.2M1917.6 850.2V855.6M1920.3 855.6V877.2M1923.0 863.7V874.5M1925.7 850.2V863.7M1928.4 863.7V874.5M1931.1 858.3V888.0M1933.8 885.3V890.7M1936.5 871.8V885.3M1939.2 863.7V877.2M1941.9 877.2V890.7M1944.6 877.2V885.3M1947.3 871.8V888.0M1950.0 861.0V871.8M1952.7 866.4V879.9M1955.4 852.9V871.8M1958.1 871.8V879.9M1960.8 850.2V874.5M1963.5 852.9V877.2M1966.2 869.1V877.2M1968.9 866.4V871.8M1971.6 871.8V879.9M1974.3 863.7V885.3M1977.0 861.0V866.4M1979.7 866.4V885.3M1982.4 866.4V882.6M1985.1 855.6V871.8M1987.8 861.0V879.9M1990.5 858.3V890.7M1993.2 879.9V888.0M1995.9 874.5V885.3M1998.6 861.0V874.5M2001.3 866.4V885.3M2004.0 863.7V890.7M2006.7 863.7V890.7M2009.4 874.5V885.3M2012.1 871.8V882.6M2014.8 863.7V882.6M2017.5 882.6V888.0M2020.2 882.6V896.1M2022.9 896.1V906.9M2025.6 874.5V896.1M2028.3 869.1V879.9M2031.0 863.7V893.4M2033.7 871.8V898.8M2036.4 874.5V890.7M2039.1 855.6V879.9M2041.8 866.4V879.9M2044.5 879.9V885.3M2047.2 874.5V885.3M2049.9 874.5V890.7M2052.6 879.9V885.3M2055.3 882.6V893.4M2058.0 877.2V885.3M2060.7 877.2V890.7M2063.4 874.5V898.8M2066.1 882.6V896.1M2068.8 879.9V885.3M2071.5 877.2V890.7M2074.2 888.0V898.8M2076.9 879.9V888.0M2079.6 885.3V901.5M2082.3 877.2V893.4M2085.0 888.0V901.5M2087.7 871.8V904.2M2090.4 866.4V898.8M2093.1 890.7V896.1M2095.8 888.0V893.4M2098.5 882.6V893.4M2101.2 874.5V890.7M2103.9 890.7V896.1M2106.6 874.5V896.1M2109.3 877.2V890.7M2112.0 877.2V885.3M2114.7 882.6V893.4M2117.4 874.5V890.7M2120.1 866.4V893.4M2122.8 869.1V888.0M2125.5 885.3V888.0M2128.2 888.0V898.8M2130.9 898.8V915.0M2133.6 874.5V917.7M2136.3 877.2V906.9M2139.0 888.0V901.5M2141.7 890.7V893.4M2144.4 888.0V893.4M2147.1 893.4V896.1M2149.8 893.4V912.3M2152.5 912.3V917.7M2155.2 898.8V912.3M2157.9 896.1V901.5M2160.5 901.5V904.2M2163.2 898.8V917.7M2165.9 882.6V912.3M2168.6 871.8V882.6M2171.3 882.6V896.1M2174.0 893.4V901.5M2176.7 893.4V898.8M2179.4 866.4V896.1M2182.1 871.8V888.0M2184.8 882.6V890.7M2187.5 879.9V888.0M2190.2 888.0V890.7M2192.9 890.7V901.5M2195.6 882.6V896.1M2198.3 874.5V888.0M2201.0 888.0V909.6M2203.7 898.8V917.7M2206.4 896.1V898.8M2209.1 877.2V896.1M2211.8 885.3V909.6M2214.5 890.7V923.1M2217.2 874.5V909.6M2219.9 877.2V915.0M2222.6 879.9V917.7M2225.3 901.5V912.3M2228.0 893.4V901.5M2230.7 898.8V915.0M2233.4 896.1V917.7M2236.1 893.4V906.9"/>
</g>
<g stroke="#B177DE">
<path class="c l" d="M190.3 537.1V539.8M193.0 534.4V537.1M195.7 537.1V542.5M198.4 542.5V547.9M201.1 523.6V526.3M209.2 518.2V531.7M211.9 531.7V547.9M214.6 515.5V531.7M217.3 547.9V550.6M222.7 537.1V539.8M225.4 534.4V537.1M228.1 537.1V539.8M230.8 539.8V545.2M236.2 523.6V526.3M236.2 547.9V550.6M238.9 531.7V539.8M241.6 523.6V531.7M244.3 512.8V518.2M244.3 537.1V542.5M247.0 526.3V529.0M249.7 520.9V526.3M252.4 529.0V531.7M255.1 526.3V531.7M257.8 520.9V526.3M257.8 542.5V547.9M260.5 531.7V534.4M263.2 534.4V539.8M265.9 520.9V523.6M265.9 542.5V545.2M268.6 537.1V539.8M271.2 539.8V545.2M273.9 537.1V539.8M273.9 550.6V553.3M279.3 537.1V539.8M282.0 526.3V531.7M284.7 550.6V553.3M287.4 526.3V534.4M290.1 534.4V542.5M292.8 529.0V531.7M295.5 531.7V539.8M298.2 523.6V531.7M298.2 553.3V556.0M300.9 537.1V542.5M303.6 561.4V566.8M306.3 553.3V561.4M309.0 556.0V558.7M309.0 561.4V564.1M311.7 558.7V561.4M314.4 534.4V542.5M317.1 556.0V561.4M319.8 547.9V556.0M322.5 556.0V558.7M325.2 526.3V534.4M327.9 553.3V558.7M330.6 545.2V547.9M333.3 550.6V553.3M336.0 547.9V550.6M338.7 553.3V556.0M341.4 539.8V547.9M344.1 556.0V558.7M346.8 542.5V545.2M352.2 553.3V558.7M354.9 558.7V564.1M357.6 547.9V553.3M357.6 564.1V566.8M360.3 561.4V564.1M360.3 574.9V577.6M365.7 531.7V534.4M368.4 556.0V561.4M371.1 545.2V547.9M371.1 561.4V564.1M373.8 564.1V572.2M376.5 539.8V542.5M379.2 566.8V569.5M381.9 550.6V561.4M384.6 561.4V572.2M387.3 539.8V545.2M390.0 558.7V564.1M392.7 553.3V558.7M392.7 577.6V585.7M395.4 564.1V577.6M398.1 580.3V599.2M400.8 539.8V545.2M400.8 564.1V566.8M403.5 558.7V564.1M403.5 577.6V580.3M406.2 561.4V564.1M408.9 564.1V569.5M411.6 550.6V553.3M414.3 556.0V558.7M414.3 561.4V564.1M417.0 547.9V550.6M422.4 558.7V561.4M425.1 561.4V564.1M427.8 539.8V545.2M430.5 550.6V556.0M433.2 545.2V550.6M433.2 574.9V577.6M435.9 550.6V556.0M438.6 556.0V561.4M441.3 539.8V550.6M444.0 574.9V580.3M446.7 553.3V558.7M449.4 539.8V542.5M449.4 558.7V566.8M452.1 545.2V547.9M454.8 526.3V534.4M454.8 577.6V580.3M457.5 550.6V561.4M460.2 561.4V574.9M471.0 553.3V556.0M473.7 550.6V553.3M473.7 564.1V569.5M476.4 553.3V556.0M481.8 564.1V566.8M484.5 537.1V545.2M487.2 545.2V556.0M489.9 531.7V537.1M489.9 566.8V574.9M498.0 569.5V572.2M500.7 566.8V569.5M503.4 577.6V580.3M506.1 556.0V558.7M508.8 558.7V564.1M514.2 537.1V542.5M516.9 545.2V550.6M519.6 542.5V545.2M519.6 553.3V556.0M525.0 539.8V545.2M525.0 558.7V561.4M527.7 545.2V550.6M530.4 534.4V539.8M530.4 553.3V556.0M533.1 569.5V572.2M535.8 553.3V556.0M538.5 558.7V561.4M541.1 558.7V572.2M543.8 545.2V558.7M546.5 572.2V580.3M549.2 564.1V566.8M549.2 583.0V585.7M554.6 531.7V534.4M557.3 545.2V547.9M562.7 537.1V539.8M565.4 529.0V534.4M568.1 534.4V539.8M570.8 512.8V518.2M573.5 526.3V531.7M576.2 520.9V526.3M581.6 539.8V542.5M587.0 523.6V526.3M587.0 529.0V531.7M589.7 512.8V515.5M592.4 518.2V520.9M597.8 512.8V515.5M603.2 499.3V507.4M605.9 523.6V529.0M611.3 507.4V510.1M614.0 504.7V507.4M616.7 512.8V518.2M619.4 499.3V504.7M622.1 504.7V507.4M624.8 504.7V512.8M627.5 499.3V504.7M630.2 493.9V499.3M630.2 520.9V526.3M632.9 504.7V507.4M635.6 483.1V485.8M641.0 520.9V529.0M643.7 485.8V493.9M646.4 480.4V491.2M649.1 504.7V507.4M651.8 496.6V504.7M654.5 512.8V515.5M657.2 510.1V512.8M659.9 502.0V507.4M662.6 507.4V510.1M668.0 491.2V493.9M670.7 499.3V504.7M673.4 483.1V488.5M676.1 464.2V469.6M676.1 491.2V496.6M678.8 491.2V493.9M681.5 483.1V488.5M684.2 480.4V485.8M684.2 504.7V507.4M686.9 485.8V493.9M689.6 466.9V475.0M692.3 475.0V480.4M695.0 456.1V466.9M697.7 466.9V472.3M700.4 434.5V445.3M703.1 458.8V464.2M705.8 423.7V429.1M708.5 429.1V437.2M711.2 421.0V423.7M711.2 445.3V450.7M713.9 437.2V445.3M713.9 466.9V469.6M716.6 450.7V458.8M719.3 458.8V466.9M722.0 434.5V442.6M724.7 442.6V448.0M727.4 415.6V421.0M730.1 431.8V437.2M732.8 437.2V439.9M735.5 431.8V434.5M735.5 437.2V439.9M738.2 404.8V407.5M740.9 407.5V415.6M743.6 391.4V402.2M749.0 431.8V437.2M751.7 423.7V431.8M754.4 434.5V437.2M757.1 396.8V402.2M762.5 410.2V412.9M765.2 386.0V388.7M767.9 402.2V407.5M770.6 399.5V402.2M773.3 375.2V383.3M773.3 407.5V415.6M776.0 383.3V388.7M778.7 377.9V380.6M778.7 399.5V402.2M781.4 369.8V375.2M784.1 375.2V383.3M786.8 359.0V372.5M789.5 377.9V394.1M792.2 359.0V364.4M794.9 364.4V367.1M800.3 337.4V348.2M800.3 377.9V383.3M803.0 348.2V356.3M805.7 332.0V337.4M808.4 307.7V310.4M808.4 337.4V342.8M811.0 321.2V329.3M813.7 318.5V321.2M813.7 342.8V345.5M816.4 337.4V342.8M819.1 342.8V345.5M827.2 321.2V323.9M829.9 340.1V348.2M835.3 288.8V294.2M838.0 294.2V302.3M843.4 299.6V302.3M843.4 321.2V326.6M846.1 302.3V307.7M848.8 288.8V294.2M851.5 299.6V302.3M856.9 269.9V280.7M859.6 280.7V296.9M862.3 264.5V280.7M865.0 251.0V259.1M865.0 286.1V294.2M867.7 259.1V264.5M870.4 221.3V226.7M870.4 272.6V275.3M873.1 261.8V267.2M875.8 269.9V278.0M878.5 264.5V269.9M878.5 318.5V329.3M883.9 251.0V253.7M886.6 278.0V280.7M889.3 253.7V261.8M892.0 261.8V272.6M894.7 253.7V256.4M894.7 280.7V283.4M897.4 283.4V286.1M900.1 272.6V278.0M902.8 288.8V296.9M905.5 267.2V272.6M905.5 310.4V323.9M908.2 221.3V232.1M910.9 267.2V269.9M913.6 256.4V267.2M916.3 286.1V288.8M919.0 280.7V283.4M921.7 264.5V267.2M921.7 283.4V288.8M924.4 278.0V288.8M927.1 272.6V278.0M929.8 242.9V261.8M929.8 305.0V313.1M932.5 261.8V280.7M935.2 226.7V229.4M935.2 242.9V248.3M937.9 240.2V242.9M937.9 275.3V278.0M940.6 278.0V283.4M943.3 264.5V272.6M946.0 291.5V294.2M946.0 299.6V302.3M948.7 286.1V288.8M951.4 283.4V286.1M954.1 299.6V305.0M956.8 294.2V299.6M959.5 302.3V305.0M959.5 315.8V318.5M962.2 318.5V326.6M964.9 310.4V315.8M967.6 296.9V310.4M967.6 315.8V321.2M970.3 310.4V313.1M973.0 261.8V272.6M975.7 280.7V291.5M978.4 326.6V342.8M981.1 307.7V326.6M983.8 329.3V334.7M986.5 315.8V318.5M989.2 334.7V337.4M991.9 286.1V299.6M991.9 329.3V332.0M994.6 318.5V323.9M997.3 307.7V318.5M997.3 334.7V340.1M1000.0 332.0V334.7M1000.0 356.3V361.7M1002.7 350.9V356.3M1005.4 318.5V329.3M1005.4 361.7V367.1M1008.1 286.1V294.2M1008.1 329.3V340.1M1013.5 332.0V345.5M1013.5 348.2V353.6M1016.2 345.5V348.2M1018.9 356.3V361.7M1021.6 332.0V337.4M1024.3 310.4V313.1M1024.3 337.4V345.5M1027.0 350.9V356.3M1029.7 345.5V350.9M1032.4 359.0V361.7M1035.1 364.4V369.8M1037.8 361.7V364.4M1043.2 367.1V372.5M1043.2 383.3V386.0M1045.9 372.5V377.9M1048.6 361.7V364.4M1048.6 388.7V399.5M1051.3 375.2V380.6M1056.7 377.9V383.3M1056.7 399.5V402.2M1059.4 383.3V386.0M1062.1 377.9V383.3M1064.8 372.5V377.9M1064.8 391.4V394.1M1067.5 332.0V334.7M1072.9 367.1V375.2M1072.9 383.3V388.7M1075.6 380.6V383.3M1075.6 404.8V412.9M1078.3 361.7V377.9M1080.9 402.2V407.5M1086.3 383.3V386.0M1089.0 399.5V404.8M1091.7 394.1V396.8M1091.7 415.6V421.0M1094.4 404.8V410.2M1097.1 412.9V415.6M1099.8 404.8V410.2M1102.5 410.2V412.9M1105.2 399.5V404.8M1107.9 399.5V402.2M1107.9 410.2V412.9M1110.6 412.9V415.6M1113.3 415.6V421.0M1116.0 410.2V415.6M1118.7 429.1V434.5M1121.4 434.5V445.3M1124.1 426.4V434.5M1126.8 439.9V442.6M1129.5 429.1V431.8M1132.2 431.8V434.5M1137.6 423.7V426.4M1137.6 442.6V448.0M1140.3 431.8V437.2M1143.0 437.2V439.9M1145.7 415.6V423.7M1148.4 437.2V445.3M1151.1 429.1V434.5M1153.8 421.0V423.7M1153.8 434.5V439.9M1159.2 434.5V439.9M1161.9 445.3V453.4M1164.6 434.5V445.3M1164.6 475.0V480.4M1167.3 429.1V437.2M1172.7 475.0V477.7M1175.4 445.3V448.0M1178.1 434.5V439.9M1180.8 466.9V472.3M1183.5 453.4V458.8M1186.2 458.8V464.2M1188.9 434.5V439.9M1191.6 439.9V445.3M1194.3 434.5V439.9M1194.3 458.8V464.2M1197.0 426.4V429.1M1199.7 448.0V450.7M1202.4 442.6V448.0M1202.4 461.5V466.9M1205.1 456.1V461.5M1205.1 475.0V477.7M1207.8 456.1V464.2M1210.5 450.7V453.4M1210.5 464.2V469.6M1218.6 466.9V469.6M1218.6 480.4V485.8M1221.3 475.0V480.4M1221.3 496.6V499.3M1224.0 480.4V485.8M1226.7 485.8V491.2M1229.4 464.2V475.0M1232.1 477.7V488.5M1234.8 445.3V456.1M1237.5 499.3V512.8M1240.2 483.1V493.9M1242.9 477.7V480.4M1242.9 496.6V499.3M1245.6 456.1V466.9M1245.6 480.4V483.1M1248.3 469.6V480.4M1251.0 456.1V469.6M1251.0 499.3V502.0M1253.7 469.6V475.0M1259.1 475.0V483.1M1259.1 493.9V496.6M1261.8 483.1V493.9M1264.5 466.9V477.7M1264.5 499.3V502.0M1267.2 485.8V488.5M1269.9 488.5V493.9M1272.6 477.7V483.1M1275.3 488.5V496.6M1278.0 466.9V472.3M1278.0 491.2V493.9M1280.7 464.2V472.3M1283.4 499.3V502.0M1286.1 456.1V466.9M1288.8 466.9V475.0M1291.5 439.9V450.7M1294.2 480.4V488.5M1296.9 464.2V466.9M1302.3 496.6V499.3M1305.0 469.6V477.7M1307.7 491.2V493.9M1310.4 485.8V488.5M1310.4 518.2V523.6M1315.8 488.5V493.9M1315.8 504.7V507.4M1318.5 499.3V512.8M1321.2 485.8V499.3M1323.9 499.3V504.7M1323.9 520.9V523.6M1334.7 504.7V507.4M1337.4 499.3V504.7M1340.1 496.6V499.3M1345.5 520.9V523.6M1348.2 520.9V526.3M1350.8 507.4V515.5M1353.5 515.5V520.9M1358.9 518.2V520.9M1361.6 504.7V512.8M1364.3 518.2V529.0M1367.0 504.7V510.1M1369.7 512.8V518.2M1375.1 496.6V502.0M1375.1 529.0V531.7M1377.8 526.3V529.0M1383.2 499.3V504.7M1385.9 510.1V512.8M1391.3 526.3V534.4M1394.0 518.2V526.3M1396.7 523.6V526.3M1396.7 534.4V537.1M1407.5 520.9V526.3M1410.2 515.5V520.9M1412.9 526.3V529.0M1415.6 518.2V526.3M1418.3 529.0V534.4M1421.0 502.0V504.7M1421.0 518.2V520.9M1423.7 504.7V510.1M1426.4 512.8V518.2M1429.1 510.1V512.8M1431.8 534.4V539.8M1434.5 534.4V537.1M1437.2 537.1V542.5M1439.9 542.5V547.9M1445.3 542.5V545.2M1448.0 537.1V542.5M1450.7 545.2V550.6M1453.4 537.1V539.8M1456.1 534.4V537.1M1456.1 547.9V550.6M1461.5 547.9V550.6M1464.2 520.9V531.7M1466.9 531.7V545.2M1469.6 523.6V529.0M1469.6 547.9V550.6M1475.0 537.1V539.8M1480.4 542.5V547.9M1483.1 537.1V539.8M1485.8 556.0V558.7M1488.5 550.6V553.3M1491.2 566.8V572.2M1493.9 550.6V556.0M1496.6 537.1V542.5M1496.6 558.7V564.1M1502.0 547.9V553.3M1504.7 539.8V545.2M1507.4 556.0V566.8M1510.1 545.2V556.0M1512.8 534.4V539.8M1512.8 569.5V572.2M1515.5 577.6V583.0M1518.2 569.5V577.6M1520.9 580.3V593.8M1523.6 531.7V545.2M1526.3 561.4V569.5M1531.7 542.5V545.2M1534.4 523.6V531.7M1534.4 564.1V572.2M1537.1 547.9V561.4M1539.8 531.7V547.9M1539.8 585.7V593.8M1542.5 556.0V558.7M1547.9 561.4V564.1M1547.9 572.2V574.9M1550.6 566.8V569.5M1553.3 561.4V566.8M1553.3 580.3V585.7M1556.0 545.2V550.6M1561.4 553.3V561.4M1561.4 569.5V572.2M1564.1 564.1V574.9M1566.8 550.6V564.1M1566.8 585.7V588.4M1569.5 553.3V558.7M1577.6 577.6V583.0M1580.3 569.5V577.6M1583.0 580.3V585.7M1585.7 574.9V577.6M1591.1 561.4V572.2M1593.8 572.2V583.0M1596.5 547.9V550.6M1596.5 577.6V588.4M1599.2 561.4V564.1M1604.6 574.9V577.6M1607.3 558.7V564.1M1610.0 583.0V593.8M1612.7 561.4V566.8M1615.4 574.9V577.6M1618.1 577.6V585.7M1620.7 569.5V577.6M1623.4 580.3V591.1M1626.1 561.4V566.8M1634.2 583.0V585.7M1636.9 572.2V574.9M1639.6 580.3V585.7M1642.3 574.9V577.6M1645.0 577.6V580.3M1647.7 569.5V572.2M1647.7 580.3V583.0M1650.4 577.6V580.3M1650.4 596.5V601.9M1653.1 574.9V585.7M1655.8 585.7V593.8M1658.5 580.3V583.0M1661.2 599.2V601.9M1663.9 556.0V558.7M1663.9 566.8V569.5M1666.6 564.1V566.8M1666.6 580.3V583.0M1669.3 574.9V580.3M1669.3 610.0V618.1M1672.0 593.8V596.5M1677.4 558.7V572.2M1677.4 601.9V604.6M1680.1 572.2V585.7M1682.8 547.9V553.3M1682.8 591.1V601.9M1685.5 577.6V591.1M1688.2 593.8V596.5M1690.9 564.1V569.5M1693.6 593.8V604.6M1696.3 572.2V583.0M1696.3 610.0V612.7M1699.0 585.7V591.1M1701.7 591.1V596.5M1704.4 580.3V583.0M1707.1 599.2V607.3M1709.8 580.3V591.1M1712.5 599.2V604.6M1715.2 591.1V593.8M1717.9 583.0V585.7M1720.6 585.7V588.4M1723.3 574.9V583.0M1726.0 585.7V591.1M1728.7 580.3V585.7M1734.1 599.2V601.9M1736.8 577.6V588.4M1739.5 574.9V577.6M1739.5 601.9V610.0M1742.2 612.7V620.8M1744.9 599.2V612.7M1747.6 588.4V591.1M1747.6 615.4V618.1M1750.3 591.1V596.5M1753.0 583.0V588.4M1755.7 593.8V596.5M1769.2 607.3V610.0M1771.9 601.9V607.3M1777.3 593.8V596.5M1777.3 610.0V618.1M1780.0 601.9V610.0M1782.7 599.2V601.9M1782.7 618.1V626.2M1785.4 631.6V639.7M1788.1 596.5V601.9M1790.8 601.9V612.7M1793.5 583.0V588.4M1796.2 604.6V610.0M1798.9 593.8V596.5M1798.9 607.3V610.0M1807.0 593.8V596.5M1809.7 607.3V615.4M1812.4 596.5V601.9M1815.1 601.9V610.0M1820.5 628.9V631.6M1823.2 599.2V607.3M1823.2 628.9V631.6M1825.9 607.3V615.4M1828.6 591.1V593.8M1828.6 615.4V623.5M1834.0 610.0V618.1M1836.7 615.4V618.1M1839.4 618.1V623.5M1842.1 615.4V618.1M1842.1 626.2V628.9M1844.8 591.1V593.8M1850.2 607.3V610.0M1850.2 626.2V628.9M1852.9 610.0V612.7M1855.6 623.5V631.6M1858.3 612.7V620.8M1861.0 620.8V623.5M1863.7 585.7V588.4M1866.4 607.3V610.0M1871.8 588.4V591.1M1879.9 596.5V599.2M1885.3 612.7V618.1M1888.0 607.3V612.7M1893.3 593.8V599.2M1896.0 591.1V593.8M1896.0 612.7V618.1M1898.7 607.3V612.7M1901.4 612.7V615.4M1906.8 607.3V610.0M1909.5 596.5V601.9M1912.2 623.5V639.7M1914.9 601.9V610.0M1917.6 610.0V620.8M1923.0 628.9V631.6M1925.7 610.0V612.7M1928.4 588.4V593.8M1928.4 612.7V615.4M1931.1 620.8V623.5M1933.8 610.0V618.1M1936.5 628.9V634.3M1939.2 610.0V618.1M1941.9 620.8V628.9M1944.6 626.2V628.9M1950.0 618.1V623.5M1952.7 626.2V634.3M1955.4 601.9V604.6M1958.1 607.3V610.0M1960.8 604.6V607.3M1963.5 612.7V618.1M1966.2 607.3V612.7M1968.9 607.3V610.0M1968.9 623.5V626.2M1971.6 645.1V658.6M1977.0 623.5V631.6M1979.7 615.4V620.8M1982.4 620.8V631.6M1985.1 631.6V645.1M1987.8 618.1V623.5M1993.2 626.2V628.9M1993.2 645.1V647.8M1995.9 628.9V631.6M1998.6 623.5V626.2M1998.6 645.1V647.8M2001.3 618.1V623.5M2006.7 628.9V639.7M2009.4 618.1V628.9M2012.1 647.8V650.5M2014.8 631.6V637.0M2014.8 650.5V653.2M2022.9 610.0V615.4M2025.6 631.6V637.0M2028.3 626.2V628.9M2031.0 623.5V626.2M2031.0 631.6V634.3M2036.4 639.7V642.4M2036.4 645.1V647.8M2039.1 623.5V628.9M2039.1 642.4V645.1M2041.8 639.7V647.8M2044.5 628.9V637.0M2049.9 618.1V620.8M2049.9 650.5V653.2M2052.6 620.8V628.9M2055.3 612.7V620.8M2055.3 655.9V666.7M2058.0 645.1V655.9M2060.7 642.4V645.1M2060.7 655.9V661.3M2066.1 661.3V664.0M2068.8 645.1V650.5M2071.5 650.5V653.2M2074.2 647.8V650.5M2079.6 642.4V647.8M2082.3 637.0V642.4M2082.3 661.3V664.0M2085.0 655.9V661.3M2087.7 655.9V658.6M2087.7 664.0V666.7M2090.4 658.6V666.7M2093.1 655.9V658.6M2095.8 674.8V682.8M2098.5 655.9V658.6M2098.5 669.4V672.1M2101.2 650.5V655.9M2103.9 655.9V661.3M2106.6 661.3V664.0M2109.3 655.9V661.3M2112.0 661.3V666.7M2114.7 647.8V650.5M2117.4 631.6V634.3M2122.8 634.3V639.7M2122.8 658.6V661.3M2125.5 639.7V645.1M2128.2 631.6V637.0M2130.9 637.0V642.4M2133.6 634.3V637.0M2136.3 650.5V658.6M2139.0 642.4V647.8M2141.7 658.6V666.7M2144.4 645.1V650.5M2149.8 661.3V664.0M2152.5 664.0V666.7M2157.9 666.7V669.4M2160.5 647.8V650.5M2165.9 666.7V669.4M2168.6 655.9V658.6M2171.3 677.4V685.5M2174.0 655.9V661.3M2179.4 664.0V666.7M2179.4 669.4V672.1M2182.1 666.7V669.4M2187.5 680.1V682.8M2190.2 653.2V655.9M2195.6 669.4V674.8M2198.3 658.6V664.0M2201.0 655.9V658.6M2201.0 666.7V672.1M2203.7 672.1V677.4M2206.4 666.7V672.1M2209.1 696.3V699.0M2211.8 685.5V688.2M2214.5 664.0V672.1M2217.2 650.5V653.2M2217.2 672.1V680.1M2222.6 664.0V669.4M2222.6 677.4V685.5M2225.3 672.1V677.4M2228.0 669.4V680.1M2230.7 699.0V709.8M2233.4 685.5V688.2M2236.1 688.2V693.6"/>
<path class="c" d="M190.3 534.4V537.1M193.0 537.1V547.9M195.7 542.5V553.3M198.4 526.3V542.5M201.1 526.3V531.7M203.8 523.6V542.5M206.5 534.4V542.5M209.2 531.7V547.9M211.9 502.0V531.7M214.6 531.7V561.4M217.3 537.1V547.9M220.0 537.1V550.6M222.7 534.4V537.1M225.4 537.1V547.9M228.1 539.8V550.6M230.8 534.4V539.8M233.5 537.1V550.6M236.2 526.3V547.9M238.9 518.2V531.7M241.6 531.7V547.9M244.3 518.2V537.1M247.0 512.8V526.3M249.7 526.3V531.7M252.4 518.2V529.0M255.1 515.5V526.3M257.8 526.3V542.5M260.5 534.4V547.9M263.2 520.9V534.4M265.9 523.6V542.5M268.6 539.8V547.9M271.2 531.7V539.8M273.9 539.8V550.6M276.6 534.4V553.3M279.3 526.3V537.1M282.0 531.7V547.9M284.7 542.5V550.6M287.4 534.4V556.0M290.1 526.3V534.4M292.8 531.7V537.1M295.5 523.6V531.7M298.2 531.7V553.3M300.9 542.5V558.7M303.6 537.1V561.4M306.3 561.4V566.8M309.0 558.7V561.4M311.7 550.6V558.7M314.4 542.5V561.4M317.1 531.7V556.0M319.8 556.0V561.4M322.5 526.3V556.0M325.2 534.4V556.0M327.9 545.2V553.3M330.6 547.9V561.4M333.3 545.2V550.6M336.0 550.6V556.0M338.7 537.1V553.3M341.4 547.9V564.1M344.1 547.9V556.0M346.8 545.2V558.7M349.5 542.5V564.1M352.2 558.7V564.1M354.9 545.2V558.7M357.6 553.3V564.1M360.3 564.1V574.9M363.0 531.7V577.6M365.7 534.4V566.8M368.4 561.4V566.8M371.1 547.9V561.4M373.8 542.5V564.1M376.5 542.5V572.2M379.2 539.8V566.8M381.9 561.4V572.2M384.6 534.4V561.4M387.3 545.2V553.3M390.0 539.8V558.7M392.7 558.7V577.6M395.4 577.6V599.2M398.1 537.1V580.3M400.8 545.2V564.1M403.5 564.1V577.6M406.2 564.1V580.3M408.9 550.6V564.1M411.6 553.3V564.1M414.3 558.7V561.4M417.0 550.6V558.7M419.7 547.9V564.1M422.4 561.4V564.1M425.1 556.0V561.4M427.8 545.2V558.7M430.5 534.4V550.6M433.2 550.6V574.9M435.9 556.0V577.6M438.6 539.8V556.0M441.3 550.6V574.9M444.0 561.4V574.9M446.7 558.7V583.0M449.4 542.5V558.7M452.1 526.3V545.2M454.8 534.4V577.6M457.5 561.4V588.4M460.2 542.5V561.4M462.9 545.2V564.1M465.6 545.2V564.1M468.3 545.2V553.3M471.0 547.9V553.3M473.7 553.3V564.1M476.4 556.0V569.5M479.1 553.3V566.8M481.8 545.2V564.1M484.5 545.2V561.4M487.2 529.0V545.2M489.9 537.1V566.8M492.6 550.6V574.9M495.3 550.6V566.8M498.0 564.1V569.5M500.7 569.5V577.6M503.4 569.5V577.6M506.1 558.7V580.3M508.8 547.9V558.7M511.5 547.9V550.6M514.2 542.5V550.6M516.9 534.4V545.2M519.6 545.2V553.3M522.3 553.3V561.4M525.0 545.2V558.7M527.7 529.0V545.2M530.4 539.8V553.3M533.1 553.3V569.5M535.8 556.0V572.2M538.5 539.8V558.7M541.1 539.8V558.7M543.8 558.7V588.4M546.5 561.4V572.2M549.2 566.8V583.0M551.9 531.7V585.7M554.6 534.4V547.9M557.3 547.9V550.6M560.0 545.2V547.9M562.7 539.8V545.2M565.4 534.4V539.8M568.1 512.8V534.4M570.8 518.2V531.7M573.5 515.5V526.3M576.2 526.3V534.4M578.9 520.9V542.5M581.6 534.4V539.8M584.3 529.0V537.1M587.0 526.3V529.0M589.7 515.5V526.3M592.4 512.8V518.2M595.1 512.8V520.9M597.8 515.5V526.3M600.5 518.2V523.6M603.2 507.4V526.3M605.9 499.3V523.6M608.6 504.7V529.0M611.3 504.7V507.4M614.0 507.4V512.8M616.7 504.7V512.8M619.4 504.7V518.2M622.1 496.6V504.7M624.8 496.6V504.7M627.5 504.7V529.0M630.2 499.3V520.9M632.9 491.2V504.7M635.6 485.8V507.4M638.3 483.1V529.0M641.0 483.1V520.9M643.7 493.9V512.8M646.4 491.2V512.8M649.1 480.4V504.7M651.8 504.7V515.5M654.5 504.7V512.8M657.2 502.0V510.1M659.9 507.4V518.2M662.6 499.3V507.4M665.3 493.9V502.0M668.0 493.9V504.7M670.7 480.4V499.3M673.4 488.5V504.7M676.1 469.6V491.2M678.8 464.2V491.2M681.5 488.5V507.4M684.2 485.8V504.7M686.9 469.6V485.8M689.6 475.0V491.2M692.3 466.9V475.0M695.0 466.9V472.3M697.7 434.5V466.9M700.4 445.3V466.9M703.1 445.3V458.8M705.8 429.1V450.7M708.5 421.0V429.1M711.2 423.7V445.3M713.9 445.3V466.9M716.6 458.8V475.0M719.3 448.0V458.8M722.0 442.6V464.2M724.7 415.6V442.6M727.4 421.0V445.3M730.1 437.2V445.3M732.8 429.1V437.2M735.5 434.5V437.2M738.2 407.5V439.9M740.9 391.4V407.5M743.6 402.2V421.0M746.3 412.9V418.3M749.0 410.2V431.8M751.7 431.8V437.2M754.4 396.8V434.5M757.1 402.2V415.6M759.8 410.2V415.6M762.5 407.5V410.2M765.2 388.7V412.9M767.9 386.0V402.2M770.6 402.2V418.3M773.3 383.3V407.5M776.0 369.8V383.3M778.7 380.6V399.5M781.4 375.2V402.2M784.1 359.0V375.2M786.8 372.5V404.8M789.5 348.2V377.9M792.2 364.4V375.2M794.9 342.8V364.4M797.6 342.8V383.3M800.3 348.2V377.9M803.0 326.6V348.2M805.7 337.4V353.6M808.4 310.4V337.4M811.0 307.7V321.2M813.7 321.2V342.8M816.4 342.8V350.9M819.1 332.0V342.8M821.8 332.0V340.1M824.5 321.2V340.1M827.2 323.9V348.2M829.9 318.5V340.1M832.6 315.8V318.5M835.3 294.2V318.5M838.0 288.8V294.2M840.7 291.5V326.6M843.4 302.3V321.2M846.1 294.2V302.3M848.8 294.2V307.7M851.5 288.8V299.6M854.2 278.0V302.3M856.9 280.7V296.9M859.6 251.0V280.7M862.3 280.7V307.7M865.0 259.1V286.1M867.7 221.3V259.1M870.4 226.7V272.6M873.1 267.2V280.7M875.8 253.7V269.9M878.5 269.9V318.5M881.2 251.0V329.3M883.9 253.7V280.7M886.6 269.9V278.0M889.3 261.8V280.7M892.0 248.3V261.8M894.7 256.4V280.7M897.4 272.6V283.4M900.1 278.0V299.6M902.8 261.8V288.8M905.5 272.6V310.4M908.2 232.1V323.9M910.9 221.3V267.2M913.6 267.2V280.7M916.3 278.0V286.1M919.0 283.4V294.2M921.7 267.2V283.4M924.4 264.5V278.0M927.1 278.0V313.1M929.8 261.8V305.0M932.5 221.3V261.8M935.2 229.4V242.9M937.9 242.9V275.3M940.6 264.5V278.0M943.3 272.6V302.3M946.0 294.2V299.6M948.7 288.8V294.2M951.4 286.1V288.8M954.1 283.4V299.6M956.8 299.6V318.5M959.5 305.0V315.8M962.2 299.6V318.5M964.9 315.8V329.3M967.6 310.4V315.8M970.3 261.8V310.4M973.0 272.6V310.4M975.7 291.5V310.4M978.4 275.3V326.6M981.1 326.6V342.8M983.8 315.8V329.3M986.5 318.5V337.4M989.2 329.3V334.7M991.9 299.6V329.3M994.6 286.1V318.5M997.3 318.5V334.7M1000.0 334.7V356.3M1002.7 356.3V369.8M1005.4 329.3V361.7M1008.1 294.2V329.3M1010.8 286.1V350.9M1013.5 345.5V348.2M1016.2 348.2V364.4M1018.9 348.2V356.3M1021.6 337.4V359.0M1024.3 313.1V337.4M1027.0 310.4V350.9M1029.7 350.9V367.1M1032.4 361.7V367.1M1035.1 359.0V364.4M1037.8 364.4V369.8M1040.5 364.4V386.0M1043.2 372.5V383.3M1045.9 359.0V372.5M1048.6 364.4V388.7M1051.3 380.6V402.2M1054.0 375.2V402.2M1056.7 383.3V399.5M1059.4 367.1V383.3M1062.1 364.4V377.9M1064.8 377.9V391.4M1067.5 334.7V394.1M1070.2 332.0V375.2M1072.9 375.2V383.3M1075.6 383.3V404.8M1078.3 377.9V418.3M1080.9 361.7V402.2M1083.6 383.3V407.5M1086.3 386.0V404.8M1089.0 391.4V399.5M1091.7 396.8V415.6M1094.4 410.2V423.7M1097.1 404.8V412.9M1099.8 410.2V412.9M1102.5 394.1V410.2M1105.2 404.8V418.3M1107.9 402.2V410.2M1110.6 399.5V412.9M1113.3 410.2V415.6M1116.0 415.6V434.5M1118.7 415.6V429.1M1121.4 412.9V434.5M1124.1 434.5V445.3M1126.8 442.6V445.3M1129.5 431.8V442.6M1132.2 423.7V431.8M1134.9 421.0V426.4M1137.6 426.4V442.6M1140.3 437.2V448.0M1143.0 415.6V437.2M1145.7 423.7V442.6M1148.4 423.7V437.2M1151.1 434.5V448.0M1153.8 423.7V434.5M1156.5 421.0V450.7M1159.2 439.9V450.7M1161.9 426.4V445.3M1164.6 445.3V475.0M1167.3 437.2V480.4M1170.0 429.1V477.7M1172.7 442.6V475.0M1175.4 442.6V445.3M1178.1 439.9V450.7M1180.8 431.8V466.9M1183.5 458.8V472.3M1186.2 437.2V458.8M1188.9 439.9V448.0M1191.6 429.1V439.9M1194.3 439.9V458.8M1197.0 429.1V464.2M1199.7 426.4V448.0M1202.4 448.0V461.5M1205.1 461.5V475.0M1207.8 464.2V480.4M1210.5 453.4V464.2M1213.2 450.7V477.7M1215.9 466.9V477.7M1218.6 469.6V480.4M1221.3 480.4V496.6M1224.0 485.8V502.0M1226.7 475.0V485.8M1229.4 475.0V488.5M1232.1 439.9V477.7M1234.8 456.1V480.4M1237.5 458.8V499.3M1240.2 493.9V512.8M1242.9 480.4V496.6M1245.6 466.9V480.4M1248.3 445.3V469.6M1251.0 469.6V499.3M1253.7 475.0V502.0M1256.4 469.6V496.6M1259.1 483.1V493.9M1261.8 461.5V483.1M1264.5 477.7V499.3M1267.2 488.5V502.0M1269.9 483.1V488.5M1272.6 483.1V496.6M1275.3 461.5V488.5M1278.0 472.3V491.2M1280.7 472.3V496.6M1283.4 464.2V499.3M1286.1 466.9V502.0M1288.8 437.2V466.9M1291.5 450.7V477.7M1294.2 464.2V480.4M1296.9 466.9V488.5M1299.6 464.2V499.3M1302.3 469.6V496.6M1305.0 477.7V496.6M1307.7 483.1V491.2M1310.4 488.5V518.2M1313.1 502.0V523.6M1315.8 493.9V504.7M1318.5 477.7V499.3M1321.2 499.3V529.0M1323.9 504.7V520.9M1326.6 499.3V510.1M1329.3 491.2V510.1M1332.0 491.2V493.9M1334.7 493.9V504.7M1337.4 504.7V512.8M1340.1 499.3V512.8M1342.8 496.6V523.6M1345.5 515.5V520.9M1348.2 510.1V520.9M1350.8 515.5V531.7M1353.5 504.7V515.5M1356.2 507.4V520.9M1358.9 510.1V518.2M1361.6 512.8V526.3M1364.3 496.6V518.2M1367.0 510.1V534.4M1369.7 504.7V512.8M1372.4 496.6V515.5M1375.1 502.0V529.0M1377.8 529.0V537.1M1380.5 531.7V534.4M1383.2 504.7V531.7M1385.9 499.3V510.1M1388.6 507.4V518.2M1391.3 512.8V526.3M1394.0 526.3V542.5M1396.7 526.3V534.4M1399.4 523.6V531.7M1402.1 510.1V531.7M1404.8 510.1V512.8M1407.5 510.1V520.9M1410.2 520.9V529.0M1412.9 523.6V526.3M1415.6 526.3V534.4M1418.3 499.3V529.0M1421.0 504.7V518.2M1423.7 510.1V526.3M1426.4 504.7V512.8M1429.1 512.8V539.8M1431.8 539.8V542.5M1434.5 537.1V545.2M1437.2 529.0V537.1M1439.9 526.3V542.5M1442.6 529.0V547.9M1445.3 529.0V542.5M1448.0 542.5V553.3M1450.7 531.7V545.2M1453.4 529.0V537.1M1456.1 537.1V547.9M1458.8 545.2V550.6M1461.5 542.5V547.9M1464.2 531.7V556.0M1466.9 512.8V531.7M1469.6 529.0V547.9M1472.3 534.4V550.6M1475.0 531.7V537.1M1477.7 531.7V534.4M1480.4 531.7V542.5M1483.1 539.8V550.6M1485.8 537.1V556.0M1488.5 553.3V572.2M1491.2 547.9V566.8M1493.9 556.0V569.5M1496.6 542.5V558.7M1499.3 537.1V547.9M1502.0 539.8V547.9M1504.7 545.2V566.8M1507.4 534.4V556.0M1510.1 556.0V574.9M1512.8 539.8V569.5M1515.5 534.4V577.6M1518.2 577.6V593.8M1520.9 553.3V580.3M1523.6 545.2V577.6M1526.3 529.0V561.4M1529.0 542.5V569.5M1531.7 545.2V572.2M1534.4 531.7V564.1M1537.1 512.8V547.9M1539.8 547.9V585.7M1542.5 558.7V593.8M1545.2 556.0V574.9M1547.9 564.1V572.2M1550.6 558.7V566.8M1553.3 566.8V580.3M1556.0 550.6V585.7M1558.7 545.2V572.2M1561.4 561.4V569.5M1564.1 542.5V564.1M1566.8 564.1V585.7M1569.5 558.7V588.4M1572.2 553.3V588.4M1574.9 566.8V588.4M1577.6 566.8V577.6M1580.3 577.6V591.1M1583.0 572.2V580.3M1585.7 577.6V591.1M1588.4 585.7V591.1M1591.1 572.2V588.4M1593.8 545.2V572.2M1596.5 550.6V577.6M1599.2 564.1V588.4M1601.9 561.4V577.6M1604.6 558.7V574.9M1607.3 564.1V574.9M1610.0 558.7V583.0M1612.7 566.8V596.5M1615.4 561.4V574.9M1618.1 569.5V577.6M1620.7 577.6V596.5M1623.4 556.0V580.3M1626.1 566.8V574.9M1628.8 572.2V583.0M1631.5 580.3V585.7M1634.2 569.5V583.0M1636.9 574.9V583.0M1639.6 572.2V580.3M1642.3 577.6V585.7M1645.0 569.5V577.6M1647.7 572.2V580.3M1650.4 580.3V596.5M1653.1 585.7V607.3M1655.8 572.2V585.7M1658.5 583.0V601.9M1661.2 556.0V599.2M1663.9 558.7V566.8M1666.6 566.8V580.3M1669.3 580.3V610.0M1672.0 596.5V618.1M1674.7 593.8V604.6M1677.4 572.2V601.9M1680.1 542.5V572.2M1682.8 553.3V591.1M1685.5 591.1V601.9M1688.2 564.1V593.8M1690.9 569.5V604.6M1693.6 564.1V593.8M1696.3 583.0V610.0M1699.0 591.1V612.7M1701.7 580.3V591.1M1704.4 583.0V607.3M1707.1 574.9V599.2M1709.8 591.1V612.7M1712.5 577.6V599.2M1715.2 593.8V604.6M1717.9 585.7V596.5M1720.6 574.9V585.7M1723.3 583.0V599.2M1726.0 569.5V585.7M1728.7 585.7V591.1M1731.4 585.7V601.9M1734.1 577.6V599.2M1736.8 588.4V615.4M1739.5 577.6V601.9M1742.2 572.2V612.7M1744.9 612.7V620.8M1747.6 591.1V615.4M1750.3 580.3V591.1M1753.0 588.4V599.2M1755.7 588.4V593.8M1758.4 593.8V618.1M1761.1 601.9V618.1M1763.8 599.2V604.6M1766.5 599.2V604.6M1769.2 596.5V607.3M1771.9 607.3V610.0M1774.6 593.8V610.0M1777.3 596.5V610.0M1780.0 610.0V631.6M1782.7 601.9V618.1M1785.4 599.2V631.6M1788.1 601.9V639.7M1790.8 583.0V601.9M1793.5 588.4V612.7M1796.2 591.1V604.6M1798.9 596.5V607.3M1801.6 601.9V610.0M1804.3 593.8V604.6M1807.0 596.5V599.2M1809.7 593.8V607.3M1812.4 601.9V620.8M1815.1 596.5V601.9M1817.8 599.2V631.6M1820.5 599.2V628.9M1823.2 607.3V628.9M1825.9 615.4V634.3M1828.6 593.8V615.4M1831.3 591.1V618.1M1834.0 618.1V623.5M1836.7 618.1V623.5M1839.4 610.0V618.1M1842.1 618.1V626.2M1844.8 593.8V628.9M1847.5 591.1V628.9M1850.2 610.0V626.2M1852.9 601.9V610.0M1855.6 604.6V623.5M1858.3 620.8V631.6M1861.0 585.7V620.8M1863.7 588.4V610.0M1866.4 601.9V607.3M1869.1 601.9V604.6M1871.8 591.1V601.9M1874.5 588.4V618.1M1877.2 596.5V618.1M1879.9 599.2V604.6M1882.6 601.9V604.6M1885.3 599.2V612.7M1888.0 612.7V618.1M1890.6 593.8V615.4M1893.3 588.4V593.8M1896.0 593.8V612.7M1898.7 612.7V620.8M1901.4 610.0V612.7M1904.1 604.6V612.7M1906.8 604.6V607.3M1909.5 601.9V615.4M1912.2 588.4V623.5M1914.9 610.0V642.4M1917.6 601.9V610.0M1920.3 607.3V631.6M1923.0 618.1V628.9M1925.7 612.7V618.1M1928.4 593.8V612.7M1931.1 588.4V620.8M1933.8 618.1V634.3M1936.5 607.3V628.9M1939.2 618.1V637.0M1941.9 604.6V620.8M1944.6 610.0V626.2M1947.3 620.8V628.9M1950.0 623.5V634.3M1952.7 607.3V626.2M1955.4 604.6V610.0M1958.1 599.2V607.3M1960.8 607.3V612.7M1963.5 607.3V612.7M1966.2 612.7V628.9M1968.9 610.0V623.5M1971.6 604.6V645.1M1974.3 620.8V658.6M1977.0 615.4V623.5M1979.7 620.8V650.5M1982.4 631.6V655.9M1985.1 612.7V631.6M1987.8 615.4V618.1M1990.5 615.4V647.8M1993.2 628.9V645.1M1995.9 618.1V628.9M1998.6 626.2V645.1M2001.3 623.5V650.5M2004.0 618.1V631.6M2006.7 618.1V628.9M2009.4 628.9V661.3M2012.1 650.5V658.6M2014.8 637.0V650.5M2017.5 631.6V642.4M2020.2 610.0V642.4M2022.9 615.4V639.7M2025.6 618.1V631.6M2028.3 618.1V626.2M2031.0 626.2V631.6M2033.7 628.9V647.8M2036.4 642.4V645.1M2039.1 628.9V642.4M2041.8 618.1V639.7M2044.5 637.0V650.5M2047.2 634.3V653.2M2049.9 620.8V650.5M2052.6 610.0V620.8M2055.3 620.8V655.9M2058.0 655.9V669.4M2060.7 645.1V655.9M2063.4 642.4V664.0M2066.1 653.2V661.3M2068.8 650.5V658.6M2071.5 642.4V650.5M2074.2 650.5V653.2M2076.9 639.7V653.2M2079.6 637.0V642.4M2082.3 642.4V661.3M2085.0 661.3V669.4M2087.7 658.6V664.0M2090.4 655.9V658.6M2093.1 658.6V682.8M2095.8 653.2V674.8M2098.5 658.6V669.4M2101.2 655.9V674.8M2103.9 650.5V655.9M2106.6 650.5V661.3M2109.3 661.3V669.4M2112.0 650.5V661.3M2114.7 650.5V653.2M2117.4 634.3V650.5M2120.1 631.6V661.3M2122.8 639.7V658.6M2125.5 626.2V639.7M2128.2 637.0V647.8M2130.9 628.9V637.0M2133.6 637.0V653.2M2136.3 642.4V650.5M2139.0 647.8V672.1M2141.7 637.0V658.6M2144.4 650.5V661.3M2147.1 658.6V672.1M2149.8 664.0V672.1M2152.5 655.9V664.0M2155.2 655.9V658.6M2157.9 653.2V666.7M2160.5 650.5V669.4M2163.2 647.8V669.4M2165.9 655.9V666.7M2168.6 658.6V664.0M2171.3 655.9V677.4M2174.0 661.3V688.2M2176.7 655.9V669.4M2179.4 666.7V669.4M2182.1 669.4V674.8M2184.8 674.8V677.4M2187.5 672.1V680.1M2190.2 655.9V682.8M2192.9 653.2V674.8M2195.6 658.6V669.4M2198.3 664.0V677.4M2201.0 658.6V666.7M2203.7 655.9V672.1M2206.4 672.1V699.0M2209.1 680.1V696.3M2211.8 677.4V685.5M2214.5 672.1V690.9M2217.2 653.2V672.1M2219.9 650.5V672.1M2222.6 669.4V677.4M2225.3 677.4V699.0M2228.0 680.1V701.7M2230.7 664.0V699.0M2233.4 688.2V709.8M2236.1 685.5V688.2"/>
</g>
</g>
<path d="M188.9 54.0H2240.2V1568.1H188.9Z M194.3 59.4V1562.7H2234.8V59.4Z" fill="#000" fill-rule="evenodd"/>
<rect x="2240.0" y="54.0" width="1.0" height="1540.6" fill="#000"/>
<rect x="2240.9" y="54.0" width="1.9" height="1540.6" fill="#62626c"/>
<rect x="194.3" y="59.4" width="2040.4" height="2.7" fill="#bdbdbd"/>
<path d="M188.9 1567.1h5.4V1594.6h-5.4ZM302.3 1567.1h5.4V1578.6h-5.4ZM415.6 1567.1h5.4V1594.6h-5.4ZM529.0 1567.1h5.4V1578.6h-5.4ZM642.4 1567.1h5.4V1594.6h-5.4ZM758.4 1567.1h5.4V1578.6h-5.4ZM871.8 1567.1h5.4V1594.6h-5.4ZM985.1 1567.1h5.4V1578.6h-5.4ZM1098.5 1567.1h5.4V1594.6h-5.4ZM1211.9 1567.1h5.4V1578.6h-5.4ZM1325.2 1567.1h5.4V1594.6h-5.4ZM1438.6 1567.1h5.4V1578.6h-5.4ZM1551.9 1567.1h5.4V1594.6h-5.4ZM1665.3 1567.1h5.4V1578.6h-5.4ZM1778.6 1567.1h5.4V1594.6h-5.4ZM1894.7 1567.1h5.4V1578.6h-5.4ZM2008.1 1567.1h5.4V1594.6h-5.4ZM2121.4 1567.1h5.4V1578.6h-5.4ZM2234.8 1567.1h5.4V1594.6h-5.4Z" fill="#000"/>
<text class="tick" x="191.6" y="1665.4">5</text>
<text class="tick" x="418.9" y="1665.4">10</text>
<text class="tick" x="646.2" y="1665.4">15</text>
<text class="tick" x="873.4" y="1665.4">20</text>
<text class="tick" x="1100.7" y="1665.4">25</text>
<text class="tick" x="1328.0" y="1665.4">30</text>
<text class="tick" x="1555.3" y="1665.4">35</text>
<text class="tick" x="1782.5" y="1665.4">40</text>
<text class="tick" x="2009.8" y="1665.4">45</text>
<text class="tick" x="2237.1" y="1665.4">50</text>
<text class="title" x="1213.5" y="1787.9">2θ(degree)</text>
<text class="ytitle" transform="translate(94.4 810.3) rotate(-90)">Intensity(a.u.)</text>
<text class="lab" x="1707.4" y="573.5">GEL/CS/Cur0.2</text>
<text class="lab" x="1710.7" y="813.0">GEL/CS/Cur0.1</text>
<text class="lab" x="1710.3" y="1040.0">GEL/CS/Cur0.05</text>
<text class="lab" x="1710.3" y="1205.5">GEL/CS/Cur0.025</text>
<text class="lab" x="1830.0" y="1393.4">GEL/CS</text>
</svg>
</body>
</html>
